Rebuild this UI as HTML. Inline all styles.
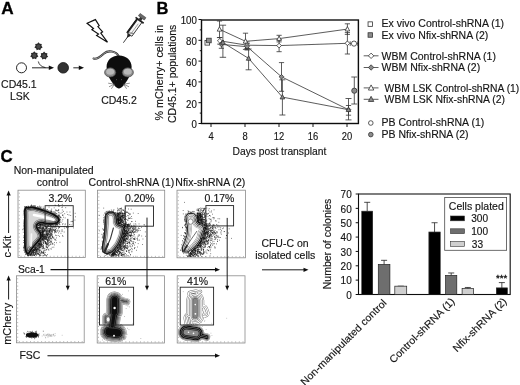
<!DOCTYPE html>
<html><head><meta charset="utf-8"><title>Figure</title>
<style>
html,body{margin:0;padding:0;background:#fff;}
svg{display:block;font-family:"Liberation Sans",sans-serif;}
</style></head>
<body>
<svg width="520" height="385" viewBox="0 0 520 385">
<rect width="520" height="385" fill="#fff"/>
<filter id="soft" x="0" y="0" width="520" height="385" filterUnits="userSpaceOnUse"><feGaussianBlur stdDeviation="0.35"/></filter>
<g filter="url(#soft)">
<text transform="translate(1.2 13.6)" font-size="17.2" text-anchor="start" font-weight="bold" fill="#000" stroke="#000" stroke-width="0.3">A</text>
<text transform="translate(156.4 13.8)" font-size="16.5" text-anchor="start" font-weight="bold" fill="#000" stroke="#000" stroke-width="0.3">B</text>
<text transform="translate(0.6 162.0)" font-size="16.9" text-anchor="start" font-weight="bold" fill="#000" stroke="#000" stroke-width="0.3">C</text>
<polygon points="38.50,42.30 39.81,43.78 41.78,43.88 41.45,45.83 42.59,47.43 40.86,48.39 40.32,50.28 38.50,49.52 36.68,50.28 36.14,48.39 34.41,47.43 35.55,45.83 35.22,43.88 37.19,43.78" fill="#2b2b2b"/>
<circle cx="38.5" cy="46.5" r="1.89" fill="#4a4a4a"/>
<polygon points="34.30,51.30 35.61,52.78 37.58,52.88 37.25,54.83 38.39,56.43 36.66,57.39 36.12,59.28 34.30,58.52 32.48,59.28 31.94,57.39 30.21,56.43 31.35,54.83 31.02,52.88 32.99,52.78" fill="#2b2b2b"/>
<circle cx="34.3" cy="55.5" r="1.89" fill="#4a4a4a"/>
<polygon points="44.10,51.60 45.41,53.08 47.38,53.18 47.05,55.13 48.19,56.73 46.46,57.69 45.92,59.58 44.10,58.82 42.28,59.58 41.74,57.69 40.01,56.73 41.15,55.13 40.82,53.18 42.79,53.08" fill="#2b2b2b"/>
<circle cx="44.1" cy="55.8" r="1.89" fill="#4a4a4a"/>
<circle cx="21.5" cy="67.8" r="5" fill="#fff" stroke="#111" stroke-width="0.9"/>
<path d="M32 67.8H50" stroke="#111" stroke-width="0.9" fill="none"/>
<polygon points="54,67.8 48.8,65.6 48.8,70" fill="#111"/>
<path d="M38.3 61.5Q39.5 66.5 45.5 67.6" stroke="#111" stroke-width="0.8" fill="none"/>
<circle cx="63.2" cy="67.8" r="5.3" fill="#333" stroke="#111" stroke-width="0.8"/>
<path d="M73.3 67.8H80" stroke="#111" stroke-width="0.9" fill="none"/>
<polygon points="84,67.8 78.8,65.6 78.8,70" fill="#111"/>
<text transform="translate(18.9 88.1) scale(1.04 1)" font-size="10.1" text-anchor="middle" fill="#151515" stroke="#151515" stroke-width="0.15">CD45.1</text>
<text transform="translate(19.9 100.4) scale(1.04 1)" font-size="10.1" text-anchor="middle" fill="#151515" stroke="#151515" stroke-width="0.15">LSK</text>
<text transform="translate(119 104) scale(1.04 1)" font-size="10.1" text-anchor="middle" fill="#151515" stroke="#151515" stroke-width="0.15">CD45.2</text>
<polygon points="87.1,23.3 95.4,19.6 99.2,25.6 97.9,26.6 102.6,31.8 100.8,33.1 107.5,42.2 96.6,35.5 98.5,34.1 91.9,29.7 93.5,28.5" fill="#fff" stroke="#111" stroke-width="1.15" stroke-linejoin="miter"/>
<g transform="translate(123.4 42.7) rotate(-54.08)"><path d="M0 0H7.5" stroke="#222" stroke-width="0.8"/><path d="M6 0L10.2 -2.2V2.2Z" fill="#222"/><rect x="10.2" y="-3.1" width="17" height="6.2" fill="#f6f6f6" stroke="#222" stroke-width="0.8"/><path d="M10.2 -2.7H27.2" stroke="#1a1a1a" stroke-width="1.9"/><path d="M12 0.9H24" stroke="#9a9a9a" stroke-width="0.8"/><path d="M10.5 -2.6L13.5 2.8" stroke="#444" stroke-width="0.7"/><path d="M27.6 -5V5" stroke="#222" stroke-width="1.7"/><path d="M28 0H31" stroke="#333" stroke-width="3"/><rect x="30.6" y="-3.6" width="2.9" height="7.2" fill="#6a6a6a" stroke="#333" stroke-width="0.5"/></g>
<path d="M118.6 56.2C116 51 108 50 104 53.5S97 59.5 93.6 58.6" stroke="#2a2a2a" stroke-width="2.1" fill="none" stroke-linecap="round"/>
<path d="M118.6 56.2C116 51 108 50 104 53.5S97 59.5 93.6 58.6" stroke="#c0c0c0" stroke-width="0.75" fill="none" stroke-linecap="round"/>
<path d="M119 55.4C126.5 55.4 131.6 60.5 131.6 66.8C131.6 72 129.8 76.5 127.3 80.3C124.6 84.5 121.5 88.4 119 88.4C116.5 88.4 113.4 84.5 110.7 80.3C108.2 76.5 106.6 72 106.6 66.8C106.6 60.5 111.5 55.4 119 55.4Z" fill="#0a0a0a"/>
<ellipse cx="110.2" cy="72.4" rx="5.6" ry="4.6" fill="#8a8a8a" stroke="#444" stroke-width="0.7"/>
<ellipse cx="110.2" cy="71.8" rx="4" ry="3" fill="#b9b9b9"/>
<ellipse cx="127.8" cy="72.4" rx="5.6" ry="4.6" fill="#8a8a8a" stroke="#444" stroke-width="0.7"/>
<ellipse cx="127.8" cy="71.8" rx="4" ry="3" fill="#b9b9b9"/>
<path d="M114.4 84.2L108.2 83.2" stroke="#5a5a5a" stroke-width="0.65"/>
<path d="M114.4 84.2L109 86.8" stroke="#5a5a5a" stroke-width="0.65"/>
<path d="M114.4 84.2L111.4 88.8" stroke="#5a5a5a" stroke-width="0.65"/>
<path d="M123.6 84.2L129.8 83.2" stroke="#5a5a5a" stroke-width="0.65"/>
<path d="M123.6 84.2L129 86.8" stroke="#5a5a5a" stroke-width="0.65"/>
<path d="M123.6 84.2L126.6 88.8" stroke="#5a5a5a" stroke-width="0.65"/>
<circle cx="116.6" cy="79.6" r="0.6" fill="#555"/><circle cx="121.4" cy="79.6" r="0.6" fill="#555"/>
<rect x="201.5" y="20" width="156.9" height="103.5" fill="none" stroke="#111" stroke-width="1.4"/>
<path d="M198.5 123.50H201.5" stroke="#111" stroke-width="1"/>
<text transform="translate(196.9 128.4) scale(0.95 1)" font-size="10.2" text-anchor="end" fill="#151515" stroke="#151515" stroke-width="0.15">0</text>
<path d="M199.8 113.10H201.5" stroke="#111" stroke-width="1"/>
<path d="M198.5 102.70H201.5" stroke="#111" stroke-width="1"/>
<text transform="translate(196.9 107.60000000000001) scale(0.95 1)" font-size="10.2" text-anchor="end" fill="#151515" stroke="#151515" stroke-width="0.15">20</text>
<path d="M199.8 92.30H201.5" stroke="#111" stroke-width="1"/>
<path d="M198.5 81.90H201.5" stroke="#111" stroke-width="1"/>
<text transform="translate(196.9 86.80000000000001) scale(0.95 1)" font-size="10.2" text-anchor="end" fill="#151515" stroke="#151515" stroke-width="0.15">40</text>
<path d="M199.8 71.50H201.5" stroke="#111" stroke-width="1"/>
<path d="M198.5 61.10H201.5" stroke="#111" stroke-width="1"/>
<text transform="translate(196.9 66.0) scale(0.95 1)" font-size="10.2" text-anchor="end" fill="#151515" stroke="#151515" stroke-width="0.15">60</text>
<path d="M199.8 50.70H201.5" stroke="#111" stroke-width="1"/>
<path d="M198.5 40.30H201.5" stroke="#111" stroke-width="1"/>
<text transform="translate(196.9 45.199999999999996) scale(0.95 1)" font-size="10.2" text-anchor="end" fill="#151515" stroke="#151515" stroke-width="0.15">80</text>
<path d="M199.8 29.90H201.5" stroke="#111" stroke-width="1"/>
<path d="M198.5 19.50H201.5" stroke="#111" stroke-width="1"/>
<text transform="translate(196.9 24.4) scale(0.95 1)" font-size="10.2" text-anchor="end" fill="#151515" stroke="#151515" stroke-width="0.15">100</text>
<path d="M211.0 123.5V127" stroke="#111" stroke-width="1"/>
<text transform="translate(211.0 140.3) scale(0.92 1)" font-size="10.2" text-anchor="middle" fill="#151515" stroke="#151515" stroke-width="0.15">4</text>
<path d="M245.0 123.5V127" stroke="#111" stroke-width="1"/>
<text transform="translate(245.0 140.3) scale(0.92 1)" font-size="10.2" text-anchor="middle" fill="#151515" stroke="#151515" stroke-width="0.15">8</text>
<path d="M279.0 123.5V127" stroke="#111" stroke-width="1"/>
<text transform="translate(279.0 140.3) scale(0.92 1)" font-size="10.2" text-anchor="middle" fill="#151515" stroke="#151515" stroke-width="0.15">12</text>
<path d="M313.0 123.5V127" stroke="#111" stroke-width="1"/>
<text transform="translate(313.0 140.3) scale(0.92 1)" font-size="10.2" text-anchor="middle" fill="#151515" stroke="#151515" stroke-width="0.15">16</text>
<path d="M347.0 123.5V127" stroke="#111" stroke-width="1"/>
<text transform="translate(347.0 140.3) scale(0.92 1)" font-size="10.2" text-anchor="middle" fill="#151515" stroke="#151515" stroke-width="0.15">20</text>
<text transform="translate(279.4 155.0)" font-size="10.3" text-anchor="middle" fill="#151515" stroke="#151515" stroke-width="0.15">Days post transplant</text>
<text transform="translate(163.1 72.6) rotate(-90) scale(1.065 1)" font-size="10.1" text-anchor="middle" fill="#151515" stroke="#151515" stroke-width="0.15">% mCherry+ cells in</text>
<text transform="translate(176.4 73.8) rotate(-90) scale(1.04 1)" font-size="10.1" text-anchor="middle" fill="#151515" stroke="#151515" stroke-width="0.15">CD45.1+ populations</text>
<path d="M219.5 21V37.6M216.9 21H222.1M216.9 37.6H222.1" stroke="#333" stroke-width="0.8" fill="none"/>
<path d="M245.5 33.2V49.4M242.9 33.2H248.1M242.9 49.4H248.1" stroke="#333" stroke-width="0.8" fill="none"/>
<path d="M279.1 35.3V41.9M276.5 35.3H281.70000000000005M276.5 41.9H281.70000000000005" stroke="#333" stroke-width="0.8" fill="none"/>
<path d="M347.4 23.8V34.4M344.79999999999995 23.8H350.0M344.79999999999995 34.4H350.0" stroke="#333" stroke-width="0.8" fill="none"/>
<path d="M219.8 37.5V44.1M217.20000000000002 37.5H222.4M217.20000000000002 44.1H222.4" stroke="#333" stroke-width="0.8" fill="none"/>
<path d="M247 42V48.5M244.4 42H249.6M244.4 48.5H249.6" stroke="#333" stroke-width="0.8" fill="none"/>
<path d="M279.1 39.5V51.7M276.5 39.5H281.70000000000005M276.5 51.7H281.70000000000005" stroke="#333" stroke-width="0.8" fill="none"/>
<path d="M347.4 32.6V54M344.79999999999995 32.6H350.0M344.79999999999995 54H350.0" stroke="#333" stroke-width="0.8" fill="none"/>
<path d="M221.4 40.5V48.3M218.8 40.5H224.0M218.8 48.3H224.0" stroke="#333" stroke-width="0.8" fill="none"/>
<path d="M247.1 43.5V50M244.5 43.5H249.7M244.5 50H249.7" stroke="#333" stroke-width="0.8" fill="none"/>
<path d="M281.5 62.6V91.3M278.9 62.6H284.1M278.9 91.3H284.1" stroke="#333" stroke-width="0.8" fill="none"/>
<path d="M348.5 105.5V115.2M345.9 105.5H351.1M345.9 115.2H351.1" stroke="#333" stroke-width="0.8" fill="none"/>
<path d="M222.9 25.2V57.3M219.70000000000002 25.2H226.1M219.70000000000002 57.3H226.1" stroke="#333" stroke-width="0.8" fill="none"/>
<path d="M248.6 49V69.8M245.6 49H251.6M245.6 69.8H251.6" stroke="#333" stroke-width="0.8" fill="none"/>
<path d="M282.4 79.8V115M279.4 79.8H285.4M279.4 115H285.4" stroke="#333" stroke-width="0.8" fill="none"/>
<path d="M348.5 98.5V119.9M345.5 98.5H351.5M345.5 119.9H351.5" stroke="#333" stroke-width="0.8" fill="none"/>
<path d="M354.3 77V104M351.3 77H357.3M351.3 104H357.3" stroke="#333" stroke-width="0.8" fill="none"/>
<path d="M350.2 43.6H358M350.2 41.3V45.9M357.8 41.3V45.9" stroke="#333" stroke-width="0.8" fill="none"/>
<path d="M219.8 40.8L247 45.2L279.1 45.6L347.4 43.3" stroke="#333" stroke-width="0.8" fill="none"/>
<path d="M221.4 44.4L247.1 46.7L281.5 76.8L348.5 109.7" stroke="#333" stroke-width="0.8" fill="none"/>
<path d="M219.5 29.3L245.5 41.3L279.1 38.6L347.4 29.1" stroke="#333" stroke-width="0.8" fill="none"/>
<path d="M222.9 42.5L248.6 58.4L282.4 97.1L348.5 109.7" stroke="#333" stroke-width="0.8" fill="none"/>
<polygon points="217.2,31.14 219.5,26.77 221.8,31.14" fill="#fff" stroke="#333" stroke-width="0.8"/>
<polygon points="243.2,43.14 245.5,38.769999999999996 247.8,43.14" fill="#fff" stroke="#333" stroke-width="0.8"/>
<polygon points="276.8,40.44 279.1,36.07 281.40000000000003,40.44" fill="#fff" stroke="#333" stroke-width="0.8"/>
<polygon points="345.09999999999997,30.94 347.4,26.57 349.7,30.94" fill="#fff" stroke="#333" stroke-width="0.8"/>
<polygon points="217.45000000000002,40.8 219.8,38.449999999999996 222.15,40.8 219.8,43.15" fill="#fff" stroke="#333" stroke-width="0.8"/>
<polygon points="244.65,45.2 247,42.85 249.35,45.2 247,47.550000000000004" fill="#fff" stroke="#333" stroke-width="0.8"/>
<polygon points="276.75,45.6 279.1,43.25 281.45000000000005,45.6 279.1,47.95" fill="#fff" stroke="#333" stroke-width="0.8"/>
<polygon points="345.04999999999995,43.3 347.4,40.949999999999996 349.75,43.3 347.4,45.65" fill="#fff" stroke="#333" stroke-width="0.8"/>
<polygon points="219.05,44.4 221.4,42.05 223.75,44.4 221.4,46.75" fill="#8c8c8c" stroke="#333" stroke-width="0.8"/>
<polygon points="244.75,46.7 247.1,44.35 249.45,46.7 247.1,49.050000000000004" fill="#8c8c8c" stroke="#333" stroke-width="0.8"/>
<polygon points="279.15,76.8 281.5,74.45 283.85,76.8 281.5,79.14999999999999" fill="#8c8c8c" stroke="#333" stroke-width="0.8"/>
<polygon points="346.15,109.7 348.5,107.35000000000001 350.85,109.7 348.5,112.05" fill="#8c8c8c" stroke="#333" stroke-width="0.8"/>
<polygon points="220.6,44.34 222.9,39.97 225.20000000000002,44.34" fill="#8c8c8c" stroke="#333" stroke-width="0.8"/>
<polygon points="246.29999999999998,60.239999999999995 248.6,55.87 250.9,60.239999999999995" fill="#8c8c8c" stroke="#333" stroke-width="0.8"/>
<polygon points="280.09999999999997,98.94 282.4,94.57 284.7,98.94" fill="#8c8c8c" stroke="#333" stroke-width="0.8"/>
<polygon points="346.2,111.54 348.5,107.17 350.8,111.54" fill="#8c8c8c" stroke="#333" stroke-width="0.8"/>
<rect x="205.0" y="40.5" width="4.6" height="4.6" fill="#fff" stroke="#333" stroke-width="0.8"/>
<rect x="206.6" y="38.2" width="4.6" height="4.6" fill="#8c8c8c" stroke="#333" stroke-width="0.8"/>
<circle cx="354" cy="43.6" r="2.6" fill="#fff" stroke="#333" stroke-width="0.8"/>
<circle cx="354.3" cy="90.7" r="2.6" fill="#8c8c8c" stroke="#333" stroke-width="0.8"/>
<rect x="368.05" y="21.85" width="4.5" height="4.5" fill="#fff" stroke="#333" stroke-width="0.8"/>
<rect x="368.05" y="32.75" width="4.5" height="4.5" fill="#8c8c8c" stroke="#333" stroke-width="0.8"/>
<path d="M363.7 55.8H378.5" stroke="#333" stroke-width="0.8"/>
<path d="M363.7 67.5H378.5" stroke="#333" stroke-width="0.8"/>
<path d="M363.7 87.9H378.5" stroke="#333" stroke-width="0.8"/>
<path d="M363.7 99.3H378.5" stroke="#333" stroke-width="0.8"/>
<polygon points="368.40000000000003,55.8 371.1,53.099999999999994 373.8,55.8 371.1,58.5" fill="#fff" stroke="#333" stroke-width="0.8"/>
<polygon points="368.40000000000003,67.5 371.1,64.8 373.8,67.5 371.1,70.2" fill="#8c8c8c" stroke="#333" stroke-width="0.8"/>
<polygon points="368.40000000000003,90.06 371.1,84.93 373.8,90.06" fill="#fff" stroke="#333" stroke-width="0.8"/>
<polygon points="368.40000000000003,101.46 371.1,96.33 373.8,101.46" fill="#8c8c8c" stroke="#333" stroke-width="0.8"/>
<circle cx="370.8" cy="123" r="2.3" fill="#fff" stroke="#333" stroke-width="0.8"/>
<circle cx="370.8" cy="134.6" r="2.3" fill="#8c8c8c" stroke="#333" stroke-width="0.8"/>
<text transform="translate(381.6 27.4) scale(1.04 1)" font-size="10.1" text-anchor="start" fill="#151515" stroke="#151515" stroke-width="0.15">Ex vivo Control-shRNA (1)</text>
<text transform="translate(381.6 39.1) scale(1.04 1)" font-size="10.1" text-anchor="start" fill="#151515" stroke="#151515" stroke-width="0.15">Ex vivo Nfix-shRNA (2)</text>
<text transform="translate(381.6 60.2) scale(1.04 1)" font-size="10.1" text-anchor="start" fill="#151515" stroke="#151515" stroke-width="0.15">WBM Control-shRNA (1)</text>
<text transform="translate(381.6 71.4) scale(1.04 1)" font-size="10.1" text-anchor="start" fill="#151515" stroke="#151515" stroke-width="0.15">WBM Nfix-shRNA (2)</text>
<text transform="translate(384.6 91.5) scale(1.022 1)" font-size="10.1" text-anchor="start" fill="#151515" stroke="#151515" stroke-width="0.15">WBM LSK Control-shRNA (1)</text>
<text transform="translate(384.6 103.2) scale(1.033 1)" font-size="10.1" text-anchor="start" fill="#151515" stroke="#151515" stroke-width="0.15">WBM LSK Nfix-shRNA (2)</text>
<text transform="translate(381.6 126.3) scale(1.04 1)" font-size="10.1" text-anchor="start" fill="#151515" stroke="#151515" stroke-width="0.15">PB Control-shRNA (1)</text>
<text transform="translate(381.6 138) scale(1.04 1)" font-size="10.1" text-anchor="start" fill="#151515" stroke="#151515" stroke-width="0.15">PB Nfix-shRNA (2)</text>
<text transform="translate(53.6 173.5) scale(1.04 1)" font-size="10.1" text-anchor="middle" fill="#151515" stroke="#151515" stroke-width="0.15">Non-manipulated</text>
<text transform="translate(52.6 185.7) scale(1.04 1)" font-size="10.1" text-anchor="middle" fill="#151515" stroke="#151515" stroke-width="0.15">control</text>
<text transform="translate(131.5 185.7) scale(1.04 1)" font-size="10.1" text-anchor="middle" fill="#151515" stroke="#151515" stroke-width="0.15">Control-shRNA (1)</text>
<text transform="translate(210.3 186.2) scale(1.04 1)" font-size="10.1" text-anchor="middle" fill="#151515" stroke="#151515" stroke-width="0.15">Nfix-shRNA (2)</text>
<rect x="18.0" y="190.2" width="67.30" height="67.20" fill="#fff" stroke="#8a8a8a" stroke-width="0.8"/>
<path d="M18.8 193.2h1M21.0 255.79999999999998v1M18.8 196.9h1M24.7 255.79999999999998v1M18.8 200.5h1M28.3 255.79999999999998v1M18.8 204.2h1M32.0 255.79999999999998v1M18.8 207.8h1M35.7 255.79999999999998v1M18.8 211.5h1M39.3 255.79999999999998v1M18.8 215.2h1M43.0 255.79999999999998v1M18.8 218.8h1M46.7 255.79999999999998v1M18.8 222.5h1M50.3 255.79999999999998v1M18.8 226.1h1M54.0 255.79999999999998v1M18.8 229.8h1M57.6 255.79999999999998v1M18.8 233.4h1M61.3 255.79999999999998v1M18.8 237.1h1M65.0 255.79999999999998v1M18.8 240.8h1M68.6 255.79999999999998v1M18.8 244.4h1M72.3 255.79999999999998v1M18.8 248.1h1M76.0 255.79999999999998v1M18.8 251.7h1M79.6 255.79999999999998v1M18.8 255.4h1M83.3 255.79999999999998v1" stroke="#666" stroke-width="0.5"/>
<clipPath id="c0"><rect x="19.0" y="191.2" width="65.3" height="65.19999999999999"/></clipPath>
<rect x="97.5" y="190.2" width="67.20" height="67.30" fill="#fff" stroke="#8a8a8a" stroke-width="0.8"/>
<path d="M98.3 193.2h1M100.5 255.9v1M98.3 196.9h1M104.2 255.9v1M98.3 200.5h1M107.8 255.9v1M98.3 204.2h1M111.5 255.9v1M98.3 207.9h1M115.1 255.9v1M98.3 211.5h1M118.8 255.9v1M98.3 215.2h1M122.5 255.9v1M98.3 218.9h1M126.1 255.9v1M98.3 222.5h1M129.8 255.9v1M98.3 226.2h1M133.4 255.9v1M98.3 229.8h1M137.1 255.9v1M98.3 233.5h1M140.7 255.9v1M98.3 237.2h1M144.4 255.9v1M98.3 240.8h1M148.1 255.9v1M98.3 244.5h1M151.7 255.9v1M98.3 248.2h1M155.4 255.9v1M98.3 251.8h1M159.0 255.9v1M98.3 255.5h1M162.7 255.9v1" stroke="#666" stroke-width="0.5"/>
<clipPath id="c1"><rect x="98.5" y="191.2" width="65.19999999999999" height="65.30000000000001"/></clipPath>
<rect x="177" y="190.2" width="68.50" height="67.60" fill="#fff" stroke="#8a8a8a" stroke-width="0.8"/>
<path d="M177.8 193.2h1M180.0 256.2v1M177.8 196.9h1M183.7 256.2v1M177.8 200.6h1M187.5 256.2v1M177.8 204.2h1M191.2 256.2v1M177.8 207.9h1M194.9 256.2v1M177.8 211.6h1M198.7 256.2v1M177.8 215.3h1M202.4 256.2v1M177.8 219.0h1M206.1 256.2v1M177.8 222.7h1M209.9 256.2v1M177.8 226.3h1M213.6 256.2v1M177.8 230.0h1M217.4 256.2v1M177.8 233.7h1M221.1 256.2v1M177.8 237.4h1M224.8 256.2v1M177.8 241.1h1M228.6 256.2v1M177.8 244.8h1M232.3 256.2v1M177.8 248.4h1M236.0 256.2v1M177.8 252.1h1M239.8 256.2v1M177.8 255.8h1M243.5 256.2v1" stroke="#666" stroke-width="0.5"/>
<clipPath id="c2"><rect x="178" y="191.2" width="66.5" height="65.60000000000002"/></clipPath>
<rect x="16.4" y="275.8" width="67.80" height="67.00" fill="#fff" stroke="#8a8a8a" stroke-width="0.8"/>
<path d="M17.2 278.8h1M19.4 341.2v1M17.2 282.4h1M23.1 341.2v1M17.2 286.1h1M26.8 341.2v1M17.2 289.7h1M30.5 341.2v1M17.2 293.4h1M34.2 341.2v1M17.2 297.0h1M37.9 341.2v1M17.2 300.7h1M41.6 341.2v1M17.2 304.3h1M45.3 341.2v1M17.2 308.0h1M49.0 341.2v1M17.2 311.6h1M52.6 341.2v1M17.2 315.3h1M56.3 341.2v1M17.2 318.9h1M60.0 341.2v1M17.2 322.6h1M63.7 341.2v1M17.2 326.2h1M67.4 341.2v1M17.2 329.9h1M71.1 341.2v1M17.2 333.5h1M74.8 341.2v1M17.2 337.2h1M78.5 341.2v1M17.2 340.8h1M82.2 341.2v1" stroke="#666" stroke-width="0.5"/>
<clipPath id="c3"><rect x="17.4" y="276.8" width="65.80000000000001" height="65.0"/></clipPath>
<rect x="97.2" y="275.8" width="67.30" height="67.20" fill="#fff" stroke="#8a8a8a" stroke-width="0.8"/>
<path d="M98.0 278.8h1M100.2 341.4v1M98.0 282.5h1M103.9 341.4v1M98.0 286.1h1M107.5 341.4v1M98.0 289.8h1M111.2 341.4v1M98.0 293.4h1M114.9 341.4v1M98.0 297.1h1M118.5 341.4v1M98.0 300.8h1M122.2 341.4v1M98.0 304.4h1M125.9 341.4v1M98.0 308.1h1M129.5 341.4v1M98.0 311.7h1M133.2 341.4v1M98.0 315.4h1M136.8 341.4v1M98.0 319.0h1M140.5 341.4v1M98.0 322.7h1M144.2 341.4v1M98.0 326.4h1M147.8 341.4v1M98.0 330.0h1M151.5 341.4v1M98.0 333.7h1M155.2 341.4v1M98.0 337.3h1M158.8 341.4v1M98.0 341.0h1M162.5 341.4v1" stroke="#666" stroke-width="0.5"/>
<clipPath id="c4"><rect x="98.2" y="276.8" width="65.3" height="65.19999999999999"/></clipPath>
<rect x="177.2" y="275.8" width="67.80" height="67.20" fill="#fff" stroke="#8a8a8a" stroke-width="0.8"/>
<path d="M178.0 278.8h1M180.2 341.4v1M178.0 282.5h1M183.9 341.4v1M178.0 286.1h1M187.6 341.4v1M178.0 289.8h1M191.3 341.4v1M178.0 293.4h1M195.0 341.4v1M178.0 297.1h1M198.7 341.4v1M178.0 300.8h1M202.4 341.4v1M178.0 304.4h1M206.1 341.4v1M178.0 308.1h1M209.8 341.4v1M178.0 311.7h1M213.4 341.4v1M178.0 315.4h1M217.1 341.4v1M178.0 319.0h1M220.8 341.4v1M178.0 322.7h1M224.5 341.4v1M178.0 326.4h1M228.2 341.4v1M178.0 330.0h1M231.9 341.4v1M178.0 333.7h1M235.6 341.4v1M178.0 337.3h1M239.3 341.4v1M178.0 341.0h1M243.0 341.4v1" stroke="#666" stroke-width="0.5"/>
<clipPath id="c5"><rect x="178.2" y="276.8" width="65.80000000000001" height="65.19999999999999"/></clipPath>
<g clip-path="url(#c0)">
<path d="M47.9 234.0h.7M51.7 225.9h.7M40.8 240.9h.7M41.7 240.0h.7M42.5 224.7h.7M40.2 226.4h.7M43.1 237.3h.7M45.4 230.8h.7M45.9 243.9h.7M44.5 236.4h.7M44.1 255.2h.7M46.0 232.9h.7M45.2 228.2h.7M36.7 250.0h.7M52.5 229.4h.7M46.5 235.6h.7M41.2 241.3h.7M42.7 230.2h.7M41.3 245.6h.7M40.7 242.5h.7M44.9 238.2h.7M47.7 246.2h.7M50.5 231.4h.7M35.1 251.9h.7M39.3 247.2h.7M67.9 227.3h.7M41.7 237.1h.7M44.3 239.4h.7M48.1 224.8h.7M48.7 242.1h.7M35.5 252.0h.7M47.8 242.8h.7M51.1 242.3h.7M33.2 254.2h.7M42.0 238.9h.7M37.3 246.3h.7M49.9 244.5h.7M42.1 232.7h.7M42.2 236.0h.7M42.3 238.5h.7M41.2 229.0h.7M35.1 248.5h.7M38.7 227.7h.7M38.8 251.8h.7M51.8 226.1h.7M33.6 252.2h.7M36.2 250.1h.7M45.7 237.0h.7M55.2 235.2h.7M56.1 228.4h.7M42.2 229.2h.7M45.4 239.3h.7M37.9 242.6h.7M42.1 237.1h.7M57.8 235.5h.7M42.8 245.9h.7M47.3 240.3h.7M50.0 225.3h.7M33.1 252.7h.7M48.2 249.4h.7M44.1 236.3h.7M38.7 244.1h.7M45.5 225.5h.7M41.4 228.8h.7M41.7 234.6h.7M38.6 228.4h.7M40.1 226.8h.7M32.0 251.9h.7M40.5 243.5h.7M46.0 234.8h.7M51.6 235.3h.7M39.2 255.8h.7M43.8 238.6h.7M39.0 226.8h.7M42.8 234.6h.7M58.0 228.7h.7M52.1 224.3h.7M42.4 228.3h.7M47.4 241.2h.7M29.8 255.3h.7M33.0 251.6h.7M46.8 235.4h.7M40.3 228.9h.7M42.5 248.8h.7M43.8 234.2h.7M43.1 255.5h.7M36.3 251.2h.7M47.3 247.5h.7M49.4 230.9h.7M39.7 224.4h.7M40.1 224.4h.7M40.9 246.0h.7M47.2 254.6h.7M34.3 255.6h.7M32.5 254.5h.7M46.0 230.9h.7M44.9 229.9h.7M41.0 252.8h.7M43.0 250.8h.7M34.0 249.5h.7M51.4 226.3h.7M47.4 248.9h.7M38.5 247.9h.7M33.5 249.1h.7M47.8 234.3h.7M59.2 236.4h.7M52.1 236.5h.7M46.2 229.0h.7M52.0 227.6h.7M46.2 249.7h.7M52.2 228.3h.7M54.3 244.9h.7M45.2 234.9h.7M40.4 224.0h.7M34.3 255.1h.7M37.3 253.8h.7M50.1 237.6h.7M53.1 230.4h.7M43.1 231.7h.7M43.0 242.6h.7M45.3 231.9h.7M31.9 253.1h.7M50.9 235.0h.7M32.7 252.9h.7M48.5 237.2h.7M43.3 240.8h.7M46.9 240.5h.7M42.6 229.5h.7M40.7 223.6h.7M44.7 238.9h.7M40.7 247.1h.7M41.8 240.3h.7M39.4 241.6h.7M41.8 241.7h.7M43.9 231.6h.7M51.5 240.0h.7M39.5 241.8h.7M56.0 237.9h.7M45.9 243.4h.7M35.6 246.0h.7M48.7 238.2h.7M30.9 254.1h.7M47.8 246.2h.7M55.1 231.9h.7M51.1 241.7h.7M45.6 228.0h.7M42.4 227.5h.7M42.6 231.3h.7M48.0 225.9h.7M42.6 252.7h.7M41.8 228.5h.7M53.7 228.1h.7M36.0 252.2h.7M29.9 254.5h.7M62.6 236.4h.7M33.6 250.6h.7M49.9 228.7h.7M45.3 234.5h.7M47.3 229.9h.7M55.4 224.1h.7M40.0 241.5h.7M42.0 234.3h.7M39.6 243.8h.7M28.1 255.5h.7M36.4 249.1h.7M42.2 232.1h.7M40.1 224.8h.7M46.9 227.7h.7M52.1 237.2h.7M49.5 231.9h.7M50.5 228.4h.7M39.8 246.3h.7M54.3 226.4h.7M45.1 237.3h.7M53.2 225.9h.7M36.7 249.6h.7M41.0 226.2h.7M33.3 251.5h.7M45.8 238.2h.7M38.2 253.6h.7M48.3 232.2h.7M48.9 231.2h.7M40.3 227.1h.7M43.9 230.1h.7M45.9 233.6h.7M54.0 232.9h.7M42.9 239.8h.7M48.2 224.1h.7M54.8 231.6h.7M39.9 241.4h.7M61.7 229.7h.7M42.5 227.0h.7M40.5 250.1h.7M35.5 250.6h.7M52.2 236.3h.7M28.4 255.4h.7M47.3 234.6h.7M46.6 244.2h.7M42.8 236.7h.7M41.4 227.7h.7M39.0 225.8h.7M46.5 228.8h.7M50.7 226.2h.7M48.3 245.3h.7M41.8 232.7h.7M46.7 238.4h.7M46.2 228.6h.7M30.6 254.8h.7M34.2 255.1h.7M30.2 254.9h.7M41.7 233.6h.7M41.8 235.9h.7M45.2 238.9h.7M40.1 239.9h.7M39.0 223.7h.7M44.5 236.5h.7M48.1 224.9h.7M42.5 231.1h.7M49.5 242.5h.7M38.4 244.9h.7M40.1 246.8h.7M46.7 234.1h.7M35.9 255.5h.7M45.9 244.4h.7M50.8 224.9h.7M50.0 243.9h.7M35.8 247.4h.7M43.0 240.5h.7M46.3 239.9h.7M44.2 250.4h.7M46.4 242.5h.7M42.3 246.0h.7M45.9 231.0h.7M42.3 235.2h.7M45.7 226.9h.7M44.8 243.9h.7M40.5 243.9h.7M50.9 223.6h.7M32.7 249.4h.7M47.4 240.9h.7M47.1 244.9h.7M46.9 231.7h.7M40.3 225.9h.7M55.4 230.2h.7M42.8 247.5h.7M42.8 235.9h.7M45.3 239.1h.7M48.4 243.6h.7M40.1 244.4h.7M43.7 231.8h.7M37.3 247.7h.7M52.8 223.9h.7M40.5 225.5h.7M46.3 246.0h.7M37.9 245.5h.7M48.8 238.6h.7M51.3 238.7h.7M53.9 230.0h.7M29.5 255.3h.7M41.7 238.4h.7M40.5 250.1h.7M43.3 232.2h.7M47.1 230.3h.7M39.7 242.4h.7M64.4 228.1h.7M42.5 227.8h.7M48.5 250.2h.7M35.8 246.4h.7M49.3 231.0h.7M46.5 224.3h.7M51.4 223.6h.7M41.9 233.3h.7M43.6 228.1h.7M37.3 250.8h.7M38.6 223.6h.7M59.1 227.4h.7M33.4 253.6h.7M58.1 232.9h.7M62.1 235.6h.7M54.1 242.6h.7M46.8 235.2h.7M42.5 225.1h.7M43.0 226.8h.7M35.0 253.9h.7M42.5 231.6h.7M51.9 229.7h.7M55.9 235.6h.7M36.7 249.9h.7M51.5 244.0h.7M47.4 241.3h.7M46.2 246.9h.7M44.7 238.2h.7M37.6 248.0h.7M45.9 225.1h.7M35.8 253.6h.7M47.5 234.7h.7M43.0 233.2h.7M63.8 232.0h.7M39.1 244.8h.7M50.0 236.3h.7M42.2 228.9h.7M34.6 252.9h.7M43.0 239.7h.7M45.8 255.9h.7M44.2 238.1h.7M44.0 226.4h.7M46.1 234.6h.7M44.8 231.9h.7M47.2 242.0h.7M48.9 236.9h.7M48.1 237.0h.7M42.6 234.5h.7M43.6 225.5h.7M66.2 227.6h.7M49.3 239.9h.7M53.9 230.5h.7M41.6 232.3h.7M48.1 238.0h.7M38.5 254.5h.7M57.7 224.2h.7M44.7 224.5h.7M54.5 238.9h.7M45.0 242.6h.7M29.3 253.6h.7M44.9 250.3h.7M58.9 231.6h.7M46.0 227.0h.7M43.0 245.7h.7M31.1 254.1h.7M44.4 248.4h.7M43.0 238.4h.7M33.7 248.9h.7M52.1 231.1h.7M46.9 233.4h.7M38.7 227.7h.7M45.7 246.2h.7M50.4 227.1h.7M41.7 242.4h.7M43.1 236.1h.7M54.2 223.8h.7M60.6 233.3h.7M41.0 244.4h.7M36.3 252.2h.7M42.4 231.5h.7M30.5 254.7h.7M48.1 224.2h.7M43.4 239.7h.7M49.1 231.9h.7M40.6 245.2h.7M42.2 224.6h.7M51.5 234.5h.7M47.8 229.9h.7M33.2 249.4h.7M51.7 230.2h.7M34.1 255.0h.7M55.9 231.0h.7M42.0 230.7h.7M35.7 254.4h.7M42.1 239.6h.7M46.0 237.1h.7M39.9 245.1h.7M42.7 236.3h.7M46.2 230.4h.7M39.5 225.2h.7M57.4 225.5h.7M41.2 252.2h.7M51.8 247.3h.7M41.8 234.2h.7M54.9 229.5h.7M46.0 224.5h.7M41.1 245.1h.7M46.5 234.3h.7M48.7 229.0h.7M41.6 234.9h.7M44.0 254.6h.7M57.1 230.2h.7M47.4 235.1h.7M52.7 237.6h.7M49.3 225.1h.7M30.8 253.4h.7M53.7 229.8h.7M57.0 224.5h.7M45.9 236.9h.7M56.6 224.8h.7M62.4 224.6h.7M48.5 231.9h.7M39.5 247.8h.7M45.9 232.4h.7M33.4 254.6h.7M38.6 246.8h.7M41.6 233.8h.7M34.3 248.1h.7M42.7 253.3h.7M59.2 224.3h.7M62.2 231.1h.7M31.9 254.5h.7M41.5 236.1h.7M47.4 239.5h.7M35.4 253.7h.7M46.6 247.5h.7M33.5 250.2h.7M51.8 234.2h.7M50.1 233.9h.7M53.3 226.1h.7M41.6 229.9h.7M47.0 225.6h.7M48.2 224.6h.7M30.4 255.4h.7M36.8 252.2h.7M39.2 226.2h.7M55.8 226.6h.7M41.6 238.0h.7M51.6 231.1h.7M40.8 245.4h.7M40.3 247.8h.7M51.5 227.4h.7M34.3 250.8h.7M50.5 235.6h.7M35.9 247.5h.7M47.4 231.5h.7M48.8 228.5h.7M48.1 234.1h.7M49.8 236.4h.7M42.0 231.0h.7M46.1 249.8h.7M66.0 226.8h.7M46.2 238.9h.7M44.0 253.2h.7M40.1 224.8h.7M45.7 229.7h.7M45.0 255.1h.7M49.8 235.6h.7M36.8 251.6h.7M35.0 248.8h.7M37.7 254.2h.7M43.1 243.6h.7M44.7 230.6h.7M45.0 230.1h.7M51.2 231.8h.7M48.8 230.1h.7M46.7 223.9h.7M53.2 229.5h.7M45.5 233.6h.7M50.7 241.3h.7M47.6 225.6h.7M43.0 241.4h.7M40.3 244.3h.7M37.6 246.1h.7M42.7 236.8h.7M35.7 254.5h.7M48.1 233.7h.7M44.1 237.0h.7M38.6 251.6h.7M41.7 229.9h.7M34.6 247.2h.7M30.8 252.8h.7M44.5 237.3h.7M37.9 252.2h.7M41.7 238.5h.7M39.9 241.4h.7M39.2 244.3h.7M38.7 243.7h.7M45.5 235.6h.7M41.6 232.7h.7M42.5 240.4h.7M41.8 239.4h.7M37.5 249.7h.7M40.0 227.6h.7M38.4 254.1h.7M40.5 225.2h.7M43.0 253.6h.7M47.2 243.7h.7M39.3 250.3h.7M54.1 230.7h.7M48.9 236.6h.7M55.1 229.4h.7M49.8 230.6h.7M46.6 236.0h.7M38.8 227.5h.7M43.2 252.7h.7M56.3 224.8h.7M45.9 224.7h.7M39.5 250.7h.7M45.2 241.4h.7M39.5 243.9h.7M45.0 242.4h.7M45.5 237.3h.7M47.6 237.7h.7M48.4 224.3h.7M48.1 231.1h.7M35.1 248.3h.7M51.1 229.3h.7M43.5 238.9h.7M43.7 237.5h.7M50.8 226.5h.7M43.4 224.8h.7M46.9 244.2h.7M39.3 248.8h.7M47.4 240.1h.7M44.3 235.8h.7M39.5 254.4h.7M40.3 255.9h.7M36.2 247.3h.7M33.0 255.4h.7M54.8 239.5h.7M44.7 228.9h.7M35.4 249.1h.7M42.6 234.9h.7M42.5 248.1h.7M55.9 232.4h.7M37.9 250.0h.7M37.1 253.4h.7M42.3 230.3h.7M50.6 233.9h.7M41.3 224.7h.7M33.6 253.9h.7M39.1 245.6h.7M35.8 249.0h.7M53.6 227.2h.7M43.5 235.2h.7M40.7 251.9h.7M34.1 252.2h.7M53.9 226.9h.7M41.9 236.3h.7M34.8 249.4h.7M59.6 242.3h.7M42.2 235.2h.7M51.0 229.2h.7M47.4 247.7h.7M46.0 231.7h.7M46.2 244.3h.7M37.0 245.1h.7M43.5 233.7h.7M38.5 228.4h.7M45.0 243.5h.7M34.2 252.6h.7M40.7 227.8h.7M55.2 224.2h.7M41.9 223.6h.7M44.2 235.1h.7M51.3 230.8h.7M47.3 230.1h.7M40.8 243.8h.7M29.8 253.9h.7M43.7 231.4h.7M39.3 244.2h.7M32.4 251.8h.7M49.6 232.1h.7M47.7 223.9h.7M49.0 234.9h.7M52.5 244.5h.7M40.4 247.3h.7M43.5 231.6h.7M40.5 240.8h.7M41.7 236.7h.7M35.7 248.8h.7M64.9 223.9h.7M46.4 228.1h.7M49.5 230.0h.7M42.0 244.4h.7M35.3 249.9h.7M47.5 233.3h.7M53.8 225.1h.7M43.1 246.8h.7M49.4 223.7h.7M50.1 238.6h.7M39.2 247.6h.7M40.8 226.9h.7M48.9 231.0h.7M35.5 247.9h.7M41.8 246.1h.7M52.1 232.1h.7M50.1 241.5h.7M44.3 240.5h.7M54.7 232.1h.7M58.7 230.6h.7M36.8 252.1h.7M42.1 231.2h.7M45.8 247.7h.7M45.8 234.1h.7M33.3 252.1h.7M35.2 253.0h.7M40.6 244.0h.7M39.7 255.3h.7M46.4 238.8h.7M41.6 251.4h.7M42.9 237.7h.7M51.4 233.5h.7M44.0 230.4h.7M32.0 253.1h.7M43.4 228.2h.7M29.9 253.7h.7M42.6 234.7h.7M40.6 224.9h.7M42.9 246.0h.7M42.9 247.4h.7M47.5 225.6h.7M36.1 250.1h.7M34.3 250.1h.7M32.7 251.7h.7M33.3 253.2h.7M42.9 230.2h.7M59.0 227.1h.7M35.5 249.9h.7M41.4 244.1h.7M51.5 232.8h.7M53.5 226.7h.7M49.9 230.2h.7M42.9 233.9h.7M42.3 231.8h.7M43.1 232.7h.7M48.6 233.9h.7M44.8 254.8h.7M37.5 243.6h.7M49.0 224.5h.7M37.5 248.6h.7M44.1 234.8h.7M51.7 230.5h.7M43.5 251.5h.7M50.4 229.0h.7M44.4 223.5h.7M41.7 255.3h.7M52.2 223.6h.7M33.1 249.4h.7M49.6 229.5h.7M32.0 250.5h.7M47.7 232.0h.7M43.9 230.5h.7M38.7 246.2h.7M36.7 244.2h.7M42.6 226.1h.7M44.6 249.1h.7M41.4 243.9h.7M47.1 236.3h.7M44.9 252.4h.7M51.0 224.3h.7M43.0 230.2h.7M54.6 239.8h.7M45.4 235.8h.7M44.3 238.5h.7M39.7 240.8h.7M48.6 244.5h.7M43.5 234.8h.7M35.5 250.9h.7M36.3 245.0h.7M45.5 237.8h.7M36.7 248.6h.7M42.7 238.5h.7M30.8 252.3h.7M46.6 233.3h.7M37.4 246.4h.7M43.5 228.6h.7M46.1 231.5h.7M49.7 228.7h.7M49.2 234.2h.7M53.5 247.2h.7M43.4 226.8h.7M42.3 236.0h.7M31.7 255.5h.7M51.9 237.6h.7M44.2 229.9h.7M44.6 230.2h.7M48.5 236.1h.7M34.4 249.2h.7M45.8 246.0h.7M41.1 238.6h.7M47.1 228.1h.7M38.7 247.6h.7M39.5 253.0h.7M38.1 247.8h.7M43.0 237.2h.7M43.4 252.1h.7M37.9 248.7h.7M49.4 245.6h.7M42.6 244.4h.7M38.7 243.9h.7M55.3 226.7h.7M41.1 246.7h.7M36.9 244.0h.7M48.2 238.3h.7M46.1 243.7h.7M35.9 253.7h.7M50.1 229.4h.7M51.6 236.1h.7M42.2 239.4h.7M39.3 241.2h.7M43.4 228.7h.7M55.6 240.4h.7M50.7 226.8h.7M38.9 246.8h.7M48.0 240.1h.7M49.5 240.5h.7M46.0 236.8h.7M37.1 245.7h.7M41.8 236.3h.7M32.2 255.5h.7M47.0 235.1h.7M43.4 236.5h.7M49.1 223.9h.7M38.9 246.2h.7M42.0 234.9h.7M39.4 247.6h.7M34.8 254.0h.7M33.4 249.5h.7M42.4 236.2h.7M37.1 248.7h.7M38.2 249.8h.7M44.4 241.8h.7M49.2 230.8h.7M38.1 244.3h.7M35.6 250.1h.7M49.6 233.1h.7M48.2 241.3h.7M51.4 235.0h.7M32.1 251.1h.7M49.4 231.7h.7M41.7 237.3h.7M35.0 247.0h.7M41.7 232.6h.7M46.3 239.1h.7M47.9 237.4h.7M49.6 235.3h.7M31.0 253.7h.7M34.0 250.4h.7M30.8 252.9h.7M36.0 250.5h.7M37.9 244.1h.7M28.8 254.4h.7M36.2 244.8h.7M43.4 228.1h.7M42.8 231.1h.7M48.1 228.5h.7M31.2 252.9h.7M35.0 252.5h.7M39.5 243.3h.7M42.0 252.6h.7M35.6 249.1h.7M39.4 246.0h.7M39.7 240.8h.7M39.2 252.2h.7M39.2 241.5h.7M46.2 228.0h.7M47.4 239.5h.7M42.8 228.2h.7M48.7 239.5h.7M31.1 251.5h.7M45.6 223.7h.7M45.2 241.8h.7M39.8 245.1h.7M47.1 237.1h.7M39.1 254.7h.7M41.4 244.2h.7M52.0 224.4h.7M37.2 253.8h.7M50.5 234.2h.7M41.4 239.3h.7M42.8 252.7h.7M39.4 243.8h.7M46.1 234.5h.7M45.6 238.9h.7M40.1 240.6h.7M46.0 237.6h.7M53.5 237.2h.7M46.4 233.0h.7M39.5 250.4h.7M46.9 232.3h.7M49.7 240.0h.7M34.5 249.2h.7M44.1 234.3h.7M43.4 242.6h.7M37.2 244.1h.7M36.6 247.0h.7M32.9 252.3h.7M42.2 233.3h.7M48.3 223.7h.7M52.4 243.3h.7M40.0 244.9h.7M52.5 243.4h.7M44.9 243.5h.7M45.5 242.9h.7M38.1 245.6h.7M50.7 238.4h.7M37.4 248.3h.7M42.8 224.7h.7M42.9 248.7h.7M46.9 235.5h.7M34.3 250.2h.7M51.7 231.9h.7M47.5 233.3h.7M44.3 237.5h.7M38.8 244.4h.7M39.4 241.9h.7M53.8 224.8h.7M46.9 242.2h.7M30.8 253.4h.7M41.9 236.1h.7M56.2 242.7h.7M47.9 239.0h.7M49.4 236.9h.7M48.9 230.4h.7M39.5 228.4h.7M35.5 245.7h.7M43.0 227.5h.7M31.5 251.8h.7M55.5 227.7h.7M43.0 231.4h.7M35.1 247.3h.7M35.5 248.7h.7M42.2 246.7h.7M52.6 226.2h.7M38.9 243.9h.7M38.1 253.8h.7M54.2 231.8h.7M42.6 223.9h.7M51.1 224.0h.7M55.1 226.1h.7M42.1 233.6h.7M35.8 251.5h.7M46.5 239.3h.7M40.7 242.2h.7M43.1 237.8h.7M36.5 249.4h.7M47.8 235.3h.7M49.1 237.1h.7M45.4 236.0h.7M51.2 249.0h.7M39.1 241.9h.7M31.0 255.2h.7M38.1 246.4h.7M43.1 243.2h.7M33.6 255.3h.7M50.7 233.5h.7M46.5 237.4h.7M40.1 245.8h.7M47.8 243.1h.7M50.3 232.7h.7M39.5 223.6h.7M45.3 242.6h.7M33.9 250.0h.7M33.2 250.6h.7M39.1 249.9h.7M49.3 232.4h.7M35.5 251.2h.7M41.4 253.2h.7M49.6 234.8h.7M37.7 249.4h.7M41.5 230.0h.7M60.9 231.1h.7M40.9 243.2h.7M50.2 230.2h.7M41.6 231.8h.7M52.9 238.4h.7M45.1 226.4h.7M55.0 231.1h.7M49.8 242.3h.7M48.2 240.5h.7M44.4 239.0h.7M44.5 229.8h.7M44.0 229.4h.7M44.8 241.8h.7M45.4 236.6h.7M39.2 224.9h.7M30.4 255.9h.7M39.2 244.1h.7M38.7 249.1h.7M49.8 234.7h.7M41.4 240.4h.7M28.0 255.7h.7M41.3 251.6h.7M42.4 232.0h.7M49.8 248.8h.7M41.7 248.4h.7M37.9 250.1h.7M40.5 224.7h.7M43.0 230.0h.7M42.8 225.2h.7M44.0 241.6h.7M35.5 254.3h.7M40.0 253.1h.7M45.2 236.4h.7M46.5 227.4h.7M39.9 241.8h.7M47.0 244.3h.7M44.3 236.3h.7M50.6 238.1h.7M46.3 255.7h.7M47.8 230.7h.7M42.9 234.9h.7M42.8 252.8h.7M50.8 225.0h.7M35.7 249.1h.7M39.7 255.5h.7M50.2 225.3h.7M40.0 254.0h.7M38.6 245.5h.7M43.4 248.1h.7M42.3 226.9h.7M45.9 227.5h.7M43.0 239.1h.7M45.3 228.2h.7" stroke="#111" stroke-width="0.7"/>
<path d="M49.2 216.1h.7M48.5 213.1h.7M74.6 220.1h.7M54.7 230.7h.7M65.4 207.7h.7M57.6 222.0h.7M70.7 224.9h.7M58.5 209.9h.7M40.4 218.6h.7M55.6 210.9h.7M45.8 214.6h.7M50.7 219.0h.7M46.8 209.6h.7M63.7 226.6h.7M48.8 223.1h.7M54.9 221.0h.7M55.3 212.4h.7M56.3 223.1h.7M40.1 228.8h.7M73.0 227.9h.7M71.9 221.5h.7M46.3 213.4h.7M41.1 217.7h.7M49.6 221.0h.7M75.0 216.8h.7M57.4 219.9h.7M53.0 215.7h.7M48.6 212.1h.7M52.0 216.9h.7M53.5 211.9h.7M50.4 217.3h.7M56.6 210.6h.7M54.6 222.9h.7M56.6 214.8h.7M44.6 215.6h.7M58.0 226.3h.7M48.3 213.1h.7M54.1 218.2h.7M40.0 212.6h.7M48.9 221.0h.7M36.9 210.9h.7M55.5 209.7h.7M51.2 219.1h.7M48.8 210.9h.7M49.3 215.0h.7M53.7 212.0h.7M62.0 206.9h.7M48.1 217.0h.7M60.6 213.3h.7M56.0 213.6h.7M58.1 227.4h.7M45.6 219.7h.7M39.8 222.8h.7M63.3 217.2h.7M37.5 219.4h.7M62.6 223.5h.7M58.9 206.0h.7M42.5 225.5h.7M36.5 223.8h.7M70.7 221.6h.7M62.3 215.0h.7M36.5 216.4h.7M47.8 216.7h.7M57.7 216.1h.7M52.1 219.5h.7M49.9 228.1h.7M54.9 217.5h.7M47.7 213.2h.7M64.8 217.9h.7M38.1 213.6h.7M48.5 214.3h.7M61.9 210.0h.7M55.4 217.9h.7M37.0 217.3h.7M49.0 220.0h.7M45.0 218.8h.7M58.6 223.2h.7M49.9 213.4h.7M61.9 204.4h.7M41.2 221.0h.7M57.2 210.8h.7M51.7 211.6h.7M50.6 222.4h.7M58.1 204.5h.7M58.5 206.3h.7M62.5 219.4h.7M74.8 213.3h.7M50.1 223.3h.7M43.0 212.8h.7M45.9 216.6h.7M38.1 219.9h.7M56.0 217.4h.7M68.7 215.0h.7M64.4 213.7h.7M58.3 205.4h.7M52.2 215.9h.7M44.6 213.3h.7M46.2 212.7h.7M44.0 213.9h.7M38.4 216.2h.7M58.6 215.5h.7M44.6 225.1h.7M60.7 222.5h.7M62.7 215.0h.7M48.6 223.7h.7M43.9 216.3h.7M54.2 219.2h.7M47.0 222.9h.7M48.0 221.4h.7M61.8 221.0h.7M58.1 210.0h.7M55.2 226.0h.7M36.6 218.8h.7M40.6 212.6h.7M47.0 221.2h.7M52.3 224.1h.7M39.2 222.3h.7M60.2 217.4h.7M55.2 213.6h.7M38.0 214.6h.7M44.7 226.9h.7M52.2 218.9h.7M58.2 212.3h.7M60.1 219.3h.7M56.1 219.7h.7M67.4 214.5h.7M55.6 221.5h.7M40.1 224.2h.7M55.7 210.5h.7M48.7 207.1h.7M50.8 210.2h.7M53.8 207.8h.7M54.9 215.4h.7M50.7 216.6h.7M51.4 209.1h.7M39.7 214.3h.7M54.7 205.1h.7M41.6 213.3h.7M38.4 219.0h.7M48.5 212.1h.7M39.2 221.8h.7M42.7 220.5h.7M54.9 205.6h.7M38.1 217.0h.7M53.8 221.7h.7M58.8 223.2h.7M45.9 215.7h.7M58.5 214.4h.7M61.6 207.5h.7M57.2 216.0h.7M53.4 217.1h.7M38.2 214.2h.7M66.6 212.0h.7M36.8 216.2h.7M45.7 211.5h.7M40.7 223.3h.7M44.0 210.4h.7M58.7 220.4h.7M38.5 221.5h.7M62.4 215.5h.7M60.1 216.9h.7M54.6 221.6h.7M70.4 215.5h.7M44.7 216.8h.7M63.3 211.4h.7M58.8 212.9h.7M55.1 221.1h.7M37.0 216.5h.7M52.6 220.5h.7M39.8 211.1h.7M47.9 215.7h.7M44.1 225.6h.7M59.4 217.1h.7M58.0 210.3h.7M46.4 213.5h.7M36.0 217.1h.7M48.4 225.6h.7M39.9 214.2h.7M54.6 219.4h.7M50.3 214.2h.7M55.4 219.2h.7M51.6 217.4h.7M51.3 211.7h.7M47.8 211.5h.7M54.2 221.1h.7M69.3 224.6h.7M41.1 214.3h.7M39.7 218.8h.7M71.8 221.3h.7M50.0 218.8h.7M69.6 212.0h.7M40.7 228.8h.7M53.8 212.3h.7M50.5 223.0h.7M48.5 212.8h.7M41.8 228.4h.7M50.3 220.7h.7M45.5 220.0h.7M59.0 216.1h.7M45.0 215.9h.7M39.4 215.8h.7M46.7 218.3h.7M64.7 224.8h.7M45.1 220.6h.7M53.2 221.6h.7M50.2 218.6h.7M44.8 212.3h.7M59.6 224.8h.7M57.3 219.6h.7M52.9 214.3h.7M52.2 213.7h.7M39.4 224.7h.7M57.0 231.2h.7M42.1 216.9h.7M44.4 217.9h.7M47.7 212.5h.7M61.8 212.3h.7M44.4 220.3h.7M44.1 214.4h.7M53.9 214.8h.7" stroke="#111" stroke-width="0.7"/>
<path d="M25.0 230.8h.7M29.1 252.5h.7M25.6 243.6h.7M26.9 227.7h.7M28.7 235.2h.7M33.5 253.0h.7M27.5 248.0h.7M34.0 241.8h.7M27.0 242.8h.7M29.6 236.2h.7M28.9 240.0h.7M34.5 245.6h.7M29.2 243.9h.7M35.8 220.8h.7M35.9 216.0h.7M32.2 239.1h.7M35.9 235.3h.7M28.1 222.4h.7M25.0 241.2h.7M29.1 223.4h.7M32.1 222.8h.7M28.3 226.5h.7M36.6 249.6h.7M29.4 213.1h.7M31.1 232.9h.7M31.4 238.8h.7M28.7 243.1h.7M33.3 234.5h.7M28.4 226.2h.7M32.8 218.8h.7M29.4 223.0h.7M24.4 239.2h.7M29.9 232.4h.7M33.5 214.1h.7M29.7 235.5h.7M33.3 219.0h.7M32.9 234.6h.7M35.4 245.7h.7M32.2 257.8h.7M30.0 226.9h.7M28.6 220.7h.7M29.9 209.5h.7M29.7 237.1h.7M34.0 227.8h.7M35.6 224.2h.7M29.5 209.5h.7M27.0 222.5h.7M35.8 238.2h.7M25.7 238.3h.7M31.9 229.3h.7M30.1 228.4h.7M27.9 211.2h.7M29.6 247.1h.7M35.6 228.7h.7M27.1 229.5h.7M33.5 236.1h.7M27.7 236.2h.7M29.2 238.0h.7M28.4 214.8h.7M30.2 240.9h.7M25.7 230.7h.7M33.4 227.6h.7M27.5 255.8h.7M33.2 244.0h.7M26.3 251.1h.7M23.5 225.9h.7M32.9 247.5h.7M26.4 224.2h.7M30.8 209.5h.7M32.5 238.5h.7M28.3 238.3h.7M33.0 235.6h.7M32.0 249.6h.7M28.1 233.9h.7M28.0 244.0h.7M28.4 237.5h.7M30.5 232.8h.7M36.7 231.0h.7M35.5 241.6h.7M35.1 230.1h.7" stroke="#111" stroke-width="0.7"/>
<clipPath id="b1"><path d="M24.70 208.30C26.20 205.00 26.42 207.38 29.00 206.90C31.58 206.42 30.45 206.37 33.30 206.70C36.15 207.03 35.17 207.04 38.50 208.00C41.83 208.96 40.95 208.70 44.40 209.90C47.85 211.10 46.64 210.53 50.00 212.00C53.36 213.47 52.81 212.85 55.60 214.80C58.39 216.75 58.40 216.25 59.30 218.50C60.20 220.75 60.04 220.56 58.60 222.30C57.16 224.04 58.01 223.61 54.50 224.30C50.99 224.99 50.80 224.87 46.90 224.60C43.00 224.33 44.23 223.28 41.50 223.40C38.77 223.52 38.79 223.47 37.80 225.00C36.81 226.53 37.33 226.40 38.20 228.50C39.07 230.60 39.62 229.60 40.70 232.00C41.78 234.40 42.01 234.01 41.80 236.50C41.59 238.99 41.56 237.96 40.00 240.30C38.44 242.64 38.64 241.90 36.60 244.30C34.56 246.70 35.00 245.99 33.20 248.30C31.40 250.61 32.04 250.11 30.60 252.00C29.16 253.89 29.72 254.21 28.40 254.60C27.08 254.99 27.31 254.98 26.20 253.30C25.09 251.62 25.33 252.09 24.70 249.00C24.07 245.91 24.31 247.98 24.10 243.00C23.89 238.02 24.03 239.93 24.00 232.40C23.97 224.87 23.79 225.13 24.00 217.90C24.21 210.67 23.20 211.60 24.70 208.30Z"/></clipPath>
<path d="M43.3 208.9h.7M26.4 212.8h.7M26.7 253.3h.7M24.6 248.0h.7M24.4 208.6h.7M39.7 222.4h.7M26.3 250.9h.7M23.1 237.4h.7M39.5 224.7h.7M38.4 225.1h.7M40.7 207.9h.7M25.1 246.8h.7M39.9 230.9h.7M32.0 251.1h.7M47.3 210.8h.7M32.0 206.8h.7M42.4 221.9h.7M24.6 213.3h.7M30.5 207.2h.7M41.2 231.9h.7M23.8 242.2h.7M30.5 250.4h.7M33.2 246.2h.7M28.8 253.1h.7M30.9 250.9h.7M43.3 225.0h.7M39.3 223.6h.7M42.9 222.7h.7M58.5 221.2h.7M23.3 250.1h.7M38.7 223.9h.7M40.4 208.3h.7M24.5 241.3h.7M38.9 207.1h.7M59.1 221.8h.7M43.8 208.8h.7M40.0 230.4h.7M37.8 241.0h.7M43.2 208.9h.7M41.2 236.1h.7M57.8 216.4h.7M23.8 223.6h.7M28.5 206.5h.7M54.9 225.8h.7M37.3 206.7h.7M24.7 235.1h.7M42.5 223.5h.7M57.1 223.6h.7M40.0 224.9h.7M40.0 209.8h.7M32.7 206.1h.7M60.8 217.7h.7M41.3 232.6h.7M25.4 217.1h.7M25.8 249.4h.7M55.8 221.9h.7M40.4 232.5h.7M40.0 242.6h.7M34.8 205.7h.7M39.5 227.7h.7M42.0 232.9h.7M34.4 207.0h.7M48.2 211.3h.7M38.3 225.4h.7M39.8 224.8h.7M56.7 219.2h.7M31.6 206.3h.7M37.2 226.0h.7M31.3 250.2h.7M23.2 248.2h.7M57.6 216.7h.7M38.7 224.0h.7M24.3 208.2h.7M22.9 228.8h.7M58.2 219.5h.7M31.1 205.1h.7M23.9 213.8h.7M59.0 222.8h.7M24.4 251.7h.7M47.0 224.3h.7M23.9 238.6h.7M47.3 226.4h.7M30.4 247.7h.7M37.4 223.6h.7M37.4 208.3h.7M56.4 222.1h.7M59.0 222.1h.7M58.7 219.1h.7M39.4 206.1h.7M32.0 252.9h.7M32.7 250.0h.7M35.2 246.9h.7M24.9 209.3h.7M26.1 252.9h.7M50.1 212.3h.7M27.5 251.2h.7M37.8 225.9h.7M44.2 223.9h.7M29.3 253.4h.7M26.3 209.3h.7M34.6 207.8h.7M24.1 250.3h.7M29.5 254.7h.7M25.7 246.4h.7M27.7 253.5h.7M56.4 222.9h.7M57.3 222.5h.7M24.7 219.3h.7M38.3 227.8h.7M44.5 210.0h.7M24.8 229.4h.7M50.7 210.5h.7M25.5 230.3h.7M59.4 219.7h.7M37.7 225.2h.7M25.8 210.1h.7M38.6 207.1h.7M40.4 223.1h.7M37.7 227.8h.7M58.3 221.7h.7M40.8 222.4h.7M45.3 224.6h.7M25.3 215.0h.7M55.2 224.8h.7M33.1 207.3h.7M50.1 211.5h.7M58.2 216.5h.7M24.4 237.4h.7M53.8 214.8h.7M28.0 254.8h.7M24.9 209.1h.7M41.8 224.7h.7M34.6 206.2h.7M38.4 228.1h.7M59.0 219.2h.7M47.3 211.9h.7M44.6 210.0h.7M38.6 208.6h.7M48.0 211.0h.7M36.0 243.8h.7M42.8 207.1h.7M35.6 209.5h.7M58.7 221.8h.7M58.1 222.7h.7M30.0 206.5h.7M27.1 208.1h.7M49.4 222.1h.7M23.4 235.9h.7M40.0 231.1h.7M41.2 230.5h.7M59.5 220.5h.7M30.7 253.8h.7M26.9 251.5h.7M24.4 248.0h.7M26.9 253.2h.7M33.2 246.5h.7M38.0 241.4h.7M27.2 253.0h.7M34.1 207.0h.7M26.4 250.5h.7M25.3 251.9h.7M39.6 240.7h.7M33.9 250.7h.7M38.9 242.3h.7M41.4 225.3h.7M42.6 232.2h.7M27.3 253.7h.7M38.9 229.5h.7M40.1 207.8h.7M51.8 224.9h.7M40.5 235.4h.7M24.0 216.2h.7M45.8 210.6h.7M39.8 223.6h.7M35.6 245.0h.7M49.8 212.3h.7M57.8 222.4h.7M27.7 254.2h.7M24.6 213.1h.7M23.5 247.4h.7M46.0 225.1h.7M56.3 223.8h.7M31.6 252.2h.7M41.8 225.2h.7M36.4 208.4h.7M39.1 238.8h.7M41.0 209.4h.7M37.4 230.3h.7M42.1 234.9h.7M27.5 206.5h.7M32.8 207.5h.7M38.6 228.1h.7M37.3 207.5h.7M22.4 229.7h.7M57.9 217.5h.7M24.5 244.1h.7M40.6 231.0h.7M46.4 224.3h.7M35.6 246.2h.7M55.6 224.5h.7M39.7 231.5h.7M38.6 227.3h.7M56.4 216.5h.7M41.3 234.5h.7M22.9 215.0h.7M25.7 254.1h.7M40.7 231.6h.7M58.4 222.9h.7M24.0 208.0h.7M24.3 238.1h.7M40.7 231.8h.7M37.4 207.8h.7M24.4 236.0h.7M25.1 248.6h.7M35.0 249.2h.7M56.9 216.8h.7M37.1 208.6h.7M54.8 224.0h.7M33.3 207.1h.7M41.2 234.5h.7M42.9 223.0h.7M57.6 222.5h.7M24.8 213.9h.7M44.4 223.6h.7M34.4 247.6h.7M52.2 212.8h.7M43.7 222.2h.7M38.0 243.2h.7M25.5 219.8h.7M58.2 215.7h.7M34.3 248.3h.7M24.4 218.9h.7M52.3 222.9h.7M41.2 224.3h.7M51.2 213.1h.7M25.4 240.2h.7M23.7 217.1h.7M36.7 245.5h.7M28.7 206.9h.7M25.4 254.6h.7M35.0 206.7h.7M53.8 213.9h.7M26.0 253.5h.7M39.2 208.7h.7M57.1 224.1h.7M53.9 213.8h.7M54.1 214.9h.7M58.1 221.1h.7M39.6 207.7h.7M24.9 212.6h.7M37.6 208.3h.7M26.2 207.4h.7M31.9 252.2h.7M59.3 218.4h.7M33.3 207.1h.7M37.7 207.1h.7M52.3 223.5h.7M50.9 211.7h.7M38.4 228.1h.7M38.2 243.7h.7M46.8 209.7h.7M25.7 243.1h.7M40.9 236.5h.7M36.8 207.2h.7M27.7 255.2h.7M26.5 254.1h.7M40.6 238.6h.7M25.4 242.5h.7M23.8 209.7h.7M27.2 253.0h.7M32.2 250.1h.7M24.5 212.1h.7M58.1 218.8h.7M42.5 237.9h.7M31.0 205.3h.7M24.6 250.7h.7M33.7 205.6h.7M26.1 249.4h.7M24.2 206.5h.7M23.7 213.7h.7M46.5 211.4h.7M41.3 235.2h.7M58.5 222.1h.7M34.8 248.5h.7M31.3 206.3h.7M41.3 223.9h.7M29.4 254.1h.7M39.1 223.3h.7M59.6 217.8h.7M25.7 210.2h.7M40.5 233.3h.7M24.4 252.3h.7M38.7 244.1h.7M57.0 224.2h.7M40.8 233.9h.7M23.5 246.0h.7M25.5 252.2h.7M25.7 243.7h.7M25.5 253.3h.7M36.8 242.4h.7M33.0 206.7h.7M57.0 222.0h.7M33.8 207.8h.7M56.1 225.1h.7M27.8 207.5h.7M24.0 208.0h.7M25.1 246.4h.7M33.0 250.5h.7M45.6 210.0h.7M49.3 225.2h.7M33.1 206.5h.7M38.2 225.7h.7M41.0 238.1h.7M42.0 209.9h.7M24.6 209.3h.7M30.3 252.1h.7M24.7 219.7h.7M33.8 245.7h.7M22.9 232.2h.7M37.7 228.1h.7M57.9 223.3h.7M23.1 247.3h.7M56.0 223.1h.7M42.5 208.6h.7M25.0 210.8h.7M54.5 213.7h.7M24.9 225.2h.7M43.9 224.1h.7M54.9 215.1h.7M40.3 230.6h.7M43.5 223.6h.7M27.8 206.1h.7M37.7 224.2h.7M25.3 249.5h.7M25.0 250.1h.7M47.6 222.9h.7M27.3 255.4h.7M25.6 245.8h.7M24.3 223.0h.7M58.6 218.9h.7M30.9 251.1h.7M26.0 247.4h.7M55.3 214.5h.7M57.7 223.1h.7M30.5 254.5h.7M40.8 211.0h.7M44.2 225.1h.7M57.8 215.6h.7M24.7 248.6h.7M37.5 243.0h.7M54.8 223.3h.7M35.6 244.8h.7M33.2 206.5h.7M57.8 222.5h.7M42.7 235.5h.7M57.2 216.9h.7M50.4 225.4h.7M27.0 209.0h.7M58.9 219.1h.7M50.7 223.9h.7M24.9 236.6h.7M39.2 227.5h.7M26.0 253.5h.7M32.3 250.6h.7M31.8 205.9h.7M27.8 207.3h.7M42.3 211.0h.7M41.4 239.4h.7M41.9 239.6h.7M37.5 242.5h.7M56.5 223.4h.7M55.7 224.1h.7M25.0 236.9h.7M39.2 229.0h.7M33.4 250.6h.7M24.2 216.5h.7M32.5 250.6h.7M27.9 253.8h.7M55.9 215.6h.7M40.6 206.7h.7M40.1 233.4h.7M24.2 242.3h.7M23.2 242.6h.7M26.3 249.5h.7M40.1 239.2h.7M41.3 239.0h.7M57.9 217.9h.7M58.8 220.7h.7M43.9 209.8h.7M40.9 234.3h.7M59.9 221.8h.7M30.8 252.2h.7M28.2 207.2h.7M25.3 249.3h.7M30.7 254.3h.7M39.9 228.2h.7M35.4 247.5h.7M29.4 253.2h.7M31.1 206.1h.7M26.2 253.1h.7M36.8 243.7h.7M25.6 251.4h.7M27.6 254.3h.7M39.1 210.0h.7M38.9 208.9h.7M51.4 222.8h.7M24.2 229.7h.7M24.3 249.7h.7M42.8 235.9h.7M58.8 216.6h.7M28.3 206.9h.7M27.4 251.9h.7M30.7 206.5h.7M25.0 246.5h.7M26.9 208.4h.7M25.7 254.0h.7M24.0 217.3h.7M58.5 218.4h.7M34.3 247.5h.7M24.1 222.0h.7M37.4 208.4h.7M44.4 224.4h.7M44.8 210.8h.7M27.0 255.7h.7M38.0 243.0h.7M56.5 213.7h.7M24.0 244.8h.7M53.0 213.4h.7M23.4 240.5h.7M26.0 207.2h.7M27.7 253.6h.7M29.1 254.9h.7M33.8 206.8h.7M39.9 223.0h.7M26.0 252.7h.7M24.6 225.5h.7M37.6 225.5h.7M24.7 232.9h.7M44.1 223.9h.7M59.4 219.7h.7M46.0 224.3h.7M33.5 205.9h.7M26.8 252.5h.7M30.0 205.9h.7M59.1 219.4h.7M49.0 212.8h.7M50.9 211.7h.7M39.9 222.1h.7M24.3 214.2h.7M25.9 208.6h.7M38.3 229.9h.7M56.3 224.5h.7M41.6 224.0h.7M38.2 207.9h.7M37.3 225.5h.7M59.5 220.3h.7M55.0 223.4h.7M35.4 244.5h.7M59.3 215.2h.7M38.9 225.0h.7" stroke="#111" stroke-width="0.7"/>
<g clip-path="url(#b1)">
<path d="M24.70 208.30C26.20 205.00 26.42 207.38 29.00 206.90C31.58 206.42 30.45 206.37 33.30 206.70C36.15 207.03 35.17 207.04 38.50 208.00C41.83 208.96 40.95 208.70 44.40 209.90C47.85 211.10 46.64 210.53 50.00 212.00C53.36 213.47 52.81 212.85 55.60 214.80C58.39 216.75 58.40 216.25 59.30 218.50C60.20 220.75 60.04 220.56 58.60 222.30C57.16 224.04 58.01 223.61 54.50 224.30C50.99 224.99 50.80 224.87 46.90 224.60C43.00 224.33 44.23 223.28 41.50 223.40C38.77 223.52 38.79 223.47 37.80 225.00C36.81 226.53 37.33 226.40 38.20 228.50C39.07 230.60 39.62 229.60 40.70 232.00C41.78 234.40 42.01 234.01 41.80 236.50C41.59 238.99 41.56 237.96 40.00 240.30C38.44 242.64 38.64 241.90 36.60 244.30C34.56 246.70 35.00 245.99 33.20 248.30C31.40 250.61 32.04 250.11 30.60 252.00C29.16 253.89 29.72 254.21 28.40 254.60C27.08 254.99 27.31 254.98 26.20 253.30C25.09 251.62 25.33 252.09 24.70 249.00C24.07 245.91 24.31 247.98 24.10 243.00C23.89 238.02 24.03 239.93 24.00 232.40C23.97 224.87 23.79 225.13 24.00 217.90C24.21 210.67 23.20 211.60 24.70 208.30Z" fill="#d8d8d8"/>
<path d="M24.70 208.30C26.20 205.00 26.42 207.38 29.00 206.90C31.58 206.42 30.45 206.37 33.30 206.70C36.15 207.03 35.17 207.04 38.50 208.00C41.83 208.96 40.95 208.70 44.40 209.90C47.85 211.10 46.64 210.53 50.00 212.00C53.36 213.47 52.81 212.85 55.60 214.80C58.39 216.75 58.40 216.25 59.30 218.50C60.20 220.75 60.04 220.56 58.60 222.30C57.16 224.04 58.01 223.61 54.50 224.30C50.99 224.99 50.80 224.87 46.90 224.60C43.00 224.33 44.23 223.28 41.50 223.40C38.77 223.52 38.79 223.47 37.80 225.00C36.81 226.53 37.33 226.40 38.20 228.50C39.07 230.60 39.62 229.60 40.70 232.00C41.78 234.40 42.01 234.01 41.80 236.50C41.59 238.99 41.56 237.96 40.00 240.30C38.44 242.64 38.64 241.90 36.60 244.30C34.56 246.70 35.00 245.99 33.20 248.30C31.40 250.61 32.04 250.11 30.60 252.00C29.16 253.89 29.72 254.21 28.40 254.60C27.08 254.99 27.31 254.98 26.20 253.30C25.09 251.62 25.33 252.09 24.70 249.00C24.07 245.91 24.31 247.98 24.10 243.00C23.89 238.02 24.03 239.93 24.00 232.40C23.97 224.87 23.79 225.13 24.00 217.90C24.21 210.67 23.20 211.60 24.70 208.30Z" fill="none" stroke="#d0d0d0" stroke-width="10.00" stroke-linejoin="round"/>
<path d="M24.70 208.30C26.20 205.00 26.42 207.38 29.00 206.90C31.58 206.42 30.45 206.37 33.30 206.70C36.15 207.03 35.17 207.04 38.50 208.00C41.83 208.96 40.95 208.70 44.40 209.90C47.85 211.10 46.64 210.53 50.00 212.00C53.36 213.47 52.81 212.85 55.60 214.80C58.39 216.75 58.40 216.25 59.30 218.50C60.20 220.75 60.04 220.56 58.60 222.30C57.16 224.04 58.01 223.61 54.50 224.30C50.99 224.99 50.80 224.87 46.90 224.60C43.00 224.33 44.23 223.28 41.50 223.40C38.77 223.52 38.79 223.47 37.80 225.00C36.81 226.53 37.33 226.40 38.20 228.50C39.07 230.60 39.62 229.60 40.70 232.00C41.78 234.40 42.01 234.01 41.80 236.50C41.59 238.99 41.56 237.96 40.00 240.30C38.44 242.64 38.64 241.90 36.60 244.30C34.56 246.70 35.00 245.99 33.20 248.30C31.40 250.61 32.04 250.11 30.60 252.00C29.16 253.89 29.72 254.21 28.40 254.60C27.08 254.99 27.31 254.98 26.20 253.30C25.09 251.62 25.33 252.09 24.70 249.00C24.07 245.91 24.31 247.98 24.10 243.00C23.89 238.02 24.03 239.93 24.00 232.40C23.97 224.87 23.79 225.13 24.00 217.90C24.21 210.67 23.20 211.60 24.70 208.30Z" fill="none" stroke="#6a6a6a" stroke-width="8.40" stroke-linejoin="round"/>
<path d="M24.70 208.30C26.20 205.00 26.42 207.38 29.00 206.90C31.58 206.42 30.45 206.37 33.30 206.70C36.15 207.03 35.17 207.04 38.50 208.00C41.83 208.96 40.95 208.70 44.40 209.90C47.85 211.10 46.64 210.53 50.00 212.00C53.36 213.47 52.81 212.85 55.60 214.80C58.39 216.75 58.40 216.25 59.30 218.50C60.20 220.75 60.04 220.56 58.60 222.30C57.16 224.04 58.01 223.61 54.50 224.30C50.99 224.99 50.80 224.87 46.90 224.60C43.00 224.33 44.23 223.28 41.50 223.40C38.77 223.52 38.79 223.47 37.80 225.00C36.81 226.53 37.33 226.40 38.20 228.50C39.07 230.60 39.62 229.60 40.70 232.00C41.78 234.40 42.01 234.01 41.80 236.50C41.59 238.99 41.56 237.96 40.00 240.30C38.44 242.64 38.64 241.90 36.60 244.30C34.56 246.70 35.00 245.99 33.20 248.30C31.40 250.61 32.04 250.11 30.60 252.00C29.16 253.89 29.72 254.21 28.40 254.60C27.08 254.99 27.31 254.98 26.20 253.30C25.09 251.62 25.33 252.09 24.70 249.00C24.07 245.91 24.31 247.98 24.10 243.00C23.89 238.02 24.03 239.93 24.00 232.40C23.97 224.87 23.79 225.13 24.00 217.90C24.21 210.67 23.20 211.60 24.70 208.30Z" fill="none" stroke="#b0b0b0" stroke-width="7.60" stroke-linejoin="round"/>
<path d="M24.70 208.30C26.20 205.00 26.42 207.38 29.00 206.90C31.58 206.42 30.45 206.37 33.30 206.70C36.15 207.03 35.17 207.04 38.50 208.00C41.83 208.96 40.95 208.70 44.40 209.90C47.85 211.10 46.64 210.53 50.00 212.00C53.36 213.47 52.81 212.85 55.60 214.80C58.39 216.75 58.40 216.25 59.30 218.50C60.20 220.75 60.04 220.56 58.60 222.30C57.16 224.04 58.01 223.61 54.50 224.30C50.99 224.99 50.80 224.87 46.90 224.60C43.00 224.33 44.23 223.28 41.50 223.40C38.77 223.52 38.79 223.47 37.80 225.00C36.81 226.53 37.33 226.40 38.20 228.50C39.07 230.60 39.62 229.60 40.70 232.00C41.78 234.40 42.01 234.01 41.80 236.50C41.59 238.99 41.56 237.96 40.00 240.30C38.44 242.64 38.64 241.90 36.60 244.30C34.56 246.70 35.00 245.99 33.20 248.30C31.40 250.61 32.04 250.11 30.60 252.00C29.16 253.89 29.72 254.21 28.40 254.60C27.08 254.99 27.31 254.98 26.20 253.30C25.09 251.62 25.33 252.09 24.70 249.00C24.07 245.91 24.31 247.98 24.10 243.00C23.89 238.02 24.03 239.93 24.00 232.40C23.97 224.87 23.79 225.13 24.00 217.90C24.21 210.67 23.20 211.60 24.70 208.30Z" fill="none" stroke="#2e2e2e" stroke-width="5.80" stroke-linejoin="round"/>
<path d="M24.70 208.30C26.20 205.00 26.42 207.38 29.00 206.90C31.58 206.42 30.45 206.37 33.30 206.70C36.15 207.03 35.17 207.04 38.50 208.00C41.83 208.96 40.95 208.70 44.40 209.90C47.85 211.10 46.64 210.53 50.00 212.00C53.36 213.47 52.81 212.85 55.60 214.80C58.39 216.75 58.40 216.25 59.30 218.50C60.20 220.75 60.04 220.56 58.60 222.30C57.16 224.04 58.01 223.61 54.50 224.30C50.99 224.99 50.80 224.87 46.90 224.60C43.00 224.33 44.23 223.28 41.50 223.40C38.77 223.52 38.79 223.47 37.80 225.00C36.81 226.53 37.33 226.40 38.20 228.50C39.07 230.60 39.62 229.60 40.70 232.00C41.78 234.40 42.01 234.01 41.80 236.50C41.59 238.99 41.56 237.96 40.00 240.30C38.44 242.64 38.64 241.90 36.60 244.30C34.56 246.70 35.00 245.99 33.20 248.30C31.40 250.61 32.04 250.11 30.60 252.00C29.16 253.89 29.72 254.21 28.40 254.60C27.08 254.99 27.31 254.98 26.20 253.30C25.09 251.62 25.33 252.09 24.70 249.00C24.07 245.91 24.31 247.98 24.10 243.00C23.89 238.02 24.03 239.93 24.00 232.40C23.97 224.87 23.79 225.13 24.00 217.90C24.21 210.67 23.20 211.60 24.70 208.30Z" fill="none" stroke="#7a7a7a" stroke-width="4.80" stroke-linejoin="round"/>
<path d="M24.70 208.30C26.20 205.00 26.42 207.38 29.00 206.90C31.58 206.42 30.45 206.37 33.30 206.70C36.15 207.03 35.17 207.04 38.50 208.00C41.83 208.96 40.95 208.70 44.40 209.90C47.85 211.10 46.64 210.53 50.00 212.00C53.36 213.47 52.81 212.85 55.60 214.80C58.39 216.75 58.40 216.25 59.30 218.50C60.20 220.75 60.04 220.56 58.60 222.30C57.16 224.04 58.01 223.61 54.50 224.30C50.99 224.99 50.80 224.87 46.90 224.60C43.00 224.33 44.23 223.28 41.50 223.40C38.77 223.52 38.79 223.47 37.80 225.00C36.81 226.53 37.33 226.40 38.20 228.50C39.07 230.60 39.62 229.60 40.70 232.00C41.78 234.40 42.01 234.01 41.80 236.50C41.59 238.99 41.56 237.96 40.00 240.30C38.44 242.64 38.64 241.90 36.60 244.30C34.56 246.70 35.00 245.99 33.20 248.30C31.40 250.61 32.04 250.11 30.60 252.00C29.16 253.89 29.72 254.21 28.40 254.60C27.08 254.99 27.31 254.98 26.20 253.30C25.09 251.62 25.33 252.09 24.70 249.00C24.07 245.91 24.31 247.98 24.10 243.00C23.89 238.02 24.03 239.93 24.00 232.40C23.97 224.87 23.79 225.13 24.00 217.90C24.21 210.67 23.20 211.60 24.70 208.30Z" fill="none" stroke="#0c0c0c" stroke-width="3.40" stroke-linejoin="round"/>
</g>
<path d="M34 215L44 217L53.5 219.8" stroke="#fff" stroke-width="2.6" fill="none" stroke-linecap="round"/>
<path d="M31.5 234L31 246" stroke="#f6f6f6" stroke-width="1.7" fill="none" stroke-linecap="round"/>
</g>
<rect x="45.1" y="205.7" width="28.10" height="20.90" fill="none" stroke="#222" stroke-width="0.9"/>
<text transform="translate(60.4 202.3) scale(1.04 1)" font-size="10.1" text-anchor="middle" fill="#151515" stroke="#151515" stroke-width="0.15">3.2%</text>
<g clip-path="url(#c1)">
<path d="M119.9 219.6h.7M122.4 218.3h.7M124.7 243.5h.7M120.3 240.2h.7M128.8 225.5h.7M128.4 231.4h.7M121.4 216.7h.7M122.4 233.0h.7M117.8 219.4h.7M125.8 232.2h.7M119.6 215.0h.7M120.2 247.0h.7M115.4 249.6h.7M123.8 225.8h.7M118.0 219.0h.7M122.6 237.0h.7M117.6 218.5h.7M117.6 244.3h.7M124.9 236.3h.7M120.2 240.9h.7M122.8 232.8h.7M120.9 254.0h.7M121.3 238.1h.7M117.9 218.5h.7M111.3 256.5h.7M123.3 230.1h.7M124.9 223.6h.7M124.7 227.7h.7M116.8 215.9h.7M121.2 237.5h.7M120.7 220.5h.7M119.2 242.5h.7M116.9 214.7h.7M112.2 254.6h.7M119.3 215.2h.7M124.9 236.2h.7M115.0 251.0h.7M117.6 216.1h.7M125.0 236.4h.7M113.7 251.1h.7M124.7 240.1h.7M123.0 221.0h.7M112.0 253.7h.7M112.5 252.4h.7M119.4 213.0h.7M117.1 222.0h.7M112.7 254.9h.7M124.5 233.7h.7M115.6 249.2h.7M126.5 232.9h.7M117.0 213.7h.7M126.5 236.4h.7M122.0 246.9h.7M121.7 217.3h.7M121.1 241.6h.7M117.1 220.4h.7M125.1 233.4h.7M123.8 240.9h.7M123.0 238.3h.7M124.8 230.9h.7M120.2 240.9h.7M121.3 216.7h.7M111.2 254.5h.7M124.4 228.9h.7M111.5 254.5h.7M113.7 254.6h.7M113.0 251.7h.7M127.3 225.4h.7M119.7 240.2h.7M118.5 218.8h.7M116.9 218.4h.7M117.7 214.6h.7M123.2 227.7h.7M122.6 236.2h.7M113.8 253.7h.7M119.7 242.2h.7M123.8 229.2h.7M120.1 208.9h.7M122.4 215.8h.7M122.4 245.2h.7M117.2 248.5h.7M121.8 242.2h.7M112.2 254.9h.7M121.9 222.6h.7M118.7 220.4h.7M117.8 249.2h.7M114.9 250.4h.7M117.8 243.2h.7M120.8 241.8h.7M116.9 220.9h.7M118.7 242.5h.7M116.9 213.5h.7M113.1 253.3h.7M122.4 224.3h.7M123.5 233.3h.7M125.1 231.2h.7M118.1 220.5h.7M117.3 215.9h.7M119.1 246.4h.7M119.6 243.3h.7M119.9 217.1h.7M112.5 253.1h.7M117.2 215.5h.7M122.5 241.6h.7M120.2 219.1h.7M115.9 246.7h.7M123.2 236.4h.7M118.3 217.3h.7M121.2 246.4h.7M120.7 219.2h.7M124.7 235.4h.7M118.3 214.7h.7M120.8 213.2h.7M120.5 238.7h.7M124.6 228.5h.7M122.2 233.9h.7M118.5 243.1h.7M118.0 218.7h.7M123.1 241.5h.7M122.7 237.8h.7M118.1 223.1h.7M119.7 240.1h.7M118.7 219.0h.7M118.6 245.4h.7M115.1 254.5h.7M116.6 246.5h.7M120.4 243.0h.7M123.0 232.9h.7M122.8 215.3h.7M124.8 230.4h.7M119.6 217.6h.7M124.7 233.3h.7M122.9 225.6h.7M120.0 245.6h.7M119.7 213.2h.7M123.4 231.5h.7M117.9 220.3h.7M118.8 223.4h.7M123.4 231.1h.7M127.4 226.0h.7M128.8 229.7h.7M124.1 238.0h.7M121.2 213.1h.7M118.1 221.5h.7M122.9 230.6h.7M121.2 238.0h.7M118.0 244.4h.7M117.5 245.4h.7M122.6 227.1h.7M116.6 245.2h.7M117.8 214.5h.7M117.6 216.0h.7M123.1 233.8h.7M118.5 216.4h.7M119.1 245.1h.7M118.1 214.0h.7M118.4 219.8h.7M117.1 220.6h.7M122.6 243.9h.7M126.5 230.9h.7M112.8 254.4h.7M123.7 230.6h.7M118.1 242.7h.7M118.5 217.4h.7M115.2 254.5h.7M125.8 224.4h.7M116.9 220.0h.7M113.3 256.0h.7M118.5 215.2h.7M119.0 216.4h.7M118.2 244.1h.7M123.8 228.3h.7M117.5 247.9h.7M120.0 208.5h.7M127.6 237.4h.7M121.5 223.9h.7M115.0 249.2h.7M124.4 225.7h.7M124.0 226.2h.7M119.3 213.3h.7M119.6 219.0h.7M122.1 238.8h.7M112.9 251.0h.7M114.2 252.6h.7M120.4 247.0h.7M117.1 244.6h.7M115.1 247.4h.7M126.8 226.5h.7M116.9 248.7h.7M125.1 224.3h.7M118.3 247.8h.7M119.1 249.1h.7M117.9 250.6h.7M122.9 244.1h.7M119.7 240.8h.7M114.1 250.2h.7M124.9 234.6h.7M116.7 246.0h.7M117.5 245.9h.7M123.7 224.5h.7M119.1 220.1h.7M118.5 209.3h.7M117.9 219.0h.7M117.7 243.9h.7M120.0 217.6h.7M116.1 246.9h.7M112.4 254.3h.7M116.8 251.4h.7M126.3 230.8h.7M119.9 223.1h.7M114.5 250.4h.7M122.5 236.5h.7M118.2 248.2h.7M122.5 228.2h.7M114.1 250.7h.7M124.0 225.6h.7M126.9 225.6h.7M118.1 214.1h.7M116.1 252.3h.7M123.0 229.0h.7M119.2 242.8h.7M122.7 233.4h.7M115.5 247.8h.7M119.7 218.8h.7M117.8 244.1h.7M115.0 250.8h.7M112.5 256.1h.7M119.4 242.4h.7M112.3 253.1h.7M119.4 224.0h.7M119.0 243.5h.7M125.8 232.3h.7M124.3 240.4h.7M115.7 256.5h.7M122.7 235.2h.7M114.0 252.1h.7M122.5 234.7h.7M128.5 225.5h.7M111.9 252.8h.7M122.8 232.4h.7M118.9 251.6h.7M126.8 232.8h.7M113.1 253.2h.7M121.1 238.6h.7M119.2 247.0h.7M118.8 220.6h.7M120.2 221.4h.7M123.9 230.7h.7M119.7 212.5h.7M117.1 244.3h.7M116.9 219.5h.7M120.7 216.5h.7M123.1 237.2h.7M123.1 236.4h.7M117.8 243.0h.7M123.1 242.5h.7M120.6 221.2h.7M123.0 210.5h.7M123.1 229.5h.7M116.1 246.6h.7M121.3 240.9h.7M123.0 239.0h.7M112.3 256.4h.7M121.5 219.9h.7M118.5 217.6h.7M123.7 238.0h.7M118.0 222.7h.7M118.8 223.3h.7M122.2 231.3h.7M125.7 229.3h.7M111.7 253.8h.7M123.5 230.9h.7M120.9 215.0h.7M121.3 216.2h.7M112.6 254.9h.7M124.1 227.6h.7M124.8 225.1h.7M120.1 241.5h.7M114.6 249.9h.7M128.3 235.8h.7M117.8 243.3h.7M127.0 225.2h.7M127.3 227.5h.7M123.3 229.0h.7M123.4 240.1h.7M119.1 243.6h.7M122.7 225.7h.7M114.9 249.3h.7M123.2 240.8h.7M125.9 224.5h.7M123.5 227.5h.7M121.9 216.8h.7M119.9 246.8h.7M125.4 225.6h.7M114.9 251.4h.7M114.7 253.1h.7M123.1 239.0h.7M122.5 226.8h.7M121.7 237.5h.7M124.5 226.0h.7M126.7 226.8h.7M127.5 234.1h.7M119.7 221.4h.7M122.0 215.8h.7M120.8 241.5h.7M117.1 210.9h.7M117.0 215.1h.7M117.9 220.8h.7M118.7 243.6h.7M117.9 253.9h.7M123.3 234.7h.7M112.3 252.9h.7M124.0 229.1h.7M118.6 249.6h.7M127.5 226.7h.7M120.4 244.5h.7M122.4 237.0h.7M121.2 215.9h.7M120.5 216.8h.7M113.3 255.0h.7M125.5 225.5h.7M122.5 227.0h.7M117.7 220.3h.7M118.2 256.3h.7M119.1 242.2h.7M118.6 215.4h.7M122.2 225.0h.7M123.2 233.7h.7M122.4 241.0h.7M116.4 246.4h.7M128.4 235.9h.7M123.4 237.1h.7M128.2 224.3h.7M118.3 249.7h.7M113.6 252.4h.7M117.5 216.5h.7M122.2 226.6h.7M115.6 246.9h.7M116.2 246.1h.7M115.5 246.7h.7M124.1 228.1h.7M121.2 243.3h.7M129.8 227.8h.7M113.5 253.1h.7M122.2 237.8h.7M119.6 221.0h.7M113.8 251.8h.7M120.2 247.8h.7M110.7 256.1h.7M119.3 244.7h.7M118.2 220.7h.7M114.9 249.6h.7M123.2 231.7h.7M124.0 212.0h.7M119.9 244.7h.7M126.5 235.8h.7M115.1 252.0h.7M113.1 253.3h.7M118.3 213.5h.7M118.1 250.3h.7M118.6 220.4h.7M118.4 243.4h.7M123.3 232.0h.7M118.8 243.0h.7M121.3 221.5h.7M128.8 226.0h.7M113.1 256.4h.7M127.3 228.7h.7M119.2 244.8h.7M124.2 230.1h.7M113.3 254.1h.7M126.0 230.9h.7M120.4 215.0h.7M128.0 241.0h.7M125.2 234.2h.7M120.3 243.9h.7M125.4 226.3h.7M117.1 220.1h.7M122.9 231.2h.7M127.5 230.5h.7M123.1 230.7h.7M127.2 224.6h.7M112.1 253.2h.7M116.6 247.5h.7M118.3 213.8h.7M125.6 224.3h.7M120.1 215.9h.7M117.4 246.1h.7M118.7 220.1h.7M113.4 252.0h.7M126.4 237.7h.7M121.5 238.6h.7M124.2 233.8h.7M119.5 212.8h.7M117.4 247.1h.7M121.6 219.3h.7M125.7 230.5h.7M119.0 252.8h.7M118.4 215.8h.7M125.8 227.6h.7M119.1 216.1h.7M124.8 231.9h.7M119.5 221.0h.7M119.6 245.0h.7M125.2 236.6h.7M127.8 225.8h.7M112.3 254.5h.7M122.2 236.2h.7M113.4 254.9h.7M119.5 223.2h.7M122.1 238.5h.7M126.7 235.3h.7M123.7 225.6h.7M113.6 254.0h.7M116.5 249.8h.7M122.1 240.5h.7M120.2 222.6h.7M110.6 255.0h.7M123.1 234.8h.7M120.5 213.7h.7" stroke="#111" stroke-width="0.7"/>
<path d="M121.1 248.6h.7M123.4 252.9h.7M116.0 256.1h.7M129.8 228.7h.7M124.0 235.6h.7M124.4 248.0h.7M118.9 208.6h.7M122.4 212.9h.7M124.8 221.0h.7M124.3 223.7h.7M121.8 254.9h.7M124.7 211.3h.7M121.3 255.6h.7M133.7 225.7h.7M128.0 256.2h.7M124.1 238.2h.7M122.3 243.2h.7M134.1 234.7h.7M124.0 215.7h.7M125.0 246.8h.7M128.4 215.8h.7M122.8 228.0h.7M125.5 234.4h.7M122.9 228.5h.7M117.6 219.5h.7M121.5 248.0h.7M127.9 224.3h.7M125.1 218.8h.7M136.7 230.0h.7M132.9 232.4h.7M122.6 216.8h.7M124.2 239.5h.7M126.3 228.5h.7M121.3 253.4h.7M121.4 219.9h.7M123.3 223.7h.7M115.0 252.1h.7M124.4 213.9h.7M127.4 215.6h.7M118.0 244.0h.7M123.6 242.8h.7M120.2 240.5h.7M124.6 229.0h.7M116.0 251.8h.7M125.7 212.3h.7M123.9 224.2h.7M123.7 241.4h.7M113.6 256.0h.7M124.5 232.4h.7M127.0 231.7h.7M134.5 232.0h.7M120.8 247.2h.7M134.6 247.5h.7M128.8 231.0h.7M124.9 214.2h.7M123.0 241.3h.7M121.2 255.4h.7M123.8 236.3h.7M126.8 241.7h.7M124.2 225.8h.7M117.2 255.4h.7M126.3 229.2h.7M118.2 243.2h.7M117.2 249.9h.7M117.5 250.3h.7M124.6 242.8h.7M125.3 240.6h.7M125.0 208.2h.7M112.1 256.3h.7M129.8 223.4h.7M130.4 236.5h.7M123.6 255.0h.7M138.9 235.4h.7M123.7 226.1h.7M127.7 232.8h.7M120.5 221.5h.7M131.5 232.4h.7M120.2 240.2h.7M124.0 217.0h.7M118.2 245.3h.7M120.8 242.1h.7M127.4 220.1h.7M127.6 232.8h.7M127.6 227.5h.7M122.7 242.4h.7M126.8 243.5h.7M124.9 218.3h.7M119.7 222.9h.7M123.0 225.4h.7M123.6 246.0h.7M131.4 238.8h.7M119.5 241.6h.7M123.5 254.7h.7M112.9 254.9h.7M116.8 247.0h.7M124.9 213.3h.7M116.8 246.6h.7M126.9 231.6h.7M132.0 249.2h.7M122.1 250.1h.7M120.6 223.2h.7M112.7 255.2h.7M121.9 221.6h.7M116.8 252.7h.7M120.4 249.3h.7M118.2 251.2h.7M119.2 245.5h.7M135.1 227.3h.7M122.1 236.9h.7M124.3 226.9h.7M130.8 226.4h.7M117.6 244.9h.7M128.1 209.0h.7M122.4 222.2h.7M128.5 252.1h.7M128.7 239.3h.7M123.4 213.9h.7M120.6 218.3h.7M130.8 225.6h.7M123.6 213.6h.7M114.7 249.5h.7M124.4 219.8h.7M121.6 209.8h.7M117.4 247.3h.7M137.2 231.2h.7M118.1 255.9h.7M120.1 219.0h.7M124.0 238.3h.7M138.7 234.6h.7M123.8 226.8h.7M121.1 220.6h.7M142.2 244.5h.7M121.1 218.3h.7M129.6 229.0h.7M119.2 242.0h.7M127.7 233.0h.7M123.2 232.8h.7M134.3 231.9h.7M129.5 218.2h.7M128.6 225.4h.7M114.1 254.3h.7M123.3 239.8h.7M126.2 233.8h.7M121.3 249.0h.7M133.2 227.5h.7M123.9 215.9h.7M133.3 229.6h.7M124.2 227.7h.7M137.5 230.2h.7M124.7 248.3h.7M116.3 254.6h.7M134.2 232.1h.7M124.3 230.9h.7M125.5 239.3h.7M119.8 241.7h.7M129.5 214.6h.7M124.7 216.3h.7M123.0 234.7h.7M118.5 223.0h.7M130.8 240.9h.7M119.9 245.8h.7M124.2 235.7h.7M124.0 248.3h.7M122.8 235.5h.7M130.7 229.8h.7M116.2 255.0h.7M128.4 213.2h.7M123.7 249.0h.7M122.1 216.6h.7M118.9 248.3h.7M123.7 249.8h.7M123.5 217.8h.7M122.5 215.7h.7M120.7 222.2h.7M131.5 251.9h.7M122.9 250.2h.7M116.6 246.6h.7M131.2 221.6h.7M124.2 219.0h.7M126.9 212.4h.7M122.2 215.0h.7M133.5 241.9h.7M125.9 230.1h.7M123.9 217.5h.7M119.4 244.1h.7M115.1 248.3h.7M135.7 227.2h.7M121.6 218.9h.7M136.6 232.3h.7M119.9 244.1h.7M117.3 250.5h.7M127.2 224.9h.7M128.8 239.9h.7M123.1 215.5h.7M122.3 252.5h.7M118.1 246.2h.7M118.7 217.6h.7M123.3 247.4h.7M134.5 226.3h.7M124.4 236.1h.7M125.9 248.3h.7M124.8 238.4h.7M118.5 214.1h.7M121.0 249.8h.7M123.1 246.1h.7M136.7 229.2h.7M125.0 240.7h.7M126.2 232.7h.7M118.7 250.0h.7M125.8 226.8h.7M126.9 236.0h.7M124.2 232.4h.7M134.3 248.6h.7M119.4 217.7h.7M128.3 218.6h.7M118.2 222.9h.7M128.7 235.8h.7M127.2 239.4h.7M124.3 211.2h.7M125.3 241.5h.7M126.7 243.6h.7M122.4 222.6h.7M133.0 230.4h.7M129.0 243.1h.7M117.5 213.5h.7M118.4 224.0h.7M122.1 213.2h.7M124.0 256.3h.7M115.2 253.2h.7M123.9 227.0h.7M114.5 254.0h.7M131.1 232.8h.7M120.2 245.3h.7M120.2 248.3h.7M123.4 227.7h.7M123.6 251.2h.7M129.4 235.1h.7M128.3 230.4h.7M125.5 235.0h.7M121.1 249.9h.7M117.4 250.7h.7M122.4 255.4h.7M121.9 238.7h.7M119.0 248.9h.7M118.1 222.6h.7M119.3 242.6h.7M126.3 239.2h.7M121.2 239.9h.7M124.1 229.4h.7M123.6 223.8h.7M121.7 214.2h.7M123.3 240.5h.7M126.0 247.2h.7M121.8 243.1h.7M126.5 227.2h.7M126.3 232.3h.7M124.8 233.4h.7M119.0 219.1h.7M116.2 255.0h.7M126.0 248.4h.7M122.8 227.1h.7M124.2 213.3h.7M128.1 229.4h.7M117.8 245.0h.7M127.4 233.2h.7M139.4 228.6h.7M124.1 219.5h.7M124.5 235.2h.7M123.7 229.6h.7M116.1 252.4h.7M129.3 242.5h.7M120.3 242.7h.7M120.5 218.8h.7M119.1 217.4h.7M132.9 233.1h.7M134.6 228.2h.7M118.2 220.2h.7M121.2 253.8h.7M120.3 249.9h.7M123.4 243.0h.7M122.8 221.5h.7M122.7 229.2h.7M123.5 221.7h.7M121.0 221.3h.7M133.8 239.2h.7M130.4 232.0h.7M124.9 219.1h.7M129.3 232.4h.7M124.5 242.9h.7M119.4 251.3h.7M135.1 221.3h.7M113.7 253.7h.7M121.9 220.5h.7M128.1 217.9h.7M124.5 239.4h.7M121.5 220.6h.7M126.3 230.4h.7M128.8 242.6h.7M124.4 213.1h.7M130.3 231.1h.7M118.0 254.6h.7M128.3 226.2h.7M122.8 243.9h.7M129.6 235.6h.7M130.5 233.0h.7M130.2 254.8h.7M126.1 245.7h.7M115.2 248.7h.7M117.9 219.7h.7M125.2 253.5h.7M119.8 248.4h.7M120.9 246.2h.7M125.7 231.1h.7M123.5 246.7h.7M121.7 248.9h.7M124.4 235.5h.7M121.1 242.8h.7M133.6 224.0h.7M118.2 222.7h.7M139.4 226.4h.7M123.9 226.2h.7M127.4 242.4h.7M122.3 219.9h.7M125.4 221.9h.7M114.8 251.0h.7M118.3 214.0h.7M120.0 242.5h.7M119.2 247.3h.7M125.6 247.4h.7M123.8 215.5h.7M124.3 227.4h.7M120.2 217.3h.7M127.2 245.8h.7M136.7 238.5h.7M126.7 247.4h.7M131.6 235.5h.7M127.9 224.2h.7M139.0 240.1h.7M113.4 253.5h.7M131.7 230.4h.7M118.8 244.8h.7M125.1 238.1h.7M115.8 247.2h.7M126.0 251.3h.7M123.8 214.2h.7M130.1 224.2h.7M124.2 256.3h.7M126.0 238.6h.7M122.5 216.4h.7M115.5 249.2h.7M121.9 245.8h.7M120.5 222.8h.7M132.3 231.8h.7M130.1 232.5h.7M125.7 212.5h.7M114.0 254.9h.7M124.4 248.6h.7M119.6 220.7h.7M124.8 234.3h.7M131.2 226.2h.7M117.7 213.0h.7M119.3 246.8h.7M124.4 237.1h.7M128.0 250.2h.7M118.5 210.2h.7M123.1 240.3h.7M134.0 248.1h.7M113.2 251.4h.7M133.7 226.4h.7M118.1 222.4h.7M129.2 253.0h.7M130.3 235.5h.7M119.4 256.1h.7M124.3 234.8h.7M129.8 243.3h.7M124.9 231.2h.7M133.9 238.8h.7M114.3 253.9h.7M131.9 246.3h.7M134.8 226.5h.7M120.2 219.0h.7M131.8 237.4h.7M135.4 223.8h.7M122.3 254.2h.7M116.6 247.0h.7M131.0 216.5h.7M127.3 231.9h.7M116.7 248.8h.7M141.2 227.3h.7M122.1 215.6h.7M124.3 242.0h.7M133.5 236.1h.7M133.2 232.6h.7M124.1 214.9h.7M131.5 218.5h.7M115.6 247.3h.7M114.3 250.1h.7M127.0 248.1h.7M125.1 245.5h.7M133.1 238.7h.7M138.7 223.9h.7M117.3 252.7h.7M131.3 241.2h.7M120.7 249.2h.7M120.1 220.2h.7M133.7 234.3h.7M125.9 251.1h.7M121.4 219.8h.7M129.3 213.9h.7M118.3 245.2h.7M120.9 221.7h.7M132.0 245.4h.7M120.5 215.7h.7M125.4 240.4h.7M123.2 240.2h.7M121.5 250.4h.7M120.5 219.7h.7M129.4 246.0h.7M124.0 233.8h.7M126.8 226.7h.7M120.1 222.2h.7M131.7 226.4h.7M120.9 252.7h.7M126.1 235.5h.7M114.3 249.8h.7M123.9 213.0h.7M123.2 232.3h.7M127.5 229.0h.7M118.5 256.0h.7M115.7 248.7h.7M116.2 251.3h.7M123.9 238.9h.7M128.8 243.9h.7M123.1 222.9h.7M124.8 233.0h.7M131.6 230.7h.7M128.6 252.2h.7M133.4 231.2h.7M123.3 254.8h.7M135.4 239.1h.7M136.0 250.3h.7M130.8 209.2h.7M125.4 226.1h.7M127.8 230.7h.7M127.6 227.9h.7M132.4 243.5h.7M123.4 228.1h.7M138.4 236.0h.7M133.9 238.7h.7M125.1 225.7h.7M124.6 233.2h.7M145.3 236.3h.7M130.5 228.1h.7M127.1 225.0h.7M124.8 236.7h.7M128.4 234.3h.7M120.2 223.3h.7M144.9 231.9h.7M130.4 235.3h.7M122.0 218.0h.7M124.3 224.8h.7M121.2 245.9h.7M120.5 245.8h.7M132.8 229.4h.7M123.0 240.4h.7M120.0 252.6h.7M116.3 247.8h.7M125.6 234.8h.7M120.7 239.7h.7M125.1 231.6h.7M134.5 229.6h.7M119.4 219.3h.7M120.4 247.6h.7M124.3 230.0h.7M123.4 247.1h.7M126.9 236.9h.7M129.6 235.2h.7M122.8 239.0h.7M120.4 212.9h.7M116.6 250.1h.7M122.9 242.2h.7M135.6 225.0h.7M132.5 235.8h.7M145.3 226.4h.7M127.7 255.8h.7M123.5 226.8h.7M124.6 218.1h.7M129.9 246.0h.7M127.0 231.7h.7M121.0 240.3h.7M134.6 229.5h.7M120.7 243.5h.7M127.6 234.0h.7M122.7 237.0h.7M122.9 223.1h.7M129.1 224.6h.7M127.1 236.0h.7M117.8 216.4h.7M121.6 244.4h.7M122.6 215.2h.7M126.3 233.0h.7M130.8 244.4h.7M125.1 241.7h.7M113.9 254.1h.7M118.8 254.4h.7M117.9 223.6h.7M122.5 248.5h.7M118.9 218.3h.7M120.2 213.7h.7M120.5 216.7h.7M127.0 233.5h.7M117.9 245.5h.7M120.1 252.5h.7M125.1 246.4h.7M121.0 224.0h.7M119.8 252.9h.7M126.2 251.0h.7M120.1 219.6h.7M126.6 234.0h.7M129.4 232.2h.7M124.2 240.3h.7M133.8 228.6h.7M115.5 255.7h.7M123.5 213.7h.7M125.7 216.5h.7M129.1 218.5h.7M129.6 230.8h.7M125.8 227.3h.7M123.5 254.4h.7M131.6 251.2h.7M120.2 249.2h.7M116.7 245.5h.7M117.6 246.0h.7M126.7 241.2h.7M122.6 227.9h.7M114.4 253.3h.7M125.7 226.6h.7M124.6 247.4h.7M119.1 222.6h.7M123.1 231.7h.7M120.6 255.3h.7M114.9 253.9h.7M119.7 242.1h.7M119.3 243.3h.7M113.1 252.8h.7M135.5 229.3h.7M112.5 252.8h.7M119.7 214.6h.7M110.4 256.2h.7M123.1 215.1h.7M118.7 251.5h.7M120.4 253.9h.7M117.5 210.8h.7M132.9 213.1h.7M122.0 210.0h.7M127.4 231.9h.7M122.9 232.8h.7M127.6 246.9h.7M135.4 228.4h.7M117.9 220.9h.7M129.9 239.4h.7M130.4 235.6h.7M129.1 232.9h.7M110.6 256.0h.7M118.8 223.9h.7M123.6 223.2h.7M123.5 209.7h.7M132.1 231.5h.7M127.1 243.4h.7M121.5 244.8h.7M130.3 218.0h.7M122.9 236.9h.7M127.7 224.7h.7M120.0 247.0h.7M117.9 218.2h.7M119.6 213.2h.7M134.3 239.4h.7M127.4 245.8h.7M113.4 252.7h.7M126.8 239.4h.7M132.0 232.0h.7M121.2 244.7h.7M124.6 228.7h.7M132.5 228.4h.7M138.3 228.7h.7M125.6 243.0h.7M127.8 236.7h.7M122.7 225.8h.7M115.2 250.4h.7M113.9 253.5h.7M116.4 251.3h.7M122.7 220.4h.7M121.7 241.9h.7M131.8 226.8h.7M122.4 219.3h.7M130.4 249.6h.7M137.8 213.5h.7M136.3 230.3h.7M120.8 247.2h.7M137.6 240.3h.7M114.9 253.2h.7M130.6 237.9h.7M129.2 228.4h.7M123.3 219.1h.7M118.8 247.4h.7M118.7 216.8h.7M119.0 253.8h.7M116.8 254.2h.7M126.2 238.2h.7M126.1 235.2h.7M127.8 238.0h.7M119.4 251.7h.7M123.0 236.4h.7M118.3 221.4h.7M122.1 220.7h.7M126.9 229.3h.7M120.1 217.3h.7M119.0 214.4h.7M130.0 227.2h.7M125.1 244.8h.7M128.1 227.2h.7M124.0 245.5h.7M117.4 252.7h.7M127.6 220.2h.7M124.0 226.5h.7M132.2 241.9h.7M128.3 230.3h.7M118.3 216.6h.7M128.3 242.5h.7M128.6 229.0h.7M120.1 218.3h.7M122.4 247.9h.7M119.6 220.1h.7M118.8 222.1h.7M123.9 246.3h.7M121.9 246.2h.7M137.0 239.7h.7M122.2 213.5h.7M118.7 220.5h.7M127.5 233.6h.7M132.7 228.8h.7M118.9 210.2h.7M119.7 220.4h.7M123.8 239.7h.7M121.9 217.6h.7M127.8 247.1h.7M121.1 241.1h.7M117.8 221.7h.7M113.9 255.8h.7M127.7 229.1h.7M112.0 253.1h.7M126.1 238.5h.7M125.5 239.9h.7M114.0 250.4h.7M120.2 213.4h.7M128.2 232.9h.7M135.5 231.1h.7M117.6 251.4h.7M138.1 230.7h.7M126.2 222.3h.7M129.3 241.4h.7M124.2 246.5h.7M129.6 227.8h.7M120.9 216.0h.7M125.1 226.7h.7M130.8 234.7h.7M118.7 246.8h.7M126.8 212.3h.7M134.3 245.1h.7M125.2 234.0h.7M127.9 234.1h.7M121.5 212.9h.7M128.0 250.7h.7M126.1 223.4h.7M121.9 215.5h.7M123.8 247.4h.7M127.0 224.5h.7M122.6 250.8h.7M125.6 225.1h.7M125.2 244.9h.7M127.0 234.9h.7M118.5 250.9h.7M117.1 246.8h.7M120.7 217.5h.7M126.0 254.8h.7M126.4 233.7h.7M131.1 234.9h.7M124.7 235.0h.7M121.6 240.6h.7M125.2 239.1h.7M124.2 253.1h.7M123.5 210.5h.7M117.7 215.4h.7M123.2 233.8h.7M127.5 233.6h.7M113.0 251.7h.7M131.2 231.2h.7M131.7 221.5h.7M120.9 222.8h.7M133.1 243.5h.7M123.9 225.6h.7M117.2 250.8h.7M131.1 235.3h.7M137.0 247.0h.7M121.2 208.3h.7M135.0 242.6h.7M118.4 215.2h.7M125.5 256.2h.7M124.6 239.5h.7M117.9 223.6h.7M126.5 211.8h.7M129.5 235.1h.7M124.3 237.2h.7M143.6 224.8h.7M118.4 248.1h.7M128.1 228.5h.7M121.2 255.8h.7M120.2 222.6h.7M130.3 240.7h.7M121.6 222.5h.7M122.9 243.6h.7M135.1 230.8h.7M123.1 230.5h.7M125.0 230.6h.7M128.0 237.9h.7M129.0 250.6h.7M118.3 249.4h.7M121.9 243.8h.7M126.0 224.9h.7M125.0 224.4h.7M116.1 252.1h.7M123.7 216.5h.7M124.4 254.8h.7M137.8 243.6h.7M119.3 213.0h.7M133.1 226.1h.7M117.4 220.3h.7M124.8 225.5h.7M141.4 236.0h.7M121.9 250.5h.7M118.0 220.5h.7M124.1 228.2h.7M111.8 253.8h.7M130.6 236.2h.7M120.5 219.5h.7M121.8 241.8h.7M121.2 211.8h.7M130.5 246.8h.7M114.7 255.0h.7M118.8 252.9h.7M124.0 233.1h.7M112.0 255.6h.7M127.2 248.9h.7M138.0 227.8h.7M123.3 217.7h.7M124.6 249.7h.7M124.2 235.9h.7M126.9 228.0h.7M122.8 236.7h.7M117.6 212.5h.7M117.8 214.4h.7M129.5 249.8h.7M113.8 250.8h.7M118.1 244.6h.7M123.0 237.0h.7M123.8 228.9h.7M123.6 246.6h.7M119.5 252.5h.7M117.6 213.1h.7M122.1 237.7h.7M132.2 230.9h.7M126.2 241.3h.7M123.0 217.0h.7M139.8 230.5h.7M115.6 256.2h.7M125.5 235.0h.7M126.3 238.6h.7M117.9 243.8h.7M122.9 256.5h.7M131.0 227.0h.7M123.8 239.6h.7M116.2 250.0h.7M117.9 255.7h.7M120.6 211.2h.7M130.1 238.6h.7M112.2 253.1h.7M132.8 228.9h.7M122.7 238.7h.7M122.7 217.8h.7M118.0 254.6h.7M123.8 245.8h.7M117.3 208.2h.7M130.1 232.3h.7M120.8 209.8h.7M128.4 213.3h.7M131.4 226.9h.7M123.9 229.3h.7M126.8 256.0h.7M127.1 243.7h.7M120.3 242.0h.7M116.7 248.3h.7M124.7 240.6h.7M122.7 221.0h.7M113.9 252.7h.7M122.9 224.5h.7M144.0 224.9h.7M125.1 247.5h.7M120.9 208.2h.7M117.7 247.3h.7M117.3 246.3h.7M119.5 248.9h.7M126.3 219.4h.7M117.5 213.8h.7M110.9 255.7h.7M124.6 228.1h.7M137.6 236.2h.7M113.3 255.9h.7M130.2 254.7h.7M128.7 224.6h.7M121.4 210.9h.7M124.4 232.1h.7M133.3 242.0h.7M124.4 224.3h.7M123.1 228.1h.7M126.5 251.1h.7M125.3 223.0h.7M133.9 227.8h.7M126.0 235.5h.7M119.1 223.1h.7M130.2 214.0h.7M125.5 237.9h.7M120.1 218.0h.7M137.0 238.0h.7M125.1 219.0h.7M120.7 221.0h.7M125.2 215.2h.7M129.3 232.7h.7M125.2 234.2h.7M132.0 231.4h.7M126.8 238.9h.7M124.2 236.4h.7M125.2 208.0h.7M121.9 214.1h.7M124.1 239.9h.7M118.5 220.6h.7M122.8 226.5h.7M117.9 220.6h.7M121.3 219.8h.7M118.4 251.7h.7M116.8 247.8h.7M120.4 251.2h.7M129.6 235.2h.7M122.3 213.7h.7M130.4 240.7h.7M127.1 238.5h.7M127.0 248.6h.7M127.8 224.8h.7M131.0 248.4h.7M128.7 226.5h.7M125.2 235.8h.7M120.6 240.7h.7M119.4 214.6h.7M132.8 238.9h.7M131.2 233.4h.7M117.5 216.2h.7M115.3 251.0h.7M120.3 218.6h.7M124.1 236.7h.7M134.7 237.2h.7M124.4 219.7h.7M129.9 236.6h.7M112.9 253.9h.7M132.0 227.2h.7M119.6 248.7h.7M111.6 255.9h.7M128.9 242.8h.7M142.6 239.0h.7M122.8 244.9h.7M120.3 245.9h.7M119.8 218.7h.7M132.1 228.7h.7M122.8 242.3h.7M135.3 256.4h.7M117.0 246.8h.7M135.2 232.0h.7M119.2 253.6h.7M124.0 233.8h.7M126.3 231.5h.7M130.7 232.3h.7M126.1 233.7h.7M112.3 255.1h.7M125.1 223.5h.7M132.8 244.0h.7M123.1 218.0h.7M128.9 226.7h.7M121.2 254.8h.7M115.1 254.7h.7M133.9 239.1h.7M122.1 254.4h.7M119.7 211.2h.7" stroke="#111" stroke-width="0.7"/>
<path d="M107.0 244.3h.7M109.7 258.3h.7M109.3 239.1h.7M114.8 226.7h.7M111.2 245.7h.7M114.5 231.3h.7M114.2 252.7h.7M116.6 237.6h.7M113.6 213.5h.7M112.7 226.2h.7M115.6 224.8h.7M114.2 219.5h.7M116.4 223.4h.7M111.9 238.8h.7M110.4 232.1h.7M117.2 253.0h.7M103.1 221.3h.7M115.3 243.2h.7M109.7 233.1h.7M111.0 259.0h.7M111.0 217.9h.7M104.3 216.9h.7M118.4 227.4h.7M121.6 239.6h.7M113.9 239.6h.7M115.9 242.9h.7M107.2 225.4h.7M109.3 233.2h.7M110.8 217.4h.7M108.6 253.2h.7M122.5 221.9h.7M113.9 231.6h.7M107.8 240.5h.7M111.7 251.8h.7M114.3 228.3h.7M98.9 230.8h.7M116.2 223.5h.7M116.4 240.1h.7M103.3 229.7h.7M113.6 240.9h.7M112.8 231.8h.7M110.3 228.6h.7M112.0 219.4h.7M115.2 228.1h.7M114.6 226.0h.7M114.0 233.5h.7M116.4 237.5h.7M116.6 230.0h.7M111.7 228.9h.7M105.8 230.5h.7M117.4 241.1h.7M107.8 235.6h.7M115.7 215.9h.7M113.7 235.9h.7M115.7 235.0h.7M103.4 208.1h.7M121.8 227.3h.7M118.3 247.0h.7M112.4 218.5h.7M118.8 231.6h.7M114.6 237.7h.7M116.7 244.0h.7M105.0 215.3h.7M112.7 232.1h.7M115.8 230.4h.7M111.1 256.0h.7M118.8 245.7h.7M117.1 222.7h.7M111.6 231.2h.7M106.6 221.7h.7M112.8 217.6h.7M114.7 237.6h.7M110.8 228.0h.7M115.0 237.7h.7M113.8 217.5h.7M104.0 256.2h.7M108.8 227.7h.7M103.0 222.6h.7M108.4 241.4h.7M98.9 215.4h.7M110.0 226.2h.7M108.2 226.8h.7M104.2 235.2h.7M117.9 233.8h.7M109.4 246.9h.7M114.4 219.8h.7M109.2 224.8h.7M111.8 246.3h.7M108.5 230.3h.7M112.6 217.9h.7M109.6 239.2h.7M117.6 209.9h.7M115.5 228.6h.7M118.4 239.3h.7M121.7 235.7h.7M110.0 222.2h.7M104.9 238.5h.7M114.5 241.7h.7M113.7 214.4h.7M110.0 229.1h.7" stroke="#111" stroke-width="0.7"/>
<clipPath id="b2"><path d="M106.30 213.50C108.40 211.60 108.20 211.37 111.30 211.60C114.40 211.83 113.73 211.73 115.60 214.20C117.47 216.67 116.30 216.07 116.90 219.00C117.50 221.93 116.37 221.00 117.40 223.00C118.43 225.00 117.93 223.67 120.00 225.00C122.07 226.33 122.53 224.67 123.60 227.00C124.67 229.33 124.13 227.63 123.20 232.00C122.27 236.37 123.27 234.60 120.80 240.10C118.33 245.60 119.43 244.13 115.80 248.50C112.17 252.87 113.60 251.60 109.90 253.20C106.20 254.80 107.30 254.93 104.70 253.30C102.10 251.67 102.50 253.63 102.10 248.30C101.70 242.97 102.70 244.77 103.50 237.30C104.30 229.83 104.00 232.57 104.50 225.90C105.00 219.23 104.40 221.43 105.00 217.30C105.60 213.17 104.20 215.40 106.30 213.50Z"/></clipPath>
<path d="M123.9 229.0h.7M104.3 213.1h.7M104.9 217.4h.7M115.3 214.0h.7M102.4 248.6h.7M105.5 216.5h.7M101.8 246.8h.7M109.8 212.2h.7M118.9 224.5h.7M122.5 222.5h.7M116.8 215.3h.7M117.1 223.0h.7M114.8 218.5h.7M105.9 219.1h.7M124.4 225.5h.7M115.5 213.4h.7M121.0 225.4h.7M103.0 238.0h.7M123.6 225.3h.7M118.1 225.2h.7M121.9 236.7h.7M122.6 234.1h.7M101.9 249.9h.7M116.1 247.1h.7M118.2 219.8h.7M116.5 213.9h.7M124.0 230.9h.7M119.0 224.8h.7M103.9 222.4h.7M109.2 212.7h.7M117.4 218.8h.7M113.6 250.9h.7M120.0 241.0h.7M121.9 234.5h.7M116.0 217.6h.7M104.3 230.8h.7M104.7 253.2h.7M116.7 246.9h.7M112.9 210.3h.7M117.9 245.6h.7M113.1 248.8h.7M122.0 237.0h.7M113.9 213.1h.7M122.3 229.5h.7M102.3 248.9h.7M116.8 217.9h.7M107.5 213.6h.7M122.2 226.8h.7M121.0 224.6h.7M119.6 223.8h.7M124.1 227.2h.7M123.8 228.4h.7M113.1 211.6h.7M119.9 226.9h.7M122.4 230.5h.7M116.2 242.3h.7M121.9 227.7h.7M101.9 237.9h.7M113.8 213.6h.7M102.2 236.4h.7M107.1 253.1h.7M123.7 228.5h.7M124.6 230.9h.7M106.1 251.6h.7M122.8 228.4h.7M105.3 215.0h.7M104.0 221.9h.7M103.6 233.5h.7M104.8 253.6h.7M109.6 251.9h.7M121.2 224.5h.7M121.3 241.3h.7M105.5 218.7h.7M105.2 253.1h.7M116.1 219.0h.7M120.9 240.0h.7M122.7 239.3h.7M123.5 226.7h.7M101.5 248.1h.7M102.5 235.1h.7M106.7 217.5h.7M110.8 252.2h.7M115.2 214.3h.7M110.8 254.9h.7M122.9 228.8h.7M112.1 212.0h.7M116.1 218.7h.7M106.8 215.9h.7M112.8 212.7h.7M106.0 252.5h.7M104.7 238.5h.7M113.6 209.8h.7M108.6 212.2h.7M116.8 222.0h.7M108.8 211.0h.7M112.6 212.0h.7M118.2 221.2h.7M122.2 232.6h.7M105.3 212.8h.7M113.9 250.9h.7M124.6 232.8h.7M118.9 222.5h.7M104.7 218.8h.7M124.6 227.2h.7M117.3 221.3h.7M121.9 233.8h.7M105.1 228.4h.7M116.3 221.4h.7M116.1 222.6h.7M116.1 217.1h.7M116.3 215.3h.7M120.7 225.8h.7M119.9 225.5h.7M121.5 237.3h.7M100.6 249.2h.7M103.3 230.3h.7M106.2 215.2h.7M110.2 253.3h.7M123.8 228.6h.7M117.4 224.2h.7M123.6 229.3h.7M122.2 239.6h.7M110.5 212.9h.7M113.0 250.7h.7M122.8 226.6h.7M116.9 223.5h.7M103.0 219.2h.7M109.9 213.3h.7M103.7 246.0h.7M118.1 222.9h.7M105.9 252.0h.7M115.0 214.0h.7M112.0 211.9h.7M116.6 220.8h.7M118.2 222.6h.7M117.5 214.1h.7M120.3 225.9h.7M123.8 228.7h.7M103.4 250.1h.7M112.4 250.4h.7M103.6 241.6h.7M122.5 234.3h.7M116.7 247.0h.7M106.2 212.3h.7M117.5 223.1h.7M122.3 228.1h.7M109.8 213.2h.7M110.9 210.0h.7M105.7 214.4h.7M105.3 223.6h.7M114.9 250.3h.7M107.0 212.8h.7M124.7 228.4h.7M106.8 251.9h.7M101.9 241.4h.7M118.8 244.9h.7M116.2 245.8h.7M110.6 212.7h.7M104.1 251.3h.7M118.0 221.5h.7M118.9 223.2h.7M105.7 220.1h.7M107.6 213.3h.7M117.4 218.2h.7M122.9 229.1h.7M116.9 217.8h.7M121.3 238.0h.7M105.2 253.5h.7M115.8 215.4h.7M111.4 211.3h.7M118.2 221.9h.7M112.1 214.8h.7M120.7 242.6h.7M106.0 252.3h.7M118.4 219.6h.7M116.1 221.2h.7M103.9 250.3h.7M118.7 244.7h.7M117.2 223.1h.7M115.2 249.1h.7M111.5 212.4h.7M104.6 253.6h.7M123.9 233.7h.7M105.9 213.5h.7M106.0 254.4h.7M113.2 213.2h.7M114.3 249.6h.7M117.7 224.8h.7M112.4 213.9h.7M112.0 252.7h.7M124.8 228.9h.7M121.4 224.1h.7M121.9 230.0h.7M118.8 242.4h.7M107.4 211.3h.7M116.8 223.4h.7M111.9 212.7h.7M109.2 211.2h.7M116.6 222.4h.7M122.5 232.5h.7M113.0 248.3h.7M122.3 228.2h.7M117.1 222.7h.7M103.0 233.5h.7M105.7 226.3h.7M123.4 227.0h.7M108.6 254.2h.7M118.9 223.9h.7M106.2 253.4h.7M123.8 230.3h.7M119.5 242.2h.7M109.7 212.7h.7M104.0 228.8h.7M116.8 219.5h.7M120.7 225.6h.7M116.0 215.0h.7M116.5 215.5h.7M117.1 222.6h.7M109.3 211.7h.7M111.0 211.6h.7M122.8 227.4h.7M116.9 219.4h.7M105.5 220.6h.7M108.5 213.5h.7M105.5 224.2h.7M103.1 249.6h.7M104.7 219.3h.7M105.1 216.5h.7M121.3 238.4h.7M104.2 223.9h.7M123.5 229.8h.7M123.0 225.8h.7M116.9 216.6h.7M103.1 239.5h.7M120.2 225.5h.7M119.1 224.1h.7M116.9 247.9h.7M104.7 239.1h.7M110.3 213.5h.7M112.4 248.9h.7M115.1 217.4h.7M107.4 252.7h.7M102.2 237.7h.7M122.3 227.5h.7M107.1 213.5h.7M120.1 226.3h.7M124.2 233.1h.7M100.9 247.2h.7M114.9 213.7h.7M111.0 212.7h.7M102.3 248.8h.7M103.6 224.1h.7M100.9 248.7h.7M119.1 225.6h.7M116.7 246.0h.7M123.6 229.4h.7M121.5 225.4h.7M114.4 216.5h.7M115.1 219.3h.7M111.6 211.4h.7M110.1 253.8h.7M101.5 234.3h.7M119.1 243.0h.7M106.2 217.4h.7M122.9 233.2h.7M106.3 215.1h.7M106.7 221.7h.7M124.5 231.5h.7M108.5 252.7h.7M103.1 251.1h.7M104.4 251.3h.7M103.7 229.1h.7M118.7 223.8h.7M103.6 239.8h.7M119.9 243.3h.7M109.2 212.1h.7M103.5 232.6h.7M106.3 216.0h.7M123.2 225.6h.7M107.0 213.0h.7M110.7 213.1h.7M104.1 242.8h.7M104.3 252.3h.7M113.1 213.6h.7M120.3 226.9h.7M105.5 255.5h.7M116.2 215.3h.7M122.2 238.9h.7M122.6 228.2h.7M118.6 224.3h.7M105.6 218.0h.7M115.6 249.3h.7M122.9 230.9h.7M106.1 213.4h.7M122.3 224.7h.7M121.4 228.5h.7M108.0 254.0h.7M115.3 212.9h.7M113.9 213.5h.7M114.0 251.4h.7M118.1 244.6h.7M103.6 233.8h.7M106.4 252.8h.7M123.9 228.6h.7M119.7 223.6h.7M106.1 251.1h.7M105.5 214.1h.7M103.7 242.0h.7M116.0 218.2h.7M116.2 216.0h.7M119.9 225.6h.7M120.7 225.4h.7M112.2 211.9h.7M101.9 241.0h.7M119.6 224.1h.7M118.5 219.5h.7M102.4 248.9h.7M105.8 252.7h.7M106.7 252.5h.7M112.5 251.2h.7M105.7 214.4h.7M102.3 243.6h.7M121.9 235.2h.7M106.6 211.7h.7M109.2 252.6h.7M105.8 211.4h.7M117.1 223.4h.7M104.8 253.1h.7M115.8 215.1h.7M109.2 254.3h.7M121.2 235.3h.7M120.6 226.2h.7M103.8 252.9h.7M109.3 255.3h.7M113.2 250.8h.7M124.0 227.4h.7M122.5 225.0h.7M117.4 217.6h.7M104.4 217.1h.7M115.8 215.8h.7M120.1 224.4h.7M120.8 225.3h.7M116.4 218.2h.7M111.1 252.3h.7M116.3 218.4h.7M109.1 252.4h.7M122.5 232.4h.7M105.0 213.6h.7M105.9 216.9h.7M102.3 247.9h.7M101.9 247.0h.7M108.0 213.4h.7M114.7 249.8h.7M108.8 254.2h.7M106.5 215.2h.7M106.0 253.4h.7M105.6 215.2h.7M101.6 246.8h.7M116.5 221.3h.7M114.3 214.6h.7M123.0 230.6h.7M106.0 223.5h.7M119.5 225.5h.7M103.0 248.5h.7M107.8 214.6h.7M122.1 225.8h.7M108.0 252.5h.7M105.7 214.7h.7M124.1 231.4h.7M121.9 238.2h.7M102.4 242.3h.7M102.1 251.2h.7M118.7 223.6h.7M115.4 217.5h.7M111.3 254.1h.7M106.1 213.8h.7M103.5 217.5h.7M102.8 250.1h.7M112.6 213.9h.7M102.7 249.8h.7M124.2 226.2h.7M102.3 228.9h.7M107.9 213.1h.7M103.3 248.0h.7M112.0 214.4h.7M118.8 224.5h.7M117.5 219.6h.7M122.0 226.0h.7M107.8 252.8h.7M112.7 212.7h.7M112.3 213.1h.7M119.7 225.2h.7M116.6 212.7h.7M115.2 212.7h.7M106.7 252.4h.7M103.9 236.3h.7M103.0 251.9h.7M124.8 226.7h.7M106.2 217.2h.7M122.3 233.0h.7M120.1 235.1h.7M118.2 243.6h.7M103.2 220.6h.7M122.9 229.8h.7M111.5 211.4h.7M105.9 215.2h.7M116.1 213.9h.7M104.1 248.1h.7M116.9 215.6h.7M103.5 215.1h.7M116.9 223.5h.7M116.8 215.1h.7M119.8 244.3h.7M108.1 214.6h.7M115.3 217.8h.7M123.6 230.0h.7M104.8 252.5h.7M108.3 211.4h.7M107.4 253.3h.7M119.0 243.1h.7" stroke="#111" stroke-width="0.7"/>
<g clip-path="url(#b2)">
<path d="M106.30 213.50C108.40 211.60 108.20 211.37 111.30 211.60C114.40 211.83 113.73 211.73 115.60 214.20C117.47 216.67 116.30 216.07 116.90 219.00C117.50 221.93 116.37 221.00 117.40 223.00C118.43 225.00 117.93 223.67 120.00 225.00C122.07 226.33 122.53 224.67 123.60 227.00C124.67 229.33 124.13 227.63 123.20 232.00C122.27 236.37 123.27 234.60 120.80 240.10C118.33 245.60 119.43 244.13 115.80 248.50C112.17 252.87 113.60 251.60 109.90 253.20C106.20 254.80 107.30 254.93 104.70 253.30C102.10 251.67 102.50 253.63 102.10 248.30C101.70 242.97 102.70 244.77 103.50 237.30C104.30 229.83 104.00 232.57 104.50 225.90C105.00 219.23 104.40 221.43 105.00 217.30C105.60 213.17 104.20 215.40 106.30 213.50Z" fill="#fff"/>
<path d="M106.30 213.50C108.40 211.60 108.20 211.37 111.30 211.60C114.40 211.83 113.73 211.73 115.60 214.20C117.47 216.67 116.30 216.07 116.90 219.00C117.50 221.93 116.37 221.00 117.40 223.00C118.43 225.00 117.93 223.67 120.00 225.00C122.07 226.33 122.53 224.67 123.60 227.00C124.67 229.33 124.13 227.63 123.20 232.00C122.27 236.37 123.27 234.60 120.80 240.10C118.33 245.60 119.43 244.13 115.80 248.50C112.17 252.87 113.60 251.60 109.90 253.20C106.20 254.80 107.30 254.93 104.70 253.30C102.10 251.67 102.50 253.63 102.10 248.30C101.70 242.97 102.70 244.77 103.50 237.30C104.30 229.83 104.00 232.57 104.50 225.90C105.00 219.23 104.40 221.43 105.00 217.30C105.60 213.17 104.20 215.40 106.30 213.50Z" fill="none" stroke="#ececec" stroke-width="9.40" stroke-linejoin="round"/>
<path d="M106.30 213.50C108.40 211.60 108.20 211.37 111.30 211.60C114.40 211.83 113.73 211.73 115.60 214.20C117.47 216.67 116.30 216.07 116.90 219.00C117.50 221.93 116.37 221.00 117.40 223.00C118.43 225.00 117.93 223.67 120.00 225.00C122.07 226.33 122.53 224.67 123.60 227.00C124.67 229.33 124.13 227.63 123.20 232.00C122.27 236.37 123.27 234.60 120.80 240.10C118.33 245.60 119.43 244.13 115.80 248.50C112.17 252.87 113.60 251.60 109.90 253.20C106.20 254.80 107.30 254.93 104.70 253.30C102.10 251.67 102.50 253.63 102.10 248.30C101.70 242.97 102.70 244.77 103.50 237.30C104.30 229.83 104.00 232.57 104.50 225.90C105.00 219.23 104.40 221.43 105.00 217.30C105.60 213.17 104.20 215.40 106.30 213.50Z" fill="none" stroke="#747474" stroke-width="7.80" stroke-linejoin="round"/>
<path d="M106.30 213.50C108.40 211.60 108.20 211.37 111.30 211.60C114.40 211.83 113.73 211.73 115.60 214.20C117.47 216.67 116.30 216.07 116.90 219.00C117.50 221.93 116.37 221.00 117.40 223.00C118.43 225.00 117.93 223.67 120.00 225.00C122.07 226.33 122.53 224.67 123.60 227.00C124.67 229.33 124.13 227.63 123.20 232.00C122.27 236.37 123.27 234.60 120.80 240.10C118.33 245.60 119.43 244.13 115.80 248.50C112.17 252.87 113.60 251.60 109.90 253.20C106.20 254.80 107.30 254.93 104.70 253.30C102.10 251.67 102.50 253.63 102.10 248.30C101.70 242.97 102.70 244.77 103.50 237.30C104.30 229.83 104.00 232.57 104.50 225.90C105.00 219.23 104.40 221.43 105.00 217.30C105.60 213.17 104.20 215.40 106.30 213.50Z" fill="none" stroke="#c6c6c6" stroke-width="7.00" stroke-linejoin="round"/>
<path d="M106.30 213.50C108.40 211.60 108.20 211.37 111.30 211.60C114.40 211.83 113.73 211.73 115.60 214.20C117.47 216.67 116.30 216.07 116.90 219.00C117.50 221.93 116.37 221.00 117.40 223.00C118.43 225.00 117.93 223.67 120.00 225.00C122.07 226.33 122.53 224.67 123.60 227.00C124.67 229.33 124.13 227.63 123.20 232.00C122.27 236.37 123.27 234.60 120.80 240.10C118.33 245.60 119.43 244.13 115.80 248.50C112.17 252.87 113.60 251.60 109.90 253.20C106.20 254.80 107.30 254.93 104.70 253.30C102.10 251.67 102.50 253.63 102.10 248.30C101.70 242.97 102.70 244.77 103.50 237.30C104.30 229.83 104.00 232.57 104.50 225.90C105.00 219.23 104.40 221.43 105.00 217.30C105.60 213.17 104.20 215.40 106.30 213.50Z" fill="none" stroke="#343434" stroke-width="5.00" stroke-linejoin="round"/>
<path d="M106.30 213.50C108.40 211.60 108.20 211.37 111.30 211.60C114.40 211.83 113.73 211.73 115.60 214.20C117.47 216.67 116.30 216.07 116.90 219.00C117.50 221.93 116.37 221.00 117.40 223.00C118.43 225.00 117.93 223.67 120.00 225.00C122.07 226.33 122.53 224.67 123.60 227.00C124.67 229.33 124.13 227.63 123.20 232.00C122.27 236.37 123.27 234.60 120.80 240.10C118.33 245.60 119.43 244.13 115.80 248.50C112.17 252.87 113.60 251.60 109.90 253.20C106.20 254.80 107.30 254.93 104.70 253.30C102.10 251.67 102.50 253.63 102.10 248.30C101.70 242.97 102.70 244.77 103.50 237.30C104.30 229.83 104.00 232.57 104.50 225.90C105.00 219.23 104.40 221.43 105.00 217.30C105.60 213.17 104.20 215.40 106.30 213.50Z" fill="none" stroke="#868686" stroke-width="4.00" stroke-linejoin="round"/>
<path d="M106.30 213.50C108.40 211.60 108.20 211.37 111.30 211.60C114.40 211.83 113.73 211.73 115.60 214.20C117.47 216.67 116.30 216.07 116.90 219.00C117.50 221.93 116.37 221.00 117.40 223.00C118.43 225.00 117.93 223.67 120.00 225.00C122.07 226.33 122.53 224.67 123.60 227.00C124.67 229.33 124.13 227.63 123.20 232.00C122.27 236.37 123.27 234.60 120.80 240.10C118.33 245.60 119.43 244.13 115.80 248.50C112.17 252.87 113.60 251.60 109.90 253.20C106.20 254.80 107.30 254.93 104.70 253.30C102.10 251.67 102.50 253.63 102.10 248.30C101.70 242.97 102.70 244.77 103.50 237.30C104.30 229.83 104.00 232.57 104.50 225.90C105.00 219.23 104.40 221.43 105.00 217.30C105.60 213.17 104.20 215.40 106.30 213.50Z" fill="none" stroke="#1c1c1c" stroke-width="2.40" stroke-linejoin="round"/>
</g>
<path d="M105.2 250.6L110.5 238.5L113.4 228" stroke="#3a3a3a" stroke-width="1.1" fill="none" stroke-linecap="round"/>
<path d="M105 251L108 244" stroke="#2a2a2a" stroke-width="2" fill="none" stroke-linecap="round"/>
</g>
<rect x="125.2" y="205.9" width="28.30" height="20.30" fill="none" stroke="#222" stroke-width="0.9"/>
<text transform="translate(139.8 201.9) scale(1.04 1)" font-size="10.1" text-anchor="middle" fill="#151515" stroke="#151515" stroke-width="0.15">0.20%</text>
<g clip-path="url(#c2)">
<path d="M203.2 249.5h.7M196.9 247.5h.7M206.4 213.7h.7M201.1 238.5h.7M190.8 253.3h.7M192.9 249.0h.7M207.1 241.2h.7M203.3 237.4h.7M204.2 235.1h.7M193.6 249.9h.7M203.9 233.2h.7M197.0 218.3h.7M199.1 240.2h.7M203.4 233.4h.7M196.9 244.4h.7M201.6 215.0h.7M193.5 253.2h.7M200.1 238.8h.7M197.0 222.5h.7M196.9 245.7h.7M198.2 221.8h.7M200.2 213.2h.7M197.3 213.7h.7M207.3 230.0h.7M205.4 227.5h.7M197.3 216.6h.7M199.4 223.0h.7M193.5 249.2h.7M199.2 218.4h.7M195.1 245.9h.7M190.0 252.8h.7M191.9 253.3h.7M201.9 237.6h.7M199.7 239.9h.7M192.4 254.3h.7M202.3 221.6h.7M203.8 233.9h.7M201.8 223.4h.7M197.2 250.3h.7M204.0 238.4h.7M205.0 228.0h.7M198.3 210.7h.7M198.3 250.4h.7M197.3 222.6h.7M202.4 217.9h.7M191.0 253.2h.7M197.9 209.6h.7M197.1 215.8h.7M205.7 232.8h.7M199.9 213.7h.7M198.6 251.4h.7M202.5 235.7h.7M201.9 243.2h.7M202.2 225.7h.7M199.8 213.5h.7M200.9 214.9h.7M197.9 243.2h.7M193.2 249.4h.7M206.8 234.3h.7M204.3 228.9h.7M205.2 228.0h.7M200.4 214.3h.7M190.3 254.7h.7M204.9 234.9h.7M198.7 243.7h.7M199.4 217.6h.7M198.2 245.4h.7M195.5 245.3h.7M205.4 238.4h.7M202.0 241.3h.7M198.2 247.7h.7M205.5 236.9h.7M210.0 233.7h.7M194.5 253.6h.7M201.3 238.4h.7M207.1 227.7h.7M208.1 232.2h.7M205.2 227.5h.7M196.7 223.8h.7M198.0 220.7h.7M206.0 225.0h.7M196.3 217.5h.7M197.3 223.8h.7M207.0 236.9h.7M200.5 242.4h.7M195.6 245.0h.7M200.8 237.9h.7M198.9 217.2h.7M202.3 232.9h.7M202.8 224.6h.7M190.6 253.0h.7M194.0 247.0h.7M189.2 255.6h.7M190.1 253.0h.7M204.5 236.8h.7M204.4 214.0h.7M195.4 250.7h.7M205.8 228.9h.7M204.1 230.8h.7M191.9 250.3h.7M205.0 241.4h.7M197.1 215.8h.7M196.8 243.9h.7M200.1 215.4h.7M198.4 245.7h.7M199.2 241.0h.7M197.1 244.1h.7M200.8 239.4h.7M204.2 224.2h.7M197.7 220.8h.7M197.2 216.9h.7M208.7 228.7h.7M204.5 216.6h.7M205.3 239.4h.7M201.0 240.9h.7M208.0 231.2h.7M189.1 254.1h.7M206.1 225.6h.7M198.1 213.3h.7M204.5 231.7h.7M193.9 251.8h.7M198.3 217.8h.7M205.2 225.3h.7M194.9 245.9h.7M190.3 255.3h.7M196.9 220.4h.7M201.5 237.2h.7M198.6 241.0h.7M203.8 238.2h.7M197.1 212.8h.7M204.7 236.2h.7M197.2 222.8h.7M197.5 215.1h.7M193.6 248.1h.7M198.3 219.2h.7M205.2 215.4h.7M203.5 236.2h.7M201.3 245.9h.7M204.1 230.9h.7M200.1 216.9h.7M203.9 239.8h.7M197.1 245.3h.7M196.8 220.9h.7M198.3 216.7h.7M195.4 252.8h.7M203.9 231.0h.7M199.7 221.0h.7M199.1 219.5h.7M203.8 217.5h.7M194.8 247.8h.7M198.6 247.4h.7M205.5 223.4h.7M203.5 240.2h.7M206.1 225.1h.7M197.3 243.6h.7M197.4 219.7h.7M201.5 240.9h.7M198.5 243.6h.7M205.3 230.2h.7M193.1 248.5h.7M205.3 228.6h.7M202.6 231.5h.7M203.3 228.9h.7M199.0 216.6h.7M201.7 240.8h.7M192.9 250.1h.7M191.7 254.1h.7M196.8 223.2h.7M189.0 256.9h.7M204.9 235.4h.7M199.4 223.0h.7M199.2 213.1h.7M198.2 244.6h.7M195.2 249.5h.7M193.9 248.7h.7M198.4 245.3h.7M188.8 254.1h.7M201.6 208.5h.7M202.2 224.9h.7M201.2 213.0h.7M205.4 234.5h.7M200.0 221.1h.7M196.8 218.3h.7M198.0 244.9h.7M201.0 243.9h.7M199.9 214.3h.7M197.9 243.1h.7M200.9 224.0h.7M206.1 226.0h.7M201.0 219.5h.7M206.5 229.7h.7M200.2 216.3h.7M196.4 243.8h.7M200.2 241.0h.7M204.9 229.8h.7M187.0 256.7h.7M200.1 216.1h.7M202.5 226.5h.7M194.3 248.2h.7M196.8 218.9h.7M199.5 214.5h.7M205.8 229.3h.7M197.1 219.4h.7M205.1 232.7h.7M193.7 252.6h.7M199.0 222.6h.7M202.9 226.1h.7M202.7 239.0h.7M204.5 228.8h.7M189.9 255.8h.7M204.1 229.2h.7M200.1 241.1h.7M203.8 227.8h.7M202.1 229.8h.7M203.9 231.4h.7M190.9 253.5h.7M202.1 243.1h.7M202.8 232.0h.7M200.9 242.4h.7M197.2 244.4h.7M196.6 222.6h.7M189.8 256.9h.7M197.9 244.4h.7M193.4 248.8h.7M200.4 241.1h.7M212.9 231.0h.7M196.5 216.2h.7M190.2 253.9h.7M196.9 224.0h.7M194.1 252.3h.7M202.3 228.2h.7M203.9 230.7h.7M196.1 248.1h.7M205.8 229.0h.7M201.3 216.9h.7M193.3 251.2h.7M200.6 238.9h.7M204.9 232.7h.7M188.0 255.7h.7M193.4 250.1h.7M193.2 248.5h.7M197.8 213.3h.7M193.3 248.2h.7M199.7 243.2h.7M196.8 218.9h.7M207.7 229.5h.7M200.1 217.3h.7M200.7 242.1h.7M197.2 245.3h.7M197.2 214.0h.7M201.5 238.9h.7M204.0 229.0h.7M202.0 210.9h.7M201.3 219.9h.7M207.3 235.7h.7M197.0 244.8h.7M200.2 241.5h.7M189.4 255.5h.7M198.2 210.2h.7M205.0 222.8h.7M206.7 234.7h.7M196.8 216.5h.7M196.3 247.0h.7M203.1 229.3h.7M191.0 251.9h.7M203.3 238.7h.7M199.7 223.1h.7M203.7 225.6h.7M189.5 255.6h.7M206.5 226.2h.7M200.7 222.4h.7M203.9 233.7h.7M189.9 254.1h.7M199.9 220.0h.7M192.3 252.2h.7M189.6 253.4h.7M206.3 228.2h.7M192.5 256.7h.7M211.1 230.9h.7M203.3 237.6h.7M198.4 221.1h.7M205.2 233.4h.7M200.8 245.2h.7M193.1 256.1h.7M197.1 213.2h.7M195.7 244.7h.7M198.1 214.5h.7M198.9 243.3h.7M202.4 226.7h.7M195.4 250.5h.7M197.7 217.4h.7M200.3 242.7h.7M210.0 230.5h.7M198.1 217.8h.7M197.6 243.8h.7M204.6 229.9h.7M197.5 217.2h.7M205.1 228.6h.7M196.9 218.6h.7M200.7 238.7h.7M202.2 225.8h.7M209.6 225.5h.7M198.1 219.3h.7M207.8 230.3h.7M200.8 240.2h.7M202.8 233.6h.7M195.4 251.2h.7M195.6 245.3h.7M195.6 250.8h.7M201.6 221.7h.7M203.3 237.4h.7M201.8 217.0h.7M203.8 232.8h.7M193.3 249.2h.7M204.4 225.1h.7M196.9 244.8h.7M199.1 241.7h.7M199.4 219.3h.7M196.6 222.7h.7M200.0 215.8h.7M196.3 219.3h.7M197.3 218.3h.7M192.3 250.7h.7M204.8 235.2h.7M198.4 246.6h.7M198.1 223.8h.7M203.5 233.6h.7M204.1 232.1h.7M202.5 229.7h.7M201.2 222.1h.7M203.0 229.1h.7M199.5 218.4h.7M202.4 227.6h.7M203.0 231.7h.7M197.5 223.9h.7M198.3 245.5h.7M202.9 227.6h.7M201.5 218.8h.7M200.1 241.9h.7M202.8 221.5h.7M200.0 217.4h.7M200.6 219.1h.7M205.2 234.0h.7M200.2 219.1h.7M202.8 230.1h.7M197.6 210.7h.7M197.8 216.4h.7M203.1 234.7h.7M201.7 237.2h.7M197.1 223.7h.7M196.5 210.1h.7M204.5 228.2h.7M201.6 239.6h.7M194.6 249.4h.7M203.5 230.9h.7M198.3 243.1h.7M207.0 234.9h.7M204.1 224.3h.7M197.7 216.3h.7M198.0 221.6h.7M199.5 210.9h.7M199.9 216.8h.7M195.6 245.2h.7M205.8 233.2h.7M199.0 243.7h.7M195.7 247.2h.7M199.7 220.4h.7M203.3 224.4h.7M199.1 246.6h.7M198.0 241.9h.7M202.1 239.8h.7M206.0 228.4h.7M201.1 240.1h.7M188.7 255.0h.7M198.3 241.4h.7M201.0 249.6h.7M203.8 243.1h.7M196.5 222.3h.7M197.2 223.8h.7M199.4 213.7h.7" stroke="#111" stroke-width="0.7"/>
<path d="M209.1 236.4h.7M201.9 220.9h.7M199.0 222.9h.7M208.1 213.4h.7M222.4 228.6h.7M214.1 225.1h.7M209.1 235.7h.7M199.8 247.7h.7M213.3 232.7h.7M203.4 241.5h.7M200.3 217.0h.7M209.2 234.4h.7M193.5 256.8h.7M208.5 228.5h.7M197.0 220.1h.7M205.1 216.8h.7M196.2 246.6h.7M202.3 246.6h.7M217.0 239.6h.7M213.5 225.5h.7M214.0 236.8h.7M217.2 232.0h.7M211.6 231.0h.7M191.9 252.6h.7M199.5 243.9h.7M201.0 221.6h.7M205.5 232.7h.7M214.3 231.3h.7M202.6 211.4h.7M204.4 208.3h.7M208.5 241.2h.7M206.0 226.3h.7M200.3 220.2h.7M199.1 214.5h.7M225.6 238.2h.7M210.5 230.5h.7M209.3 246.8h.7M208.3 226.2h.7M200.6 216.6h.7M200.8 249.3h.7M200.8 223.7h.7M210.2 234.4h.7M202.2 222.1h.7M207.3 241.1h.7M197.0 222.3h.7M204.7 242.7h.7M213.2 224.6h.7M210.5 227.7h.7M203.5 253.6h.7M211.4 234.6h.7M207.5 247.4h.7M197.5 217.4h.7M203.9 231.2h.7M207.5 232.1h.7M198.1 210.0h.7M207.8 231.1h.7M198.8 245.1h.7M199.8 212.1h.7M203.6 217.4h.7M203.0 250.4h.7M214.0 246.9h.7M198.7 242.3h.7M195.2 253.7h.7M204.9 221.1h.7M198.5 215.1h.7M202.0 254.4h.7M204.5 223.6h.7M205.1 228.7h.7M205.9 226.2h.7M206.4 221.6h.7M206.7 232.5h.7M188.8 256.0h.7M203.1 231.6h.7M206.1 240.3h.7M191.9 253.2h.7M203.8 219.8h.7M196.9 209.1h.7M209.5 223.0h.7M198.7 252.2h.7M212.0 229.9h.7M200.1 245.0h.7M199.6 249.7h.7M202.2 222.9h.7M197.2 244.8h.7M210.1 233.9h.7M203.8 238.5h.7M200.8 220.2h.7M205.5 224.9h.7M210.9 235.3h.7M199.4 216.1h.7M217.3 236.9h.7M203.7 247.6h.7M203.1 222.0h.7M203.5 209.2h.7M206.6 231.8h.7M202.2 218.7h.7M203.7 239.2h.7M211.4 235.1h.7M206.8 225.8h.7M194.0 249.8h.7M197.1 251.3h.7M201.8 254.2h.7M212.2 214.2h.7M226.3 235.5h.7M209.2 246.6h.7M195.7 245.6h.7M199.7 216.3h.7M188.9 254.3h.7M200.6 214.7h.7M212.9 225.3h.7M203.4 242.2h.7M207.0 241.9h.7M205.5 237.3h.7M203.4 219.0h.7M208.9 228.7h.7M197.0 220.9h.7M204.2 216.2h.7M206.6 234.0h.7M209.6 219.2h.7M200.6 216.1h.7M200.6 218.9h.7M207.9 239.9h.7M214.5 234.3h.7M205.3 233.0h.7M201.4 219.5h.7M203.6 242.5h.7M202.2 215.8h.7M206.5 224.4h.7M193.2 255.4h.7M206.2 223.3h.7M204.1 251.9h.7M212.0 233.0h.7M206.3 232.5h.7M199.4 246.7h.7M197.5 249.3h.7M228.3 233.0h.7M208.7 218.6h.7M202.5 223.7h.7M215.0 233.1h.7M207.0 225.8h.7M197.7 223.2h.7M201.8 216.8h.7M206.0 233.4h.7M190.0 255.6h.7M220.5 232.9h.7M209.9 227.8h.7M204.6 221.5h.7M201.9 217.1h.7M201.2 222.8h.7M203.1 231.3h.7M199.2 223.7h.7M214.3 217.9h.7M201.1 253.8h.7M197.8 250.0h.7M190.2 252.5h.7M204.4 219.8h.7M203.4 229.2h.7M196.9 247.7h.7M190.2 256.3h.7M201.1 250.2h.7M213.3 233.3h.7M205.0 246.4h.7M195.2 245.9h.7M197.3 221.7h.7M215.4 238.9h.7M195.2 250.6h.7M200.4 214.4h.7M205.6 251.0h.7M206.7 230.9h.7M199.6 218.2h.7M199.2 214.0h.7M215.6 228.3h.7M199.6 252.9h.7M211.6 240.0h.7M191.6 250.8h.7M210.3 245.4h.7M208.0 240.0h.7M209.0 236.6h.7M198.3 216.8h.7M210.6 227.5h.7M206.3 237.7h.7M210.3 224.6h.7M201.2 218.9h.7M205.2 218.8h.7M206.7 233.0h.7M202.8 235.0h.7M202.8 232.7h.7M204.6 238.1h.7M209.6 224.1h.7M208.7 224.8h.7M209.5 237.0h.7M207.6 228.8h.7M211.4 240.5h.7M191.9 254.9h.7M209.2 230.6h.7M208.2 229.9h.7M205.7 240.8h.7M212.3 233.2h.7M201.5 238.2h.7M200.9 246.3h.7M198.3 243.3h.7M196.0 255.2h.7M204.6 230.8h.7M203.9 220.0h.7M213.1 229.3h.7M201.2 238.7h.7M200.3 221.8h.7M196.9 253.6h.7M204.3 224.8h.7M197.3 247.4h.7M208.2 235.1h.7M207.0 232.8h.7M198.7 212.8h.7M200.2 246.6h.7M204.3 237.4h.7M200.9 245.4h.7M195.2 253.6h.7M200.1 222.9h.7M208.4 210.2h.7M200.2 254.9h.7M204.1 229.8h.7M208.9 238.0h.7M199.9 241.1h.7M206.1 214.1h.7M208.3 240.5h.7M203.2 229.1h.7M207.4 243.3h.7M201.2 219.4h.7M198.1 222.4h.7M206.2 237.7h.7M204.7 222.9h.7M211.5 234.2h.7M211.1 243.7h.7M212.5 228.4h.7M200.4 240.5h.7M199.9 222.0h.7M197.5 250.3h.7M203.5 235.9h.7M200.6 248.0h.7M199.2 223.9h.7M199.2 252.0h.7M194.8 253.8h.7M218.7 226.9h.7M197.7 220.8h.7M189.8 253.2h.7M204.7 219.3h.7M204.5 214.0h.7M202.6 248.4h.7M195.3 251.3h.7M212.1 228.3h.7M206.4 227.0h.7M192.1 255.9h.7M210.4 219.6h.7M200.2 253.6h.7M200.9 243.3h.7M207.7 216.4h.7M193.0 256.1h.7M214.1 236.8h.7M200.2 243.0h.7M200.3 246.4h.7M212.2 225.1h.7M207.2 214.1h.7M204.8 221.4h.7M206.4 230.9h.7M203.9 227.8h.7M207.8 235.2h.7M210.2 240.5h.7M210.3 216.0h.7M203.5 210.5h.7M203.6 231.0h.7M199.9 214.9h.7M206.2 224.7h.7M203.0 222.9h.7M203.4 220.0h.7M202.5 219.3h.7M205.1 228.9h.7M205.1 238.4h.7M200.8 216.5h.7M204.9 226.4h.7M206.9 243.8h.7M202.7 219.4h.7M200.8 217.1h.7M197.5 243.4h.7M201.1 210.0h.7M212.0 236.6h.7M201.9 217.0h.7M208.8 208.6h.7M209.5 211.9h.7M198.4 256.0h.7M195.6 255.0h.7M218.5 222.3h.7M208.2 231.8h.7M202.4 222.9h.7M203.5 230.8h.7M202.7 249.5h.7M212.2 230.5h.7M205.6 238.9h.7M203.4 247.3h.7M198.7 219.6h.7M197.1 246.5h.7M207.3 232.0h.7M220.2 229.3h.7M200.0 242.3h.7M197.9 220.4h.7M231.0 238.4h.7M214.7 230.4h.7M197.2 216.2h.7M205.3 230.8h.7M209.6 236.3h.7M205.0 218.7h.7M202.8 226.6h.7M206.2 241.8h.7M202.8 212.1h.7M203.6 223.1h.7M204.5 239.1h.7M190.9 254.5h.7M202.4 216.0h.7M190.2 252.7h.7M199.9 213.2h.7M202.7 225.0h.7M202.9 240.5h.7M197.0 251.6h.7M215.3 233.6h.7M201.3 239.6h.7M200.2 210.9h.7M204.9 221.7h.7M199.3 215.5h.7M194.8 248.5h.7M206.4 232.3h.7M200.7 243.8h.7M200.5 254.9h.7M215.8 232.9h.7M190.9 253.5h.7M197.6 245.3h.7M199.7 245.6h.7M197.3 216.0h.7M202.5 238.3h.7M197.1 223.3h.7M191.0 254.4h.7M195.0 247.1h.7M199.9 213.4h.7M204.6 235.0h.7M210.4 253.7h.7M202.3 219.4h.7M202.9 226.3h.7M203.4 239.6h.7M218.6 229.7h.7M201.9 213.9h.7M206.5 237.0h.7M209.5 235.3h.7M197.0 251.7h.7M203.2 236.3h.7M203.6 208.6h.7M201.6 218.9h.7M196.8 244.5h.7M209.9 249.6h.7M203.0 237.5h.7M201.7 243.6h.7M212.9 217.5h.7M210.4 231.7h.7M189.6 253.5h.7M204.8 215.9h.7M203.9 215.0h.7M201.6 216.8h.7M202.6 213.1h.7M211.1 210.9h.7M204.6 225.3h.7M199.6 242.9h.7M199.3 251.8h.7M199.1 242.2h.7M202.9 245.3h.7M203.1 251.4h.7M202.4 219.5h.7M192.9 252.5h.7M198.9 253.8h.7M199.8 245.9h.7M203.1 219.5h.7M194.3 250.6h.7M208.5 240.3h.7M198.9 242.1h.7M191.2 251.8h.7M207.2 228.4h.7M193.4 255.3h.7M201.5 214.6h.7M198.6 220.3h.7M205.3 225.3h.7M206.9 232.3h.7M209.1 225.8h.7M209.9 237.2h.7M198.7 220.4h.7M203.6 252.9h.7M198.4 243.2h.7M200.2 241.8h.7M206.5 229.1h.7M191.4 251.2h.7M190.9 256.1h.7M203.2 252.6h.7M205.9 228.0h.7M213.6 232.2h.7M202.6 214.3h.7M206.8 249.7h.7M200.8 210.8h.7M216.1 235.2h.7M223.8 231.6h.7M199.3 215.5h.7M198.2 244.7h.7M201.4 216.7h.7M195.4 246.4h.7M214.8 237.6h.7M208.1 242.6h.7M200.3 252.6h.7M207.4 236.6h.7M207.5 250.0h.7M206.4 244.4h.7M214.0 243.7h.7M206.4 241.0h.7M203.6 238.2h.7M207.1 236.4h.7M196.9 213.8h.7M190.6 256.3h.7M210.6 221.8h.7M205.9 223.9h.7M212.8 235.3h.7M191.3 256.5h.7M208.1 229.1h.7M215.0 239.1h.7M197.8 221.7h.7M203.3 231.0h.7M201.6 221.5h.7M214.0 232.4h.7M211.2 236.5h.7M211.6 238.9h.7M202.4 211.0h.7M203.9 212.4h.7M198.6 220.1h.7M194.0 254.3h.7M208.7 224.0h.7M200.6 216.9h.7M197.6 256.1h.7M193.5 252.2h.7M203.4 243.8h.7M204.5 232.8h.7M205.2 220.4h.7M208.5 234.0h.7M212.3 232.6h.7M221.3 230.4h.7M204.5 243.2h.7M203.5 242.3h.7M207.2 226.7h.7M194.4 254.7h.7M195.8 248.3h.7M218.0 236.2h.7M199.4 222.8h.7M199.0 219.1h.7M211.9 244.0h.7M208.2 224.1h.7M206.8 242.8h.7M197.8 215.5h.7M191.7 251.1h.7M197.6 249.5h.7M196.8 243.8h.7M204.0 238.3h.7M198.9 208.7h.7M200.1 214.7h.7M204.2 222.4h.7M202.3 224.0h.7M202.0 220.4h.7M195.9 250.4h.7M210.4 231.0h.7M206.6 253.3h.7M197.8 253.0h.7M196.0 254.4h.7M194.9 256.8h.7M201.3 216.2h.7M199.3 251.9h.7M200.1 208.1h.7M196.2 245.2h.7M217.4 227.1h.7M206.5 208.1h.7M203.7 234.0h.7M201.2 243.8h.7M205.8 236.2h.7M204.0 227.5h.7M198.0 220.0h.7M193.9 250.2h.7M213.1 231.2h.7M198.2 245.3h.7M200.8 220.2h.7M206.0 220.5h.7M194.4 254.4h.7M195.2 248.3h.7M206.5 229.6h.7M217.0 241.3h.7M196.9 253.6h.7M223.9 231.5h.7M213.6 241.4h.7M204.2 225.8h.7M209.3 230.2h.7M198.7 241.4h.7M216.2 237.7h.7M198.5 216.0h.7M205.0 233.2h.7M205.4 231.9h.7M210.7 246.9h.7M192.3 251.5h.7M204.5 245.9h.7M204.9 212.7h.7M214.7 248.2h.7M207.5 223.7h.7M203.8 209.3h.7M207.6 213.7h.7M204.2 234.0h.7M208.1 227.3h.7M203.8 225.7h.7M197.3 251.5h.7M189.9 256.9h.7M200.0 254.9h.7M200.1 219.7h.7M199.4 252.2h.7M198.8 215.6h.7M208.0 231.5h.7M205.1 225.1h.7M202.6 223.8h.7M197.7 220.6h.7M201.3 223.1h.7M210.0 244.3h.7M205.3 247.1h.7M205.6 233.7h.7M212.0 227.1h.7M189.0 256.7h.7M205.8 231.6h.7M200.8 244.9h.7M201.1 221.2h.7M204.3 242.8h.7M200.4 220.7h.7M196.6 246.6h.7M193.3 253.6h.7M203.9 241.8h.7M205.4 226.9h.7M211.2 238.0h.7M200.4 214.8h.7M214.8 227.9h.7M199.5 247.0h.7M200.0 244.4h.7M192.4 255.4h.7M204.9 217.1h.7M216.3 231.7h.7M200.1 244.4h.7M206.8 234.7h.7M205.2 243.8h.7M198.1 243.6h.7M198.4 222.8h.7M210.8 231.9h.7M212.2 232.7h.7M211.9 226.5h.7M200.8 220.3h.7M205.7 252.3h.7M204.5 241.9h.7M202.2 218.0h.7M203.2 221.5h.7M197.1 245.7h.7M194.7 248.1h.7M210.9 227.8h.7M195.0 251.6h.7M198.4 222.8h.7M215.3 227.6h.7M209.2 235.4h.7M190.0 256.4h.7M200.0 215.1h.7M208.7 235.9h.7M197.9 256.6h.7M213.7 209.8h.7M206.6 240.7h.7M201.5 257.0h.7M206.3 226.5h.7M203.9 224.4h.7M201.5 220.6h.7M213.5 218.9h.7M216.3 243.9h.7M204.9 237.0h.7M197.6 247.0h.7M220.4 227.7h.7M199.4 240.8h.7M213.6 234.5h.7M202.8 234.1h.7M205.9 238.6h.7M194.2 247.5h.7M192.6 255.0h.7M204.2 234.6h.7M203.9 209.2h.7M196.5 253.2h.7M207.5 233.6h.7M216.2 224.5h.7M198.9 252.9h.7M208.6 237.1h.7M197.6 216.2h.7M200.4 209.5h.7M220.0 237.5h.7M203.6 217.5h.7M195.8 254.6h.7M203.1 253.9h.7M202.7 235.2h.7M203.1 249.6h.7M202.4 222.8h.7M197.6 217.7h.7M198.3 249.5h.7M210.3 235.0h.7M214.6 237.6h.7M204.6 233.2h.7M209.5 236.5h.7M203.5 222.6h.7M203.4 214.5h.7M217.3 241.4h.7M198.8 249.5h.7M208.3 246.5h.7M207.4 224.2h.7M207.4 244.1h.7M205.8 237.1h.7M193.2 249.3h.7M209.0 223.6h.7M197.9 217.9h.7M209.5 223.2h.7M209.8 250.9h.7M199.0 217.4h.7M211.2 232.5h.7M203.4 249.3h.7M215.0 232.8h.7M202.3 223.6h.7M194.7 247.5h.7M197.0 215.1h.7M210.5 247.8h.7M207.5 241.6h.7M210.8 212.1h.7M191.6 250.9h.7M202.7 241.2h.7M206.3 228.0h.7M200.8 252.8h.7M190.0 256.6h.7M207.2 227.8h.7M208.1 237.7h.7M200.6 253.3h.7M202.8 234.3h.7M203.8 239.1h.7M201.5 215.9h.7M197.1 245.1h.7M195.3 248.4h.7M199.9 217.5h.7M198.3 251.7h.7M205.3 227.7h.7M194.2 254.7h.7M207.2 238.3h.7M195.1 247.8h.7M196.0 247.6h.7M204.2 241.2h.7M208.0 250.5h.7M203.2 210.3h.7M195.7 251.5h.7M192.5 251.5h.7M209.4 232.5h.7M204.2 214.0h.7M213.8 227.1h.7M197.1 249.6h.7M205.2 244.7h.7M202.9 238.1h.7M204.0 236.7h.7M208.7 225.8h.7M214.0 232.4h.7M212.4 228.1h.7M217.5 225.1h.7M190.0 254.2h.7M204.3 247.2h.7M202.0 237.2h.7M196.5 249.4h.7M193.8 250.4h.7M195.9 245.6h.7M204.2 227.8h.7M200.1 219.0h.7M205.7 241.8h.7M198.6 211.8h.7M201.0 241.0h.7M194.4 256.9h.7M194.6 254.3h.7M201.1 240.8h.7M205.2 245.0h.7M205.6 227.3h.7M216.7 236.4h.7M203.4 239.2h.7M199.9 219.1h.7M217.9 237.4h.7M198.4 248.4h.7M200.3 251.7h.7M199.7 245.4h.7M210.9 220.8h.7M201.7 208.2h.7M198.6 215.9h.7M208.4 233.1h.7M199.0 245.1h.7M209.2 215.5h.7M200.8 250.5h.7M226.1 235.5h.7M212.0 241.9h.7M198.8 213.6h.7M209.7 255.8h.7M214.8 236.0h.7M208.5 239.8h.7M197.4 252.5h.7M205.1 229.0h.7M208.4 233.7h.7M213.4 227.6h.7M212.4 228.2h.7M198.2 220.6h.7M201.4 253.2h.7M201.3 218.2h.7M202.8 236.2h.7M211.1 229.9h.7M204.4 215.4h.7M199.5 223.5h.7M193.8 251.2h.7M190.5 253.7h.7M197.9 222.0h.7M203.4 230.0h.7M199.4 215.3h.7M213.9 239.4h.7M205.8 239.4h.7M201.8 239.9h.7M195.1 250.3h.7M228.8 228.8h.7M206.9 234.4h.7M196.5 254.9h.7M200.6 222.7h.7M204.0 222.4h.7M204.4 237.3h.7M197.7 213.2h.7M207.3 233.7h.7M201.9 214.1h.7M208.1 250.7h.7M204.3 244.1h.7M206.6 231.7h.7M197.1 213.7h.7M218.9 237.4h.7M204.3 219.4h.7M204.2 238.4h.7M216.7 232.9h.7M207.5 226.1h.7M208.1 243.7h.7M205.3 228.2h.7M187.7 255.9h.7M206.0 216.0h.7M192.0 250.3h.7M209.8 239.0h.7M203.8 230.0h.7M203.6 208.4h.7M213.8 233.4h.7M203.1 210.2h.7M201.2 256.5h.7M204.9 228.5h.7M210.7 219.2h.7M200.7 238.6h.7M210.0 242.3h.7M194.5 249.9h.7M204.0 242.9h.7M216.6 235.5h.7M193.5 252.7h.7M188.4 256.7h.7M195.8 245.4h.7M197.7 255.8h.7M202.5 212.5h.7M199.8 252.5h.7M200.1 245.8h.7M206.5 220.0h.7M200.6 240.3h.7M208.7 237.3h.7M202.8 220.3h.7M191.1 251.5h.7M203.5 244.2h.7M209.3 215.5h.7M201.4 222.2h.7M200.9 248.6h.7M205.9 230.1h.7M205.1 211.8h.7M203.5 228.6h.7M202.3 242.1h.7M196.9 216.8h.7M202.7 253.6h.7M191.6 254.9h.7M194.2 252.5h.7M217.7 218.7h.7M202.4 214.0h.7M203.5 242.8h.7M207.8 233.4h.7M211.8 238.8h.7M204.2 213.5h.7M219.4 218.8h.7M215.4 220.7h.7M203.6 228.2h.7M204.6 224.6h.7M220.7 231.8h.7M197.5 244.2h.7M209.6 229.3h.7M198.6 208.6h.7M204.8 217.0h.7M196.8 221.2h.7M204.5 246.1h.7M213.0 243.8h.7M201.3 219.7h.7M195.2 256.3h.7M205.1 244.2h.7M201.9 242.5h.7M205.2 240.7h.7M201.1 241.5h.7M193.5 248.7h.7M198.5 243.0h.7M209.1 247.1h.7M201.7 224.0h.7M205.2 210.8h.7M200.2 217.8h.7M192.8 254.1h.7M205.2 235.6h.7M197.3 257.0h.7M201.9 242.5h.7M203.4 231.0h.7M197.9 213.7h.7M211.9 233.1h.7M202.9 250.8h.7M206.4 231.8h.7M210.3 228.7h.7M205.1 223.2h.7M192.4 250.4h.7M198.1 217.8h.7M215.7 221.1h.7M202.6 253.9h.7M206.2 241.0h.7M198.2 216.9h.7M199.5 215.7h.7M188.0 256.5h.7M200.2 215.0h.7M204.0 241.2h.7M197.2 247.9h.7M200.6 247.5h.7M194.7 255.9h.7M191.3 254.5h.7M201.0 212.5h.7M201.4 215.5h.7M192.6 251.5h.7M220.9 234.2h.7M197.4 255.2h.7M201.2 220.5h.7M203.6 252.3h.7M197.3 252.5h.7M199.5 245.6h.7M209.8 238.8h.7M200.3 246.6h.7M212.5 226.5h.7M197.5 213.7h.7M210.1 245.7h.7M210.0 235.5h.7M200.5 245.9h.7M202.0 223.3h.7M204.6 233.8h.7M197.6 210.4h.7M187.0 256.8h.7M202.1 244.5h.7M197.2 243.6h.7M197.4 215.5h.7M199.5 218.9h.7M205.3 256.7h.7M197.9 251.5h.7M201.7 220.9h.7M212.4 245.4h.7M207.3 232.3h.7M204.5 208.8h.7M219.1 240.2h.7M197.6 243.5h.7M196.9 215.6h.7M203.3 238.8h.7M208.6 236.3h.7M205.5 223.6h.7M214.8 247.3h.7M196.8 255.1h.7M212.6 217.7h.7M205.8 225.1h.7M202.5 247.0h.7M207.1 229.2h.7M198.4 253.7h.7M209.0 247.7h.7M203.4 210.6h.7M223.1 227.9h.7M197.6 216.6h.7M202.6 238.9h.7M199.8 240.7h.7M198.2 214.3h.7M211.4 230.7h.7M204.9 208.6h.7M194.1 247.7h.7M203.1 244.2h.7M201.1 247.9h.7M199.6 221.2h.7M203.3 227.7h.7M198.6 243.7h.7M210.2 232.0h.7" stroke="#111" stroke-width="0.7"/>
<path d="M188.6 243.0h.7M192.3 239.3h.7M192.9 230.2h.7M193.8 259.0h.7M188.7 232.7h.7M187.8 242.5h.7M189.9 223.1h.7M188.0 240.4h.7M196.4 226.8h.7M195.2 252.6h.7M188.6 229.7h.7M184.1 232.8h.7M189.9 223.0h.7M182.3 245.3h.7M197.8 260.3h.7M185.9 255.3h.7M198.4 218.8h.7M194.8 225.3h.7M197.5 231.3h.7M199.7 235.9h.7M188.8 239.0h.7M180.8 235.4h.7M191.8 240.5h.7M187.3 242.2h.7M194.1 227.8h.7M188.8 248.1h.7M188.4 235.4h.7M197.8 230.7h.7M185.1 230.1h.7M194.0 221.7h.7M190.3 246.0h.7M194.8 231.4h.7M185.1 233.7h.7M201.4 236.8h.7M193.4 231.7h.7M189.0 241.0h.7M182.1 227.4h.7M182.8 210.5h.7M190.1 226.7h.7M193.8 242.4h.7M186.0 236.2h.7M190.8 238.9h.7M184.1 225.4h.7M191.0 237.8h.7M193.1 227.7h.7M186.1 274.2h.7M190.6 253.0h.7M190.5 241.8h.7M184.9 243.5h.7M187.3 229.1h.7M187.3 245.3h.7M198.1 237.2h.7M184.7 221.1h.7M195.6 236.3h.7M190.9 236.5h.7M187.9 226.4h.7M193.7 232.1h.7M182.9 213.9h.7M186.5 236.9h.7M185.7 236.1h.7M197.7 227.5h.7M187.4 231.7h.7M183.0 235.7h.7M193.3 236.7h.7M188.5 235.9h.7M200.6 232.5h.7M184.4 240.9h.7M199.9 238.5h.7M194.5 238.1h.7M184.1 220.8h.7M187.1 243.9h.7M188.8 226.3h.7M186.5 224.1h.7M198.7 243.7h.7M192.1 219.7h.7M194.8 217.0h.7M175.8 211.1h.7M191.4 223.5h.7M190.2 237.7h.7M192.2 258.1h.7M182.0 227.8h.7M183.7 246.0h.7M187.3 245.7h.7M185.0 248.3h.7M200.0 238.2h.7M192.6 252.4h.7M195.4 258.7h.7M191.3 257.8h.7M197.3 238.8h.7M184.2 202.4h.7M190.6 228.3h.7M186.3 220.7h.7M185.0 224.9h.7M190.8 233.3h.7M188.8 234.0h.7M191.8 230.5h.7M194.3 231.9h.7M189.8 231.8h.7M185.4 248.3h.7M199.8 240.9h.7M189.5 219.4h.7M194.1 233.8h.7M200.2 236.5h.7M187.2 214.8h.7M190.7 221.3h.7M196.5 232.1h.7M194.8 228.2h.7M193.9 225.2h.7M190.3 215.3h.7M198.2 236.1h.7M187.7 234.3h.7M189.1 221.4h.7M175.5 239.5h.7M188.8 216.5h.7M194.2 236.7h.7M195.1 238.2h.7M196.0 218.0h.7M192.5 236.6h.7M191.8 219.7h.7M193.5 247.1h.7M193.3 248.8h.7M201.5 220.6h.7M191.5 249.9h.7M188.7 236.5h.7M182.4 246.8h.7M203.6 227.3h.7M192.0 232.3h.7M187.7 210.8h.7M185.2 227.7h.7M184.0 250.1h.7" stroke="#111" stroke-width="0.7"/>
<clipPath id="b3"><path d="M186.30 215.10C188.10 212.73 187.97 212.73 191.30 213.00C194.63 213.27 194.40 212.80 196.30 215.90C198.20 219.00 194.63 218.73 197.00 222.30C199.37 225.87 201.73 222.57 203.40 226.60C205.07 230.63 203.67 228.93 202.00 234.40C200.33 239.87 201.97 237.77 198.40 243.00C194.83 248.23 195.80 247.00 191.30 250.10C186.80 253.20 188.00 252.77 184.90 252.30C181.80 251.83 182.00 252.77 182.00 248.70C182.00 244.63 183.23 246.30 184.90 240.10C186.57 233.90 186.67 236.77 187.00 230.10C187.33 223.43 186.13 225.10 185.90 220.10C185.67 215.10 184.50 217.47 186.30 215.10Z"/></clipPath>
<path d="M200.8 224.6h.7M199.0 225.9h.7M196.4 218.2h.7M199.5 240.3h.7M186.7 250.6h.7M189.0 214.7h.7M185.9 217.5h.7M182.6 243.1h.7M198.8 244.8h.7M197.7 242.4h.7M184.6 242.2h.7M186.5 221.3h.7M184.9 236.4h.7M199.3 239.5h.7M185.7 219.6h.7M185.6 251.8h.7M198.7 245.2h.7M182.7 241.5h.7M190.8 214.6h.7M187.4 214.7h.7M202.0 224.7h.7M197.0 242.8h.7M185.9 214.7h.7M189.5 251.4h.7M185.8 220.8h.7M185.1 233.7h.7M182.2 247.8h.7M188.3 211.6h.7M202.7 227.1h.7M187.2 213.6h.7M187.2 218.0h.7M182.6 249.3h.7M198.5 241.2h.7M183.6 244.3h.7M190.9 215.0h.7M196.9 218.0h.7M188.2 252.1h.7M188.8 215.4h.7M195.6 215.8h.7M187.7 220.0h.7M185.8 234.2h.7M185.9 253.0h.7M186.9 222.1h.7M200.3 224.0h.7M204.1 227.0h.7M186.9 230.5h.7M192.5 247.8h.7M198.4 218.6h.7M188.1 252.0h.7M186.0 220.8h.7M188.5 225.6h.7M189.9 214.4h.7M181.8 246.8h.7M200.6 237.8h.7M191.6 249.0h.7M185.8 219.1h.7M198.0 218.0h.7M190.1 250.7h.7M183.7 235.9h.7M182.7 249.8h.7M196.0 215.1h.7M186.1 227.7h.7M187.0 224.3h.7M183.7 246.4h.7M200.0 240.3h.7M200.9 222.9h.7M187.0 216.3h.7M185.3 239.6h.7M202.3 230.8h.7M193.0 247.9h.7M183.4 253.6h.7M187.5 215.5h.7M191.1 213.1h.7M186.1 234.9h.7M185.4 223.9h.7M198.9 222.5h.7M183.9 244.1h.7M199.3 239.8h.7M188.5 213.8h.7M202.1 225.8h.7M185.7 221.4h.7M196.4 218.7h.7M204.9 226.6h.7M182.2 247.4h.7M204.0 228.8h.7M186.5 231.0h.7M198.2 222.8h.7M186.9 213.8h.7M198.4 223.6h.7M184.6 250.8h.7M202.1 231.3h.7M193.9 216.9h.7M184.0 249.3h.7M184.1 245.7h.7M185.5 232.7h.7M184.3 237.3h.7M195.7 217.7h.7M191.8 213.4h.7M182.0 250.5h.7M193.3 248.4h.7M197.2 222.2h.7M183.8 250.8h.7M199.6 238.7h.7M203.3 230.0h.7M196.0 218.7h.7M185.2 251.3h.7M186.2 229.9h.7M190.4 212.6h.7M194.9 219.0h.7M184.7 239.9h.7M183.3 245.9h.7M187.7 252.3h.7M186.5 235.9h.7M202.1 235.0h.7M187.8 227.5h.7M184.3 241.6h.7M192.1 248.3h.7M204.0 235.4h.7M197.4 219.8h.7M183.0 242.9h.7M198.9 240.8h.7M186.4 228.8h.7M184.4 241.3h.7M199.5 222.5h.7M198.8 240.2h.7M186.5 217.1h.7M199.9 242.3h.7M201.8 236.2h.7M185.7 250.7h.7M198.6 242.6h.7M184.7 243.2h.7M203.1 226.1h.7M187.1 255.9h.7M204.6 227.9h.7M186.6 226.9h.7M187.6 214.5h.7M197.8 219.6h.7M183.5 250.0h.7M196.8 213.6h.7M181.2 244.8h.7M187.3 224.4h.7M196.6 222.2h.7M188.1 254.0h.7M187.0 219.2h.7M199.6 242.8h.7M186.3 222.2h.7M186.8 229.6h.7M183.6 250.2h.7M188.2 251.8h.7M184.2 244.8h.7M185.1 240.4h.7M181.0 248.8h.7M199.3 220.4h.7M202.2 227.8h.7M181.5 247.7h.7M200.5 235.6h.7M186.4 215.9h.7M191.6 213.9h.7M200.6 239.6h.7M187.7 216.5h.7M187.2 233.6h.7M193.5 216.4h.7M184.7 216.2h.7M191.2 248.2h.7M200.0 238.4h.7M185.9 252.8h.7M194.6 247.2h.7M187.2 251.3h.7M183.4 249.0h.7M197.5 221.5h.7M195.4 219.0h.7M184.1 239.8h.7M187.7 230.2h.7M199.6 237.9h.7M204.4 227.9h.7M186.9 218.8h.7M194.1 245.9h.7M186.7 215.2h.7M188.0 229.9h.7M191.7 214.1h.7M194.5 249.2h.7M189.1 213.8h.7M185.9 224.1h.7M196.9 221.1h.7M189.8 211.8h.7M197.1 223.2h.7M194.7 246.7h.7M195.9 218.4h.7M203.6 226.9h.7M202.7 227.1h.7M201.6 225.6h.7M202.2 228.5h.7M194.9 216.2h.7M188.2 215.8h.7M195.7 244.7h.7M201.6 227.2h.7M189.2 214.8h.7M193.3 250.0h.7M188.3 233.8h.7M202.8 232.3h.7M201.9 229.3h.7M184.3 252.0h.7M186.5 217.8h.7M185.2 219.0h.7M187.6 230.2h.7M188.8 249.7h.7M200.2 234.6h.7M194.5 214.8h.7M187.0 217.4h.7M189.7 214.3h.7M201.8 237.7h.7M197.1 244.3h.7M186.3 215.8h.7M196.0 245.7h.7M186.7 215.2h.7M203.7 232.1h.7M194.4 246.4h.7M187.7 234.3h.7M203.9 225.7h.7M190.6 213.9h.7M204.0 227.7h.7M184.9 248.6h.7M203.1 230.9h.7M188.7 215.2h.7M197.2 217.3h.7M192.9 214.7h.7M184.7 252.7h.7M200.0 243.8h.7M186.5 227.5h.7M184.9 216.3h.7M197.0 215.2h.7M187.8 224.3h.7M187.6 232.5h.7M197.1 223.0h.7M184.3 242.4h.7M195.9 218.2h.7M187.1 250.4h.7M200.6 225.9h.7M188.2 214.3h.7M187.3 224.6h.7M182.2 247.6h.7M202.4 228.7h.7M189.9 212.7h.7M193.9 211.7h.7M185.3 241.8h.7M191.6 212.3h.7M203.6 229.3h.7M204.0 233.0h.7M186.5 222.5h.7M186.2 216.4h.7M182.8 251.2h.7M185.8 242.3h.7M198.1 222.5h.7M197.5 216.8h.7M191.8 250.4h.7M195.1 245.2h.7M189.9 214.2h.7M203.1 229.9h.7M197.5 222.3h.7M194.4 248.2h.7M185.1 222.0h.7M184.2 217.2h.7M197.6 218.0h.7M184.2 247.9h.7M195.2 245.9h.7M186.6 216.9h.7M184.5 232.7h.7M187.5 226.6h.7M195.5 216.1h.7M197.9 224.9h.7M183.6 238.7h.7M198.0 223.1h.7M203.2 229.0h.7M185.8 223.0h.7M197.5 246.5h.7M184.6 239.0h.7M202.7 229.0h.7M195.8 220.6h.7M201.8 225.3h.7M186.0 217.9h.7M190.8 212.7h.7M182.1 249.8h.7M187.4 218.9h.7M182.1 250.2h.7M187.2 219.7h.7M186.1 227.5h.7M201.4 240.7h.7M188.5 251.9h.7M198.8 242.2h.7M195.7 213.1h.7M186.3 231.4h.7M195.7 215.9h.7M186.4 236.1h.7M183.7 249.9h.7M199.1 223.5h.7M188.3 214.4h.7M201.3 237.7h.7M194.3 213.4h.7M202.4 233.4h.7M192.9 249.1h.7M187.6 213.1h.7M196.3 217.7h.7M194.5 214.9h.7M183.2 249.9h.7M196.7 222.2h.7M186.9 229.7h.7M185.6 223.4h.7M186.3 233.7h.7M196.8 245.7h.7M185.3 251.4h.7M193.0 215.2h.7M198.0 242.0h.7M182.0 246.4h.7M186.8 215.6h.7M187.6 253.2h.7M196.1 223.0h.7M187.1 214.5h.7M204.7 228.7h.7M182.6 250.4h.7M187.2 252.7h.7M193.0 214.7h.7M197.3 217.2h.7M201.5 235.2h.7M191.5 250.9h.7M188.7 211.6h.7M184.1 250.1h.7M201.0 232.0h.7M202.2 238.2h.7M183.2 243.2h.7M188.9 230.1h.7M195.7 245.1h.7M186.7 237.5h.7M204.2 231.9h.7M191.8 211.8h.7M200.0 224.9h.7M201.1 225.4h.7M194.4 215.5h.7M196.1 215.5h.7M184.8 218.4h.7M185.2 252.8h.7M203.2 227.9h.7M190.5 250.3h.7M183.5 250.3h.7M183.3 238.6h.7M190.1 249.9h.7M190.3 250.4h.7M186.5 221.0h.7M195.3 215.0h.7M184.7 241.0h.7M200.4 238.8h.7M198.0 219.3h.7M188.5 251.8h.7M199.5 243.3h.7M195.2 219.7h.7M185.7 226.8h.7M195.4 214.6h.7M183.9 247.0h.7M196.7 217.0h.7M185.1 233.4h.7M188.4 214.3h.7M199.2 241.5h.7M201.6 223.9h.7M185.3 252.3h.7M202.1 233.6h.7M187.4 217.0h.7M202.5 231.1h.7M184.4 219.0h.7M185.3 242.2h.7M184.0 245.4h.7M185.6 217.5h.7M196.3 218.8h.7M188.5 212.6h.7M204.1 228.8h.7M184.0 252.6h.7M192.6 211.4h.7M180.3 250.4h.7M202.2 233.6h.7M180.6 249.8h.7M182.6 251.1h.7M185.0 214.1h.7M183.9 249.7h.7M195.6 248.3h.7M184.7 219.5h.7M196.9 221.8h.7M184.1 236.5h.7M201.9 227.4h.7M197.9 222.2h.7M203.4 230.3h.7M199.9 236.0h.7M200.1 223.8h.7M202.8 227.1h.7M186.2 223.3h.7M181.7 250.6h.7M197.0 214.9h.7M187.3 226.3h.7M196.6 217.9h.7M191.1 214.1h.7M185.6 232.8h.7M196.3 223.2h.7M198.7 239.7h.7M188.9 214.6h.7M195.8 217.0h.7M197.6 218.6h.7M186.8 230.8h.7M186.2 228.5h.7M187.2 230.0h.7M185.3 237.0h.7M201.9 234.9h.7M185.0 217.8h.7M184.3 219.3h.7M201.4 237.8h.7M201.4 230.2h.7M196.7 221.8h.7M182.2 240.5h.7M186.2 248.8h.7M184.7 224.8h.7M191.6 213.3h.7M186.0 220.4h.7M183.4 246.3h.7M185.8 219.6h.7M201.7 238.2h.7M202.3 237.0h.7M198.9 240.9h.7M186.3 223.8h.7M183.5 252.1h.7M187.1 229.6h.7M184.9 220.3h.7M194.3 249.0h.7M192.0 214.0h.7M184.6 239.5h.7M201.2 225.0h.7M203.5 229.5h.7M199.6 225.9h.7M203.3 228.9h.7M201.0 225.1h.7M199.2 225.6h.7M198.1 238.6h.7M185.9 214.5h.7M185.7 236.7h.7M203.0 227.4h.7M200.4 224.4h.7M184.1 248.2h.7M186.2 219.0h.7M202.2 226.8h.7M188.5 214.4h.7M188.2 214.5h.7M198.9 221.6h.7M187.2 229.0h.7M199.4 242.7h.7M196.4 224.5h.7M185.4 226.6h.7M197.5 242.0h.7M183.5 246.0h.7M200.9 241.5h.7M188.0 252.9h.7M184.9 224.6h.7M201.2 235.9h.7M183.1 250.2h.7M195.5 215.8h.7M187.9 213.8h.7M191.1 213.7h.7M184.7 240.5h.7M184.9 237.4h.7M187.4 224.8h.7M186.6 221.0h.7M201.8 235.9h.7M194.4 214.1h.7M196.1 215.2h.7M201.0 235.7h.7M185.5 226.3h.7M197.3 222.2h.7M203.2 228.7h.7M185.4 221.0h.7M195.6 217.8h.7M185.0 224.9h.7M197.4 221.6h.7M186.6 213.9h.7M202.2 231.9h.7M200.0 242.7h.7M193.1 212.0h.7" stroke="#111" stroke-width="0.7"/>
<g clip-path="url(#b3)">
<path d="M186.30 215.10C188.10 212.73 187.97 212.73 191.30 213.00C194.63 213.27 194.40 212.80 196.30 215.90C198.20 219.00 194.63 218.73 197.00 222.30C199.37 225.87 201.73 222.57 203.40 226.60C205.07 230.63 203.67 228.93 202.00 234.40C200.33 239.87 201.97 237.77 198.40 243.00C194.83 248.23 195.80 247.00 191.30 250.10C186.80 253.20 188.00 252.77 184.90 252.30C181.80 251.83 182.00 252.77 182.00 248.70C182.00 244.63 183.23 246.30 184.90 240.10C186.57 233.90 186.67 236.77 187.00 230.10C187.33 223.43 186.13 225.10 185.90 220.10C185.67 215.10 184.50 217.47 186.30 215.10Z" fill="#fff"/>
<path d="M186.30 215.10C188.10 212.73 187.97 212.73 191.30 213.00C194.63 213.27 194.40 212.80 196.30 215.90C198.20 219.00 194.63 218.73 197.00 222.30C199.37 225.87 201.73 222.57 203.40 226.60C205.07 230.63 203.67 228.93 202.00 234.40C200.33 239.87 201.97 237.77 198.40 243.00C194.83 248.23 195.80 247.00 191.30 250.10C186.80 253.20 188.00 252.77 184.90 252.30C181.80 251.83 182.00 252.77 182.00 248.70C182.00 244.63 183.23 246.30 184.90 240.10C186.57 233.90 186.67 236.77 187.00 230.10C187.33 223.43 186.13 225.10 185.90 220.10C185.67 215.10 184.50 217.47 186.30 215.10Z" fill="none" stroke="#808080" stroke-width="9.20" stroke-linejoin="round"/>
<path d="M186.30 215.10C188.10 212.73 187.97 212.73 191.30 213.00C194.63 213.27 194.40 212.80 196.30 215.90C198.20 219.00 194.63 218.73 197.00 222.30C199.37 225.87 201.73 222.57 203.40 226.60C205.07 230.63 203.67 228.93 202.00 234.40C200.33 239.87 201.97 237.77 198.40 243.00C194.83 248.23 195.80 247.00 191.30 250.10C186.80 253.20 188.00 252.77 184.90 252.30C181.80 251.83 182.00 252.77 182.00 248.70C182.00 244.63 183.23 246.30 184.90 240.10C186.57 233.90 186.67 236.77 187.00 230.10C187.33 223.43 186.13 225.10 185.90 220.10C185.67 215.10 184.50 217.47 186.30 215.10Z" fill="none" stroke="#fafafa" stroke-width="8.40" stroke-linejoin="round"/>
<path d="M186.30 215.10C188.10 212.73 187.97 212.73 191.30 213.00C194.63 213.27 194.40 212.80 196.30 215.90C198.20 219.00 194.63 218.73 197.00 222.30C199.37 225.87 201.73 222.57 203.40 226.60C205.07 230.63 203.67 228.93 202.00 234.40C200.33 239.87 201.97 237.77 198.40 243.00C194.83 248.23 195.80 247.00 191.30 250.10C186.80 253.20 188.00 252.77 184.90 252.30C181.80 251.83 182.00 252.77 182.00 248.70C182.00 244.63 183.23 246.30 184.90 240.10C186.57 233.90 186.67 236.77 187.00 230.10C187.33 223.43 186.13 225.10 185.90 220.10C185.67 215.10 184.50 217.47 186.30 215.10Z" fill="none" stroke="#6a6a6a" stroke-width="6.80" stroke-linejoin="round"/>
<path d="M186.30 215.10C188.10 212.73 187.97 212.73 191.30 213.00C194.63 213.27 194.40 212.80 196.30 215.90C198.20 219.00 194.63 218.73 197.00 222.30C199.37 225.87 201.73 222.57 203.40 226.60C205.07 230.63 203.67 228.93 202.00 234.40C200.33 239.87 201.97 237.77 198.40 243.00C194.83 248.23 195.80 247.00 191.30 250.10C186.80 253.20 188.00 252.77 184.90 252.30C181.80 251.83 182.00 252.77 182.00 248.70C182.00 244.63 183.23 246.30 184.90 240.10C186.57 233.90 186.67 236.77 187.00 230.10C187.33 223.43 186.13 225.10 185.90 220.10C185.67 215.10 184.50 217.47 186.30 215.10Z" fill="none" stroke="#f0f0f0" stroke-width="6.00" stroke-linejoin="round"/>
<path d="M186.30 215.10C188.10 212.73 187.97 212.73 191.30 213.00C194.63 213.27 194.40 212.80 196.30 215.90C198.20 219.00 194.63 218.73 197.00 222.30C199.37 225.87 201.73 222.57 203.40 226.60C205.07 230.63 203.67 228.93 202.00 234.40C200.33 239.87 201.97 237.77 198.40 243.00C194.83 248.23 195.80 247.00 191.30 250.10C186.80 253.20 188.00 252.77 184.90 252.30C181.80 251.83 182.00 252.77 182.00 248.70C182.00 244.63 183.23 246.30 184.90 240.10C186.57 233.90 186.67 236.77 187.00 230.10C187.33 223.43 186.13 225.10 185.90 220.10C185.67 215.10 184.50 217.47 186.30 215.10Z" fill="none" stroke="#4a4a4a" stroke-width="4.40" stroke-linejoin="round"/>
<path d="M186.30 215.10C188.10 212.73 187.97 212.73 191.30 213.00C194.63 213.27 194.40 212.80 196.30 215.90C198.20 219.00 194.63 218.73 197.00 222.30C199.37 225.87 201.73 222.57 203.40 226.60C205.07 230.63 203.67 228.93 202.00 234.40C200.33 239.87 201.97 237.77 198.40 243.00C194.83 248.23 195.80 247.00 191.30 250.10C186.80 253.20 188.00 252.77 184.90 252.30C181.80 251.83 182.00 252.77 182.00 248.70C182.00 244.63 183.23 246.30 184.90 240.10C186.57 233.90 186.67 236.77 187.00 230.10C187.33 223.43 186.13 225.10 185.90 220.10C185.67 215.10 184.50 217.47 186.30 215.10Z" fill="none" stroke="#e4e4e4" stroke-width="3.40" stroke-linejoin="round"/>
<path d="M186.30 215.10C188.10 212.73 187.97 212.73 191.30 213.00C194.63 213.27 194.40 212.80 196.30 215.90C198.20 219.00 194.63 218.73 197.00 222.30C199.37 225.87 201.73 222.57 203.40 226.60C205.07 230.63 203.67 228.93 202.00 234.40C200.33 239.87 201.97 237.77 198.40 243.00C194.83 248.23 195.80 247.00 191.30 250.10C186.80 253.20 188.00 252.77 184.90 252.30C181.80 251.83 182.00 252.77 182.00 248.70C182.00 244.63 183.23 246.30 184.90 240.10C186.57 233.90 186.67 236.77 187.00 230.10C187.33 223.43 186.13 225.10 185.90 220.10C185.67 215.10 184.50 217.47 186.30 215.10Z" fill="none" stroke="#2a2a2a" stroke-width="2.00" stroke-linejoin="round"/>
</g>
<ellipse cx="190.6" cy="221.6" rx="2.4" ry="2.7" fill="#fff" stroke="#555" stroke-width="0.6"/>
<path d="M184.5 250L190 241L197 231" stroke="#4a4a4a" stroke-width="0.8" fill="none"/>
<path d="M184 250.6L187 245.6" stroke="#2a2a2a" stroke-width="1.8" fill="none" stroke-linecap="round"/>
</g>
<rect x="205.9" y="205.6" width="27.70" height="20.30" fill="none" stroke="#222" stroke-width="0.9"/>
<text transform="translate(219.5 202.1) scale(1.04 1)" font-size="10.1" text-anchor="middle" fill="#151515" stroke="#151515" stroke-width="0.15">0.17%</text>
<g clip-path="url(#c3)">
<path d="M31.4 334.7h.7M31.5 336.3h.7M28.1 335.7h.7M32.9 335.9h.7M35.2 335.2h.7M33.7 335.7h.7M38.1 335.3h.7M32.5 336.7h.7M31.2 334.8h.7M26.5 334.3h.7M32.3 337.0h.7M31.3 333.2h.7M29.6 336.3h.7M30.3 333.7h.7M31.6 332.7h.7M32.0 333.5h.7M33.2 335.7h.7M30.8 336.7h.7M34.6 335.4h.7M34.4 336.4h.7M33.8 337.5h.7M34.8 335.5h.7M31.9 332.3h.7M26.1 337.1h.7M35.0 333.8h.7M31.0 335.8h.7M31.6 334.5h.7M30.6 334.2h.7M33.7 336.8h.7M31.2 335.3h.7M35.4 337.0h.7M27.7 336.6h.7M31.8 334.9h.7M29.6 336.6h.7M32.1 335.7h.7M34.8 335.0h.7M30.1 333.7h.7M34.3 334.9h.7M36.5 335.4h.7M29.9 332.5h.7M33.5 335.6h.7M29.4 335.2h.7M33.2 335.6h.7M35.3 335.4h.7M32.5 335.3h.7M36.1 336.2h.7M30.2 334.0h.7M32.3 334.6h.7M25.5 336.6h.7M33.7 335.3h.7M29.0 335.2h.7M37.6 336.1h.7M33.1 333.2h.7M28.5 335.9h.7M27.8 335.0h.7M29.5 337.3h.7M29.7 334.9h.7M27.2 333.8h.7M29.2 335.0h.7M27.3 334.4h.7M34.7 337.7h.7M29.2 335.8h.7M26.6 334.7h.7M33.0 335.8h.7M31.4 335.0h.7M30.5 335.3h.7M33.0 336.3h.7M35.5 333.8h.7M31.1 337.0h.7M31.8 335.0h.7M27.4 335.8h.7M34.9 331.6h.7M35.8 335.2h.7M29.5 336.0h.7M33.5 333.6h.7M26.8 334.4h.7M34.9 333.6h.7M30.5 334.9h.7M30.5 335.6h.7M32.7 332.9h.7M34.8 336.4h.7M36.4 333.1h.7M29.8 335.9h.7M28.7 334.7h.7M38.2 334.6h.7M42.9 331.2h.7M38.1 337.1h.7M30.4 335.8h.7M29.4 334.2h.7M34.2 338.7h.7M32.5 335.5h.7M27.3 336.6h.7M33.2 333.6h.7M30.6 335.4h.7M33.6 332.7h.7M33.0 337.0h.7M34.4 334.2h.7M32.6 337.3h.7M29.7 334.0h.7M34.8 335.0h.7M31.4 334.1h.7M26.5 335.3h.7M31.0 335.6h.7M29.8 333.1h.7M26.6 333.1h.7M29.4 336.2h.7M26.0 335.8h.7M30.9 335.9h.7M28.0 336.9h.7M31.9 334.1h.7M35.9 331.2h.7M29.1 337.1h.7M30.5 333.2h.7M32.0 335.1h.7M33.9 334.1h.7M34.8 332.5h.7M35.2 333.2h.7M31.1 332.4h.7M38.7 333.9h.7M34.1 334.2h.7M33.2 334.7h.7M34.6 337.6h.7M24.4 334.0h.7M31.4 335.5h.7M35.9 337.3h.7M33.2 333.6h.7M31.5 334.7h.7M34.4 334.6h.7M33.2 336.5h.7M28.3 335.2h.7M31.6 334.1h.7M32.8 333.8h.7M26.5 336.8h.7M31.6 332.7h.7M32.9 333.6h.7M29.8 336.4h.7M33.1 334.3h.7M30.9 333.5h.7M36.7 334.2h.7M34.9 334.3h.7M29.6 335.3h.7M32.7 336.2h.7M33.0 336.9h.7M27.2 334.0h.7M32.0 331.3h.7M27.6 334.7h.7M28.4 334.7h.7M30.5 336.0h.7M30.1 336.5h.7M28.2 335.6h.7M27.4 331.4h.7M23.5 332.9h.7M30.2 336.8h.7M29.0 334.2h.7M29.7 335.3h.7M33.3 334.9h.7M33.3 333.5h.7M30.4 336.0h.7M34.7 334.6h.7M29.1 334.3h.7M29.9 333.5h.7M30.5 334.9h.7M36.6 335.3h.7M35.9 335.0h.7M31.0 337.3h.7M31.5 335.4h.7M33.6 336.1h.7M29.0 333.3h.7M35.9 332.0h.7M31.1 334.8h.7M30.5 333.9h.7M30.4 334.5h.7M30.1 335.6h.7M28.6 331.9h.7M29.4 336.2h.7M28.4 333.2h.7M30.4 335.9h.7M30.4 334.0h.7M27.5 335.0h.7M23.9 333.7h.7M30.7 335.8h.7M26.3 336.7h.7M32.7 334.6h.7M33.1 335.9h.7M32.9 332.9h.7M34.9 337.1h.7M35.9 333.1h.7M28.6 337.1h.7M31.5 338.2h.7M34.0 336.1h.7M30.0 337.4h.7M32.4 333.3h.7M29.4 334.7h.7M31.2 334.8h.7M30.6 331.6h.7M28.6 335.4h.7M29.3 334.3h.7M34.0 334.6h.7M27.1 335.2h.7M31.9 333.8h.7M35.5 336.5h.7M36.2 336.9h.7M38.6 335.3h.7M33.5 333.5h.7M36.3 333.5h.7M30.8 334.0h.7M33.3 335.4h.7M36.0 336.2h.7M29.7 331.8h.7M29.7 335.9h.7M35.6 333.1h.7M32.4 335.0h.7M35.2 334.6h.7M32.7 334.1h.7M26.8 334.4h.7M31.1 332.9h.7M38.0 336.6h.7M37.6 335.9h.7M27.9 334.2h.7M33.0 337.4h.7" stroke="#111" stroke-width="0.7"/>
<path d="M47.2 334.4h.7M51.7 334.8h.7M49.3 334.6h.7M44.6 335.9h.7M49.7 335.4h.7M50.5 336.5h.7M44.7 335.4h.7M53.2 334.5h.7M43.0 335.2h.7M37.5 336.6h.7M41.8 336.0h.7M51.5 334.7h.7M48.1 334.9h.7M46.3 334.7h.7M46.7 335.8h.7M54.8 333.6h.7M48.6 333.9h.7M51.6 336.2h.7M53.4 334.2h.7M61.8 335.3h.7M53.3 334.8h.7M54.8 335.6h.7M46.7 335.2h.7M46.1 335.4h.7M54.0 336.0h.7M47.4 334.2h.7M49.2 336.1h.7M47.9 336.8h.7M45.4 337.9h.7M50.6 335.4h.7M43.1 334.4h.7M51.3 335.9h.7M45.3 337.4h.7M47.5 337.0h.7M44.6 334.2h.7M52.9 335.7h.7M49.9 335.9h.7M49.8 335.0h.7M49.8 335.1h.7M48.2 335.4h.7" stroke="#999" stroke-width="0.7"/>
<ellipse cx="32" cy="335" rx="6.2" ry="2.3" fill="#0c0c0c"/>
</g>
<g clip-path="url(#c4)">
<path d="M128.2 290.9h.7M116.8 331.7h.7M111.1 335.9h.7M114.6 333.9h.7M113.8 308.2h.7M126.7 334.3h.7M117.5 316.9h.7M102.1 329.9h.7M106.8 305.5h.7M124.0 316.5h.7M114.0 323.2h.7M127.6 306.1h.7M127.2 302.4h.7M110.4 338.0h.7M116.6 335.6h.7M107.1 299.4h.7M118.4 343.1h.7M105.8 312.3h.7M127.1 328.3h.7M128.6 329.6h.7M120.3 303.8h.7M106.5 326.5h.7M94.6 302.9h.7M125.5 298.9h.7M116.2 322.1h.7M115.2 308.4h.7M114.3 297.1h.7M120.0 314.0h.7M109.8 319.5h.7M114.2 327.7h.7M122.9 303.6h.7M113.7 315.7h.7M106.0 310.7h.7M123.8 327.6h.7M116.8 336.9h.7M140.5 338.5h.7M102.3 340.0h.7M132.7 323.4h.7M125.8 308.5h.7M109.1 332.9h.7M115.7 328.6h.7M129.1 306.9h.7M108.0 318.2h.7M122.2 294.4h.7M116.5 330.7h.7M115.4 320.7h.7M114.1 321.6h.7M113.9 306.3h.7M115.1 327.3h.7M118.0 328.8h.7" stroke="#888" stroke-width="0.7"/>
<path d="M114.6 299.8L114.4 312" stroke="#808080" stroke-width="16.60" fill="none" stroke-linecap="round" stroke-linejoin="round"/>
<path d="M114.4 312L112.3 326" stroke="#808080" stroke-width="14.20" fill="none" stroke-linecap="round" stroke-linejoin="round"/>
<path d="M109.3 331.8L117.3 332.8" stroke="#808080" stroke-width="18.60" fill="none" stroke-linecap="round" stroke-linejoin="round"/>
<path d="M121 300.5L126.8 301.8" stroke="#808080" stroke-width="7.00" fill="none" stroke-linecap="round" stroke-linejoin="round"/>
<path d="M106.4 317L106.2 322" stroke="#808080" stroke-width="8.00" fill="none" stroke-linecap="round" stroke-linejoin="round"/>
<path d="M118 336L123.6 337" stroke="#808080" stroke-width="5.40" fill="none" stroke-linecap="round" stroke-linejoin="round"/>
<path d="M114.6 299.8L114.4 312" stroke="#fff" stroke-width="15.70" fill="none" stroke-linecap="round" stroke-linejoin="round"/>
<path d="M114.4 312L112.3 326" stroke="#fff" stroke-width="13.30" fill="none" stroke-linecap="round" stroke-linejoin="round"/>
<path d="M109.3 331.8L117.3 332.8" stroke="#fff" stroke-width="17.70" fill="none" stroke-linecap="round" stroke-linejoin="round"/>
<path d="M121 300.5L126.8 301.8" stroke="#fff" stroke-width="6.10" fill="none" stroke-linecap="round" stroke-linejoin="round"/>
<path d="M106.4 317L106.2 322" stroke="#fff" stroke-width="7.10" fill="none" stroke-linecap="round" stroke-linejoin="round"/>
<path d="M118 336L123.6 337" stroke="#fff" stroke-width="4.50" fill="none" stroke-linecap="round" stroke-linejoin="round"/>
<path d="M114.6 299.8L114.4 312" stroke="#5a5a5a" stroke-width="14.80" fill="none" stroke-linecap="round" stroke-linejoin="round"/>
<path d="M114.4 312L112.3 326" stroke="#5a5a5a" stroke-width="12.40" fill="none" stroke-linecap="round" stroke-linejoin="round"/>
<path d="M109.3 331.8L117.3 332.8" stroke="#5a5a5a" stroke-width="16.80" fill="none" stroke-linecap="round" stroke-linejoin="round"/>
<path d="M121 300.5L126.8 301.8" stroke="#5a5a5a" stroke-width="5.20" fill="none" stroke-linecap="round" stroke-linejoin="round"/>
<path d="M106.4 317L106.2 322" stroke="#5a5a5a" stroke-width="6.20" fill="none" stroke-linecap="round" stroke-linejoin="round"/>
<path d="M118 336L123.6 337" stroke="#5a5a5a" stroke-width="3.60" fill="none" stroke-linecap="round" stroke-linejoin="round"/>
<path d="M114.6 299.8L114.4 312" stroke="#e4e4e4" stroke-width="13.90" fill="none" stroke-linecap="round" stroke-linejoin="round"/>
<path d="M114.4 312L112.3 326" stroke="#e4e4e4" stroke-width="11.50" fill="none" stroke-linecap="round" stroke-linejoin="round"/>
<path d="M109.3 331.8L117.3 332.8" stroke="#e4e4e4" stroke-width="15.90" fill="none" stroke-linecap="round" stroke-linejoin="round"/>
<path d="M121 300.5L126.8 301.8" stroke="#e4e4e4" stroke-width="4.30" fill="none" stroke-linecap="round" stroke-linejoin="round"/>
<path d="M106.4 317L106.2 322" stroke="#e4e4e4" stroke-width="5.30" fill="none" stroke-linecap="round" stroke-linejoin="round"/>
<path d="M118 336L123.6 337" stroke="#e4e4e4" stroke-width="2.70" fill="none" stroke-linecap="round" stroke-linejoin="round"/>
<path d="M114.6 299.8L114.4 312" stroke="#484848" stroke-width="13.00" fill="none" stroke-linecap="round" stroke-linejoin="round"/>
<path d="M114.4 312L112.3 326" stroke="#484848" stroke-width="10.60" fill="none" stroke-linecap="round" stroke-linejoin="round"/>
<path d="M109.3 331.8L117.3 332.8" stroke="#484848" stroke-width="15.00" fill="none" stroke-linecap="round" stroke-linejoin="round"/>
<path d="M121 300.5L126.8 301.8" stroke="#484848" stroke-width="3.40" fill="none" stroke-linecap="round" stroke-linejoin="round"/>
<path d="M106.4 317L106.2 322" stroke="#484848" stroke-width="4.40" fill="none" stroke-linecap="round" stroke-linejoin="round"/>
<path d="M118 336L123.6 337" stroke="#484848" stroke-width="1.80" fill="none" stroke-linecap="round" stroke-linejoin="round"/>
<path d="M114.6 299.8L114.4 312" stroke="#b4b4b4" stroke-width="12.00" fill="none" stroke-linecap="round" stroke-linejoin="round"/>
<path d="M114.4 312L112.3 326" stroke="#b4b4b4" stroke-width="9.60" fill="none" stroke-linecap="round" stroke-linejoin="round"/>
<path d="M109.3 331.8L117.3 332.8" stroke="#b4b4b4" stroke-width="14.00" fill="none" stroke-linecap="round" stroke-linejoin="round"/>
<path d="M121 300.5L126.8 301.8" stroke="#b4b4b4" stroke-width="2.40" fill="none" stroke-linecap="round" stroke-linejoin="round"/>
<path d="M106.4 317L106.2 322" stroke="#b4b4b4" stroke-width="3.40" fill="none" stroke-linecap="round" stroke-linejoin="round"/>
<path d="M118 336L123.6 337" stroke="#b4b4b4" stroke-width="0.80" fill="none" stroke-linecap="round" stroke-linejoin="round"/>
<path d="M114.6 299.8L114.4 312" stroke="#3a3a3a" stroke-width="11.00" fill="none" stroke-linecap="round" stroke-linejoin="round"/>
<path d="M114.4 312L112.3 326" stroke="#3a3a3a" stroke-width="8.60" fill="none" stroke-linecap="round" stroke-linejoin="round"/>
<path d="M109.3 331.8L117.3 332.8" stroke="#3a3a3a" stroke-width="13.00" fill="none" stroke-linecap="round" stroke-linejoin="round"/>
<path d="M121 300.5L126.8 301.8" stroke="#3a3a3a" stroke-width="1.40" fill="none" stroke-linecap="round" stroke-linejoin="round"/>
<path d="M106.4 317L106.2 322" stroke="#3a3a3a" stroke-width="2.40" fill="none" stroke-linecap="round" stroke-linejoin="round"/>
<path d="M114.6 299.8L114.4 312" stroke="#7c7c7c" stroke-width="10.00" fill="none" stroke-linecap="round" stroke-linejoin="round"/>
<path d="M114.4 312L112.3 326" stroke="#7c7c7c" stroke-width="7.60" fill="none" stroke-linecap="round" stroke-linejoin="round"/>
<path d="M109.3 331.8L117.3 332.8" stroke="#7c7c7c" stroke-width="12.00" fill="none" stroke-linecap="round" stroke-linejoin="round"/>
<path d="M121 300.5L126.8 301.8" stroke="#7c7c7c" stroke-width="0.40" fill="none" stroke-linecap="round" stroke-linejoin="round"/>
<path d="M106.4 317L106.2 322" stroke="#7c7c7c" stroke-width="1.40" fill="none" stroke-linecap="round" stroke-linejoin="round"/>
<path d="M114.6 299.8L114.4 312" stroke="#1c1c1c" stroke-width="8.80" fill="none" stroke-linecap="round" stroke-linejoin="round"/>
<path d="M114.4 312L112.3 326" stroke="#1c1c1c" stroke-width="6.40" fill="none" stroke-linecap="round" stroke-linejoin="round"/>
<path d="M109.3 331.8L117.3 332.8" stroke="#1c1c1c" stroke-width="10.80" fill="none" stroke-linecap="round" stroke-linejoin="round"/>
<path d="M114.6 299.8L114.4 312" stroke="#3c3c3c" stroke-width="7.20" fill="none" stroke-linecap="round" stroke-linejoin="round"/>
<path d="M114.4 312L112.3 326" stroke="#3c3c3c" stroke-width="4.80" fill="none" stroke-linecap="round" stroke-linejoin="round"/>
<path d="M109.3 331.8L117.3 332.8" stroke="#3c3c3c" stroke-width="9.20" fill="none" stroke-linecap="round" stroke-linejoin="round"/>
<path d="M114.6 299.8L114.4 312" stroke="#0c0c0c" stroke-width="5.40" fill="none" stroke-linecap="round" stroke-linejoin="round"/>
<path d="M114.4 312L112.3 326" stroke="#0c0c0c" stroke-width="3.00" fill="none" stroke-linecap="round" stroke-linejoin="round"/>
<path d="M109.3 331.8L117.3 332.8" stroke="#0c0c0c" stroke-width="7.40" fill="none" stroke-linecap="round" stroke-linejoin="round"/>
<circle cx="114.6" cy="308" r="1.2" fill="#fff"/><circle cx="114" cy="335.8" r="1" fill="#eee"/>
<ellipse cx="108.2" cy="319.4" rx="1.5" ry="2.2" fill="#f4f4f4"/>
</g>
<rect x="99.5" y="287.2" width="34.10" height="37.80" fill="none" stroke="#222" stroke-width="0.9"/>
<text transform="translate(115.7 284.6) scale(1.04 1)" font-size="10.1" text-anchor="middle" fill="#151515" stroke="#151515" stroke-width="0.15">61%</text>
<g clip-path="url(#c5)">
<path d="M204.5 307.9h.7M189.4 314.5h.7M208.6 312.5h.7M203.5 336.5h.7M226.4 318.3h.7M196.6 308.3h.7M179.2 331.2h.7M199.3 293.7h.7M191.8 313.5h.7M190.1 303.0h.7M198.8 321.9h.7M177.2 313.0h.7M191.0 335.6h.7M211.6 335.5h.7M202.8 310.3h.7M194.1 295.5h.7M180.1 330.0h.7M204.1 321.3h.7M209.5 335.6h.7M196.5 307.9h.7M191.2 303.9h.7M188.5 312.0h.7M186.5 310.7h.7M193.4 330.1h.7M203.6 334.9h.7M199.8 308.9h.7M189.4 310.6h.7M198.4 322.6h.7M211.5 323.3h.7M201.9 326.5h.7M191.0 317.4h.7M188.1 310.3h.7M199.3 338.8h.7M182.9 291.6h.7M189.0 338.8h.7M188.6 305.2h.7M204.5 320.7h.7M194.5 319.8h.7M210.6 333.2h.7M205.8 329.5h.7" stroke="#999" stroke-width="0.7"/>
<path d="M195.2 300.5L195.2 316" stroke="#6e6e6e" stroke-width="18.00" fill="none" stroke-linecap="round" stroke-linejoin="round"/>
<path d="M191 294L196 293" stroke="#6e6e6e" stroke-width="7.00" fill="none" stroke-linecap="round" stroke-linejoin="round"/>
<path d="M203.5 309L205 313" stroke="#6e6e6e" stroke-width="9.00" fill="none" stroke-linecap="round" stroke-linejoin="round"/>
<path d="M189 318L190 323" stroke="#6e6e6e" stroke-width="11.00" fill="none" stroke-linecap="round" stroke-linejoin="round"/>
<path d="M198 292L200.5 291.5" stroke="#6e6e6e" stroke-width="3.50" fill="none" stroke-linecap="round" stroke-linejoin="round"/>
<path d="M195.2 300.5L195.2 316" stroke="#fff" stroke-width="17.10" fill="none" stroke-linecap="round" stroke-linejoin="round"/>
<path d="M191 294L196 293" stroke="#fff" stroke-width="6.10" fill="none" stroke-linecap="round" stroke-linejoin="round"/>
<path d="M203.5 309L205 313" stroke="#fff" stroke-width="8.10" fill="none" stroke-linecap="round" stroke-linejoin="round"/>
<path d="M189 318L190 323" stroke="#fff" stroke-width="10.10" fill="none" stroke-linecap="round" stroke-linejoin="round"/>
<path d="M198 292L200.5 291.5" stroke="#fff" stroke-width="2.60" fill="none" stroke-linecap="round" stroke-linejoin="round"/>
<path d="M195.2 300.5L195.2 316" stroke="#707070" stroke-width="15.00" fill="none" stroke-linecap="round" stroke-linejoin="round"/>
<path d="M191 294L196 293" stroke="#707070" stroke-width="4.00" fill="none" stroke-linecap="round" stroke-linejoin="round"/>
<path d="M203.5 309L205 313" stroke="#707070" stroke-width="6.00" fill="none" stroke-linecap="round" stroke-linejoin="round"/>
<path d="M189 318L190 323" stroke="#707070" stroke-width="8.00" fill="none" stroke-linecap="round" stroke-linejoin="round"/>
<path d="M198 292L200.5 291.5" stroke="#707070" stroke-width="0.50" fill="none" stroke-linecap="round" stroke-linejoin="round"/>
<path d="M195.2 300.5L195.2 316" stroke="#fff" stroke-width="14.10" fill="none" stroke-linecap="round" stroke-linejoin="round"/>
<path d="M191 294L196 293" stroke="#fff" stroke-width="3.10" fill="none" stroke-linecap="round" stroke-linejoin="round"/>
<path d="M203.5 309L205 313" stroke="#fff" stroke-width="5.10" fill="none" stroke-linecap="round" stroke-linejoin="round"/>
<path d="M189 318L190 323" stroke="#fff" stroke-width="7.10" fill="none" stroke-linecap="round" stroke-linejoin="round"/>
<path d="M195.2 300.5L195.2 316" stroke="#6a6a6a" stroke-width="12.00" fill="none" stroke-linecap="round" stroke-linejoin="round"/>
<path d="M191 294L196 293" stroke="#6a6a6a" stroke-width="1.00" fill="none" stroke-linecap="round" stroke-linejoin="round"/>
<path d="M203.5 309L205 313" stroke="#6a6a6a" stroke-width="3.00" fill="none" stroke-linecap="round" stroke-linejoin="round"/>
<path d="M189 318L190 323" stroke="#6a6a6a" stroke-width="5.00" fill="none" stroke-linecap="round" stroke-linejoin="round"/>
<path d="M195.2 300.5L195.2 316" stroke="#f6f6f6" stroke-width="11.10" fill="none" stroke-linecap="round" stroke-linejoin="round"/>
<path d="M203.5 309L205 313" stroke="#f6f6f6" stroke-width="2.10" fill="none" stroke-linecap="round" stroke-linejoin="round"/>
<path d="M189 318L190 323" stroke="#f6f6f6" stroke-width="4.10" fill="none" stroke-linecap="round" stroke-linejoin="round"/>
<path d="M195.2 300.5L195.2 316" stroke="#666" stroke-width="9.00" fill="none" stroke-linecap="round" stroke-linejoin="round"/>
<path d="M189 318L190 323" stroke="#666" stroke-width="2.00" fill="none" stroke-linecap="round" stroke-linejoin="round"/>
<path d="M195.2 300.5L195.2 316" stroke="#e4e4e4" stroke-width="8.10" fill="none" stroke-linecap="round" stroke-linejoin="round"/>
<path d="M189 318L190 323" stroke="#e4e4e4" stroke-width="1.10" fill="none" stroke-linecap="round" stroke-linejoin="round"/>
<path d="M195.2 300.5L195.2 316" stroke="#5a5a5a" stroke-width="6.60" fill="none" stroke-linecap="round" stroke-linejoin="round"/>
<path d="M195.2 300.5L195.2 316" stroke="#b0b0b0" stroke-width="5.80" fill="none" stroke-linecap="round" stroke-linejoin="round"/>
<path d="M195.2 300.5L195.2 316" stroke="#555" stroke-width="4.80" fill="none" stroke-linecap="round" stroke-linejoin="round"/>
<path d="M195.2 300.5L195.2 316" stroke="#858585" stroke-width="4.00" fill="none" stroke-linecap="round" stroke-linejoin="round"/>
<circle cx="195.3" cy="304.6" r="0.8" fill="#fff"/><circle cx="195.4" cy="313.8" r="0.9" fill="#fff"/>
<path d="M186.3 332.2L196 333.6" stroke="#666" stroke-width="16.60" fill="none" stroke-linecap="round" stroke-linejoin="round"/>
<path d="M196 334.5L206.5 337" stroke="#666" stroke-width="7.40" fill="none" stroke-linecap="round" stroke-linejoin="round"/>
<path d="M186.3 332.2L196 333.6" stroke="#f4f4f4" stroke-width="15.80" fill="none" stroke-linecap="round" stroke-linejoin="round"/>
<path d="M196 334.5L206.5 337" stroke="#f4f4f4" stroke-width="6.60" fill="none" stroke-linecap="round" stroke-linejoin="round"/>
<path d="M186.3 332.2L196 333.6" stroke="#3a3a3a" stroke-width="15.00" fill="none" stroke-linecap="round" stroke-linejoin="round"/>
<path d="M196 334.5L206.5 337" stroke="#3a3a3a" stroke-width="5.80" fill="none" stroke-linecap="round" stroke-linejoin="round"/>
<path d="M186.3 332.2L196 333.6" stroke="#c4c4c4" stroke-width="14.20" fill="none" stroke-linecap="round" stroke-linejoin="round"/>
<path d="M196 334.5L206.5 337" stroke="#c4c4c4" stroke-width="5.00" fill="none" stroke-linecap="round" stroke-linejoin="round"/>
<path d="M186.3 332.2L196 333.6" stroke="#111" stroke-width="13.40" fill="none" stroke-linecap="round" stroke-linejoin="round"/>
<path d="M196 334.5L206.5 337" stroke="#111" stroke-width="4.20" fill="none" stroke-linecap="round" stroke-linejoin="round"/>
<path d="M186.3 332.2L196 333.6" stroke="#7a7a7a" stroke-width="11.20" fill="none" stroke-linecap="round" stroke-linejoin="round"/>
<path d="M196 334.5L206.5 337" stroke="#7a7a7a" stroke-width="2.00" fill="none" stroke-linecap="round" stroke-linejoin="round"/>
<path d="M186.3 332.2L196 333.6" stroke="#111" stroke-width="10.20" fill="none" stroke-linecap="round" stroke-linejoin="round"/>
<path d="M196 334.5L206.5 337" stroke="#111" stroke-width="1.00" fill="none" stroke-linecap="round" stroke-linejoin="round"/>
<path d="M186.3 332.2L196 333.6" stroke="#6a6a6a" stroke-width="8.20" fill="none" stroke-linecap="round" stroke-linejoin="round"/>
<path d="M186.3 332.2L196 333.6" stroke="#222" stroke-width="7.00" fill="none" stroke-linecap="round" stroke-linejoin="round"/>
<path d="M186.3 332.2L196 333.6" stroke="#8a8a8a" stroke-width="5.60" fill="none" stroke-linecap="round" stroke-linejoin="round"/>
<circle cx="188.5" cy="332.2" r="0.8" fill="#fff"/><circle cx="193.5" cy="333.4" r="0.8" fill="#fff"/>
</g>
<rect x="180.2" y="287.2" width="33.40" height="37.80" fill="none" stroke="#222" stroke-width="0.9"/>
<text transform="translate(197.6 284.6) scale(1.04 1)" font-size="10.1" text-anchor="middle" fill="#151515" stroke="#151515" stroke-width="0.15">41%</text>
<path d="M8.6 233V194.6" stroke="#111" stroke-width="0.95"/><polygon points="8.6,190.6 6.5,195.6 10.7,195.6" fill="#111"/>
<text transform="translate(11.4 246.6) rotate(-90) scale(1.04 1)" font-size="10.5" text-anchor="middle" fill="#151515" stroke="#151515" stroke-width="0.15">c-Kit</text>
<path d="M8.6 299.5V279.6" stroke="#111" stroke-width="0.95"/><polygon points="8.6,275.6 6.5,280.6 10.7,280.6" fill="#111"/>
<text transform="translate(11.4 323.8) rotate(-90) scale(1.04 1)" font-size="10.5" text-anchor="middle" fill="#151515" stroke="#151515" stroke-width="0.15">mCherry</text>
<text transform="translate(17.9 272.7) scale(1.02 1)" font-size="10.1" text-anchor="start" fill="#151515" stroke="#151515" stroke-width="0.15">Sca-1</text>
<path d="M50.5 269.7H216" stroke="#111" stroke-width="1.25"/><polygon points="220,269.7 215,267.59999999999997 215,271.8" fill="#111"/>
<text transform="translate(19.4 358.6) scale(1.04 1)" font-size="10.1" text-anchor="start" fill="#151515" stroke="#151515" stroke-width="0.15">FSC</text>
<path d="M47.5 355.7H216" stroke="#111" stroke-width="1.15"/><polygon points="220,355.7 215,353.59999999999997 215,357.8" fill="#111"/>
<path d="M67.8 218.9V286.4" stroke="#111" stroke-width="0.95"/><polygon points="67.8,290.4 65.8,285.79999999999995 69.8,285.79999999999995" fill="#111"/>
<path d="M147 217.6V286.4" stroke="#111" stroke-width="0.95"/><polygon points="147,290.4 145,285.79999999999995 149,285.79999999999995" fill="#111"/>
<path d="M227.2 217.9V286.4" stroke="#111" stroke-width="0.95"/><polygon points="227.2,290.4 225.2,285.79999999999995 229.2,285.79999999999995" fill="#111"/>
<text transform="translate(285 246.5) scale(1.04 1)" font-size="10.1" text-anchor="middle" fill="#151515" stroke="#151515" stroke-width="0.15">CFU-C on</text>
<text transform="translate(285.3 258.6) scale(1.04 1)" font-size="10.1" text-anchor="middle" fill="#151515" stroke="#151515" stroke-width="0.15">isolated cells</text>
<path d="M262 269.8H304.5" stroke="#111" stroke-width="0.95"/><polygon points="308.5,269.8 303.5,267.7 303.5,271.90000000000003" fill="#111"/>
<rect x="358.5" y="194.0" width="151.70" height="100.50" fill="none" stroke="#111" stroke-width="1.1"/>
<path d="M355.7 294.50H358.5" stroke="#111" stroke-width="1"/>
<text transform="translate(351.7 298.8)" font-size="10" text-anchor="end" fill="#151515" stroke="#151515" stroke-width="0.15">0</text>
<path d="M355.7 280.14H358.5" stroke="#111" stroke-width="1"/>
<text transform="translate(351.7 284.44300000000004)" font-size="10" text-anchor="end" fill="#151515" stroke="#151515" stroke-width="0.15">10</text>
<path d="M355.7 265.79H358.5" stroke="#111" stroke-width="1"/>
<text transform="translate(351.7 270.086)" font-size="10" text-anchor="end" fill="#151515" stroke="#151515" stroke-width="0.15">20</text>
<path d="M355.7 251.43H358.5" stroke="#111" stroke-width="1"/>
<text transform="translate(351.7 255.729)" font-size="10" text-anchor="end" fill="#151515" stroke="#151515" stroke-width="0.15">30</text>
<path d="M355.7 237.07H358.5" stroke="#111" stroke-width="1"/>
<text transform="translate(351.7 241.372)" font-size="10" text-anchor="end" fill="#151515" stroke="#151515" stroke-width="0.15">40</text>
<path d="M355.7 222.72H358.5" stroke="#111" stroke-width="1"/>
<text transform="translate(351.7 227.01500000000001)" font-size="10" text-anchor="end" fill="#151515" stroke="#151515" stroke-width="0.15">50</text>
<path d="M355.7 208.36H358.5" stroke="#111" stroke-width="1"/>
<text transform="translate(351.7 212.65800000000002)" font-size="10" text-anchor="end" fill="#151515" stroke="#151515" stroke-width="0.15">60</text>
<path d="M355.7 194.00H358.5" stroke="#111" stroke-width="1"/>
<text transform="translate(351.7 198.30100000000002)" font-size="10" text-anchor="end" fill="#151515" stroke="#151515" stroke-width="0.15">70</text>
<text transform="translate(331.2 244) rotate(-90) scale(1.04 1)" font-size="10.1" text-anchor="middle" fill="#151515" stroke="#151515" stroke-width="0.15">Number of colonies</text>
<path d="M367.20 211.23V202.33M364.20 202.33H370.20" stroke="#222" stroke-width="0.8" fill="none"/>
<rect x="361.8" y="211.23" width="10.80" height="83.27" fill="#000" stroke="#222" stroke-width="0.7"/>
<path d="M384.10 264.49V260.33M381.10 260.33H387.10" stroke="#222" stroke-width="0.8" fill="none"/>
<rect x="378.3" y="264.49" width="11.60" height="30.01" fill="#6e6e6e" stroke="#222" stroke-width="0.7"/>
<path d="M400.75 286.17V286.17M397.75 286.17H403.75" stroke="#222" stroke-width="0.8" fill="none"/>
<rect x="394.8" y="286.17" width="11.90" height="8.33" fill="#cfcfcf" stroke="#222" stroke-width="0.7"/>
<path d="M434.55 232.05V222.72M431.55 222.72H437.55" stroke="#222" stroke-width="0.8" fill="none"/>
<rect x="428.9" y="232.05" width="11.30" height="62.45" fill="#000" stroke="#222" stroke-width="0.7"/>
<path d="M451.20 275.41V272.96M448.20 272.96H454.20" stroke="#222" stroke-width="0.8" fill="none"/>
<rect x="445.6" y="275.41" width="11.20" height="19.09" fill="#6e6e6e" stroke="#222" stroke-width="0.7"/>
<path d="M467.85 288.47V287.47M464.85 287.47H470.85" stroke="#222" stroke-width="0.8" fill="none"/>
<rect x="462.1" y="288.47" width="11.50" height="6.03" fill="#cfcfcf" stroke="#222" stroke-width="0.7"/>
<path d="M501.85 287.90V282.58M498.85 282.58H504.85" stroke="#222" stroke-width="0.8" fill="none"/>
<rect x="496.4" y="287.90" width="10.90" height="6.60" fill="#000" stroke="#222" stroke-width="0.7"/>
<text transform="translate(501.6 281.4)" font-size="9.6" text-anchor="middle" fill="#151515" stroke="#151515" stroke-width="0.35">***</text>
<rect x="444.7" y="197.5" width="61.9" height="52.8" fill="#fff" stroke="#4a4a4a" stroke-width="0.8"/>
<text transform="translate(476.3 209.8) scale(1.04 1)" font-size="10.1" text-anchor="middle" fill="#151515" stroke="#151515" stroke-width="0.15">Cells plated</text>
<rect x="450.5" y="216.0" width="14" height="4.8" fill="#000" stroke="#333" stroke-width="0.6"/>
<rect x="450.5" y="228.79999999999998" width="14" height="4.8" fill="#6e6e6e" stroke="#333" stroke-width="0.6"/>
<rect x="450.5" y="241.5" width="14" height="4.8" fill="#cfcfcf" stroke="#333" stroke-width="0.6"/>
<text transform="translate(471.2 222.1)" font-size="10.1" text-anchor="start" fill="#151515" stroke="#151515" stroke-width="0.15">300</text>
<text transform="translate(471.2 234.9)" font-size="10.1" text-anchor="start" fill="#151515" stroke="#151515" stroke-width="0.15">100</text>
<text transform="translate(471.8 247.7)" font-size="10.1" text-anchor="start" fill="#151515" stroke="#151515" stroke-width="0.15">33</text>
<text transform="translate(387.3 303.6) rotate(-45) scale(1.04 1)" font-size="10.3" text-anchor="end" fill="#151515" stroke="#151515" stroke-width="0.15">Non-manipulated control</text>
<text transform="translate(455.4 302) rotate(-45) scale(1.04 1)" font-size="10.3" text-anchor="end" fill="#151515" stroke="#151515" stroke-width="0.15">Control-shRNA (1)</text>
<text transform="translate(507.4 302) rotate(-45) scale(1.04 1)" font-size="10.3" text-anchor="end" fill="#151515" stroke="#151515" stroke-width="0.15">Nfix-shRNA (2)</text>
</g>
</svg>
</body></html>
